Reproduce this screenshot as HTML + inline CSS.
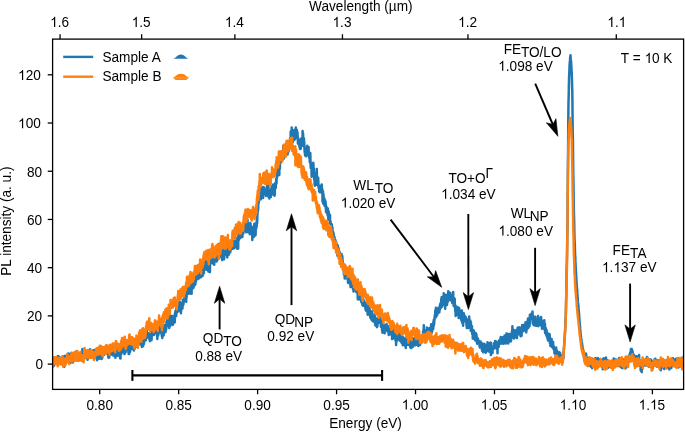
<!DOCTYPE html>
<html><head><meta charset="utf-8"><style>
html,body{margin:0;padding:0;background:#fff;}
svg{display:block;will-change:transform;}
text{font-family:"Liberation Sans",sans-serif;font-size:13.64px;fill:#000;}
</style></head><body>
<svg width="685" height="432" viewBox="0 0 685 432">

<rect width="685" height="432" fill="#fff"/>
<clipPath id="c"><rect x="52.6" y="39.1" width="631.0" height="350.29999999999995"/></clipPath><g clip-path="url(#c)"><polyline points="49.7,361.9 49.8,360.8 49.9,361.7 50.0,364.7 50.1,360.2 50.3,361.0 50.4,362.7 50.5,360.5 50.6,360.8 50.7,361.0 50.9,361.5 51.0,360.6 51.1,363.3 51.2,362.3 51.3,363.1 51.5,361.1 51.6,362.4 51.7,363.1 51.8,364.1 51.9,363.1 52.1,362.5 52.2,362.9 52.3,359.7 52.4,360.1 52.5,367.2 52.7,365.4 52.8,361.9 52.9,362.3 53.0,361.0 53.1,361.1 53.3,357.4 53.4,364.0 53.5,362.7 53.6,358.1 53.7,361.1 53.9,361.2 54.0,363.6 54.1,365.8 54.2,362.2 54.3,362.2 54.5,364.7 54.6,363.5 54.7,362.2 54.8,363.9 54.9,362.3 55.1,361.9 55.2,362.1 55.3,363.2 55.4,361.0 55.5,360.3 55.7,361.2 55.8,363.2 55.9,359.6 56.0,361.6 56.1,358.3 56.3,361.6 56.4,357.1 56.5,358.5 56.6,360.6 56.7,358.6 56.9,357.8 57.0,357.4 57.1,360.0 57.2,360.4 57.3,358.0 57.5,359.5 57.6,358.2 57.7,357.2 57.8,362.0 57.9,358.1 58.1,356.1 58.2,359.0 58.3,359.9 58.4,356.7 58.5,357.7 58.7,356.4 58.8,359.0 58.9,361.4 59.0,358.8 59.1,359.7 59.3,357.5 59.4,359.0 59.5,362.9 59.6,362.4 59.7,358.5 59.9,359.2 60.0,362.1 60.1,361.0 60.2,360.2 60.3,360.2 60.5,359.3 60.6,360.4 60.7,360.9 60.8,360.9 60.9,357.9 61.1,364.2 61.2,359.6 61.3,359.0 61.4,361.8 61.5,358.2 61.7,360.2 61.8,357.2 61.9,359.4 62.0,357.9 62.1,357.0 62.3,358.9 62.4,361.5 62.5,362.9 62.6,356.4 62.7,360.2 62.9,361.5 63.0,359.9 63.1,360.6 63.2,358.7 63.3,360.5 63.5,360.7 63.6,362.5 63.7,360.3 63.8,363.6 63.9,360.3 64.1,358.7 64.2,364.9 64.3,366.7 64.4,360.2 64.5,356.0 64.7,362.9 64.8,363.1 64.9,359.0 65.0,361.6 65.1,360.6 65.3,360.1 65.4,358.1 65.5,359.9 65.6,358.4 65.7,359.2 65.9,360.5 66.0,359.3 66.1,360.5 66.2,358.4 66.3,360.7 66.5,360.5 66.6,355.2 66.7,358.2 66.8,358.0 66.9,356.6 67.1,358.2 67.2,357.5 67.3,355.9 67.4,355.9 67.5,358.6 67.7,354.3 67.8,357.2 67.9,358.2 68.0,358.1 68.1,357.3 68.3,353.5 68.4,359.6 68.5,357.1 68.6,362.1 68.7,358.0 68.9,356.2 69.0,358.6 69.1,359.4 69.2,357.6 69.3,356.6 69.5,356.7 69.6,354.0 69.7,357.7 69.8,359.4 69.9,358.6 70.1,358.6 70.2,358.5 70.3,358.9 70.4,358.7 70.5,362.7 70.7,357.6 70.8,360.6 70.9,361.9 71.0,358.2 71.1,356.7 71.3,358.3 71.4,358.8 71.5,360.8 71.6,352.7 71.7,356.5 71.9,360.4 72.0,359.3 72.1,357.2 72.2,360.4 72.3,356.6 72.5,357.7 72.6,354.2 72.7,354.8 72.8,362.5 72.9,357.0 73.1,360.6 73.2,355.1 73.3,357.2 73.4,356.6 73.5,360.0 73.7,353.9 73.8,353.5 73.9,359.7 74.0,356.6 74.1,358.5 74.3,357.0 74.4,359.3 74.5,352.5 74.6,358.1 74.7,356.4 74.9,354.5 75.0,356.5 75.1,355.4 75.2,355.8 75.3,354.6 75.5,356.5 75.6,354.8 75.7,354.1 75.8,354.1 75.9,353.1 76.1,353.7 76.2,351.4 76.3,353.6 76.4,353.2 76.5,354.4 76.7,354.4 76.8,356.2 76.9,352.9 77.0,356.8 77.1,356.4 77.3,354.5 77.4,354.9 77.5,356.9 77.6,360.6 77.7,355.7 77.9,356.3 78.0,359.9 78.1,355.5 78.2,358.6 78.3,359.5 78.5,357.0 78.6,357.6 78.7,356.8 78.8,360.6 78.9,353.5 79.1,358.4 79.2,360.3 79.3,355.8 79.4,357.7 79.5,356.1 79.7,357.4 79.8,356.6 79.9,355.8 80.0,357.7 80.1,354.5 80.3,356.8 80.4,357.4 80.5,355.3 80.6,354.4 80.7,355.7 80.9,357.0 81.0,353.8 81.1,358.7 81.2,357.2 81.3,354.9 81.5,357.8 81.6,354.8 81.7,355.0 81.8,353.0 81.9,356.8 82.1,356.3 82.2,354.5 82.3,360.5 82.4,349.1 82.5,357.3 82.7,357.5 82.8,354.3 82.9,356.2 83.0,359.9 83.1,354.8 83.3,354.1 83.4,356.7 83.5,356.2 83.6,354.5 83.7,357.3 83.9,354.5 84.0,355.0 84.1,356.9 84.2,358.6 84.3,356.3 84.5,357.8 84.6,354.1 84.7,355.9 84.8,354.6 84.9,355.8 85.1,355.4 85.2,357.3 85.3,353.9 85.4,351.2 85.5,355.2 85.7,355.5 85.8,354.3 85.9,354.8 86.0,355.2 86.1,353.5 86.3,354.6 86.4,351.3 86.5,354.8 86.6,354.6 86.7,353.8 86.9,356.9 87.0,353.7 87.1,358.3 87.2,358.9 87.3,358.0 87.5,357.4 87.6,359.8 87.7,356.6 87.8,359.6 87.9,352.7 88.1,355.3 88.2,355.9 88.3,356.0 88.4,354.5 88.5,353.8 88.7,355.2 88.8,354.7 88.9,353.0 89.0,353.6 89.1,350.5 89.3,350.0 89.4,352.4 89.5,351.4 89.6,355.2 89.7,351.1 89.9,352.5 90.0,351.5 90.1,349.2 90.2,357.3 90.3,352.0 90.5,354.9 90.6,351.5 90.7,355.6 90.8,354.1 90.9,352.9 91.1,352.2 91.2,353.5 91.3,355.4 91.4,355.0 91.5,352.0 91.7,353.8 91.8,357.2 91.9,351.7 92.0,352.5 92.1,351.3 92.3,353.7 92.4,351.1 92.5,354.9 92.6,351.4 92.7,353.6 92.9,351.1 93.0,350.4 93.1,354.1 93.2,352.8 93.3,352.7 93.5,350.5 93.6,351.8 93.7,356.1 93.8,352.9 93.9,352.6 94.1,350.0 94.2,358.2 94.3,356.0 94.4,352.2 94.5,357.9 94.7,357.6 94.8,354.0 94.9,352.9 95.0,356.4 95.1,353.8 95.3,354.6 95.4,351.6 95.5,354.7 95.6,352.6 95.7,356.6 95.9,355.1 96.0,355.1 96.1,352.7 96.2,354.1 96.3,357.2 96.5,354.4 96.6,354.5 96.7,356.6 96.8,357.1 96.9,357.1 97.1,360.2 97.2,356.2 97.3,356.0 97.4,358.2 97.5,354.6 97.7,358.9 97.8,357.0 97.9,356.6 98.0,351.2 98.1,358.5 98.3,353.7 98.4,352.7 98.5,353.6 98.6,351.7 98.7,356.2 98.9,358.8 99.0,352.4 99.1,356.6 99.2,354.9 99.3,357.0 99.5,352.5 99.6,353.2 99.7,356.8 99.8,353.6 99.9,355.5 100.1,356.2 100.2,355.9 100.3,356.6 100.4,355.0 100.5,355.8 100.7,357.4 100.8,354.8 100.9,358.4 101.0,356.8 101.1,356.7 101.3,354.7 101.4,359.0 101.5,354.3 101.6,357.5 101.7,358.0 101.9,358.6 102.0,355.4 102.1,355.9 102.2,357.7 102.3,357.1 102.5,355.4 102.6,355.2 102.7,351.2 102.8,350.5 102.9,351.5 103.1,352.7 103.2,354.5 103.3,353.6 103.4,352.0 103.5,349.5 103.7,352.0 103.8,354.4 103.9,353.5 104.0,354.4 104.1,354.7 104.3,353.2 104.4,352.2 104.5,348.6 104.6,352.2 104.7,349.5 104.9,348.6 105.0,352.2 105.1,349.0 105.2,350.9 105.3,353.3 105.5,351.8 105.6,352.2 105.7,352.5 105.8,352.2 105.9,351.2 106.1,350.2 106.2,352.7 106.3,350.6 106.4,353.6 106.5,349.8 106.7,349.1 106.8,350.3 106.9,350.4 107.0,350.2 107.1,353.3 107.3,352.9 107.4,351.9 107.5,351.3 107.6,353.0 107.7,348.9 107.9,354.8 108.0,352.7 108.1,352.3 108.2,355.4 108.3,356.9 108.5,357.6 108.6,354.7 108.7,352.5 108.8,354.0 108.9,353.9 109.1,354.7 109.2,352.3 109.3,357.6 109.4,352.3 109.5,352.4 109.7,355.1 109.8,347.4 109.9,354.7 110.0,353.8 110.1,353.9 110.3,348.7 110.4,352.7 110.5,349.2 110.6,349.1 110.7,349.7 110.9,352.8 111.0,351.3 111.1,346.5 111.2,352.8 111.3,352.0 111.5,350.8 111.6,349.0 111.7,350.4 111.8,349.6 111.9,353.6 112.1,349.4 112.2,350.3 112.3,355.0 112.4,348.3 112.5,346.6 112.7,353.1 112.8,351.3 112.9,348.4 113.0,354.5 113.1,355.5 113.3,354.1 113.4,352.6 113.5,352.6 113.6,350.2 113.7,350.9 113.9,354.2 114.0,350.5 114.1,347.8 114.2,349.5 114.3,350.2 114.5,352.7 114.6,351.1 114.7,355.8 114.8,352.6 114.9,354.9 115.1,352.7 115.2,354.3 115.3,357.7 115.4,355.0 115.5,352.4 115.7,357.0 115.8,355.3 115.9,355.2 116.0,356.3 116.1,350.6 116.3,349.6 116.4,350.5 116.5,351.6 116.6,352.2 116.7,351.7 116.9,353.8 117.0,350.4 117.1,350.1 117.2,350.4 117.3,353.4 117.5,352.0 117.6,352.4 117.7,348.1 117.8,351.4 117.9,355.7 118.1,350.6 118.2,347.4 118.3,349.9 118.4,349.4 118.5,351.2 118.7,355.6 118.8,355.3 118.9,354.3 119.0,352.0 119.1,351.3 119.3,350.7 119.4,353.1 119.5,350.4 119.6,353.1 119.7,354.1 119.9,350.7 120.0,354.4 120.1,358.1 120.2,354.4 120.3,351.8 120.5,358.5 120.6,352.5 120.7,352.4 120.8,354.7 120.9,354.7 121.1,352.4 121.2,352.4 121.3,348.2 121.4,349.8 121.5,353.7 121.7,351.7 121.8,347.9 121.9,344.9 122.0,347.8 122.1,347.6 122.3,344.0 122.4,347.8 122.5,348.3 122.6,350.7 122.7,348.8 122.9,343.1 123.0,351.1 123.1,348.3 123.2,351.7 123.3,348.7 123.5,347.4 123.6,350.2 123.7,348.5 123.8,348.9 123.9,349.9 124.1,347.6 124.2,350.0 124.3,352.6 124.4,353.7 124.5,354.1 124.7,351.2 124.8,352.7 124.9,345.7 125.0,347.2 125.1,351.0 125.3,350.5 125.4,345.4 125.5,352.4 125.6,348.5 125.7,344.8 125.9,348.2 126.0,346.7 126.1,346.0 126.2,343.5 126.3,344.4 126.5,343.8 126.6,343.4 126.7,344.8 126.8,342.7 126.9,347.0 127.1,348.9 127.2,350.1 127.3,350.1 127.4,348.2 127.5,345.1 127.7,347.3 127.8,349.3 127.9,350.6 128.0,349.6 128.1,349.6 128.3,350.1 128.4,352.2 128.5,350.2 128.6,347.1 128.7,354.1 128.9,350.0 129.0,354.1 129.1,348.9 129.2,350.9 129.3,353.6 129.5,348.6 129.6,344.6 129.7,348.0 129.8,345.3 129.9,347.7 130.1,351.8 130.2,345.6 130.3,347.2 130.4,349.2 130.5,343.9 130.7,344.8 130.8,346.4 130.9,343.3 131.0,347.1 131.1,343.8 131.3,347.3 131.4,344.1 131.5,347.6 131.6,341.7 131.7,344.1 131.9,341.2 132.0,345.8 132.1,344.6 132.2,341.4 132.3,349.0 132.5,345.0 132.6,340.2 132.7,341.3 132.8,340.1 132.9,342.8 133.1,340.8 133.2,343.6 133.3,345.0 133.4,345.7 133.5,343.2 133.7,343.3 133.8,343.7 133.9,350.4 134.0,347.2 134.1,344.2 134.3,342.7 134.4,344.8 134.5,345.6 134.6,348.8 134.7,339.2 134.9,346.1 135.0,339.8 135.1,340.0 135.2,342.8 135.3,344.7 135.5,343.2 135.6,346.2 135.7,343.3 135.8,344.1 135.9,343.2 136.1,342.4 136.2,340.9 136.3,345.7 136.4,342.5 136.5,346.5 136.7,346.5 136.8,345.6 136.9,346.1 137.0,341.3 137.1,341.0 137.3,339.9 137.4,342.4 137.5,341.3 137.6,342.9 137.7,343.9 137.9,340.0 138.0,340.2 138.1,343.1 138.2,339.1 138.3,344.1 138.5,340.5 138.6,341.3 138.7,340.9 138.8,341.9 138.9,337.2 139.1,337.9 139.2,336.4 139.3,338.7 139.4,341.9 139.5,339.9 139.7,341.9 139.8,338.5 139.9,337.1 140.0,339.4 140.1,341.8 140.3,341.6 140.4,340.5 140.5,344.5 140.6,341.0 140.7,341.1 140.9,342.9 141.0,342.8 141.1,341.6 141.2,344.0 141.3,344.2 141.5,340.8 141.6,342.3 141.7,339.1 141.8,345.2 141.9,346.9 142.1,340.6 142.2,340.4 142.3,344.0 142.4,345.3 142.5,341.9 142.7,345.5 142.8,342.2 142.9,346.3 143.0,342.0 143.1,346.3 143.3,342.1 143.4,338.2 143.5,342.2 143.6,339.8 143.7,342.7 143.9,342.9 144.0,343.9 144.1,337.6 144.2,339.6 144.3,335.3 144.5,341.2 144.6,338.6 144.7,337.6 144.8,334.2 144.9,333.0 145.1,338.4 145.2,339.2 145.3,340.2 145.4,332.9 145.5,335.8 145.7,336.7 145.8,334.9 145.9,340.2 146.0,337.9 146.1,331.5 146.3,332.4 146.4,332.7 146.5,335.1 146.6,331.4 146.7,328.7 146.9,335.7 147.0,333.1 147.1,334.5 147.2,333.2 147.3,334.5 147.5,335.3 147.6,337.5 147.7,335.9 147.8,337.5 147.9,336.6 148.1,336.5 148.2,334.7 148.3,337.4 148.4,336.6 148.5,333.2 148.7,336.0 148.8,336.0 148.9,333.4 149.0,334.8 149.1,335.4 149.3,335.4 149.4,339.1 149.5,335.5 149.6,333.9 149.7,335.9 149.9,341.1 150.0,337.1 150.1,339.9 150.2,338.4 150.3,337.6 150.5,340.5 150.6,334.6 150.7,337.6 150.8,335.4 150.9,335.4 151.1,333.5 151.2,333.5 151.3,339.3 151.4,335.5 151.5,340.1 151.7,335.9 151.8,332.8 151.9,332.0 152.0,330.8 152.1,334.4 152.3,332.6 152.4,333.0 152.5,330.3 152.6,329.5 152.7,334.1 152.9,324.7 153.0,333.5 153.1,334.5 153.2,332.3 153.3,331.9 153.5,332.3 153.6,334.9 153.7,329.8 153.8,332.7 153.9,329.0 154.1,329.0 154.2,334.8 154.3,333.9 154.4,333.7 154.5,330.6 154.7,330.9 154.8,330.3 154.9,332.6 155.0,329.6 155.1,327.1 155.3,333.2 155.4,330.4 155.5,329.1 155.6,329.8 155.7,329.9 155.9,325.3 156.0,326.5 156.1,327.7 156.2,331.7 156.3,325.2 156.5,330.0 156.6,332.7 156.7,332.7 156.8,333.6 156.9,328.1 157.1,333.0 157.2,333.7 157.3,339.0 157.4,332.3 157.5,336.4 157.7,336.2 157.8,331.8 157.9,334.7 158.0,330.2 158.1,328.9 158.3,335.1 158.4,330.8 158.5,333.7 158.6,329.9 158.7,327.4 158.9,332.5 159.0,325.1 159.1,330.0 159.2,332.0 159.3,329.5 159.5,327.4 159.6,332.4 159.7,329.1 159.8,332.2 159.9,326.0 160.1,328.4 160.2,329.7 160.3,326.3 160.4,331.8 160.5,329.8 160.7,324.8 160.8,329.7 160.9,326.5 161.0,329.6 161.1,332.0 161.3,331.4 161.4,331.0 161.5,332.6 161.6,334.1 161.7,334.4 161.9,336.5 162.0,333.1 162.1,332.7 162.2,332.0 162.3,338.0 162.5,331.8 162.6,333.5 162.7,336.4 162.8,332.5 162.9,330.3 163.1,330.6 163.2,329.7 163.3,328.8 163.4,328.6 163.5,330.6 163.7,335.2 163.8,331.9 163.9,329.2 164.0,331.0 164.1,328.2 164.3,327.8 164.4,329.4 164.5,325.0 164.6,331.7 164.7,327.2 164.9,330.5 165.0,331.3 165.1,328.2 165.2,331.1 165.3,327.6 165.5,332.3 165.6,329.3 165.7,331.0 165.8,329.0 165.9,328.7 166.1,329.8 166.2,324.8 166.3,328.5 166.4,327.2 166.5,322.2 166.7,321.5 166.8,321.9 166.9,322.4 167.0,317.7 167.1,325.9 167.3,324.8 167.4,325.4 167.5,321.0 167.6,322.4 167.7,320.4 167.9,320.6 168.0,323.3 168.1,324.6 168.2,324.9 168.3,317.2 168.5,320.0 168.6,320.9 168.7,323.1 168.8,322.8 168.9,323.1 169.1,323.0 169.2,327.9 169.3,322.2 169.4,322.8 169.5,320.9 169.7,320.8 169.8,318.9 169.9,320.7 170.0,318.5 170.1,326.3 170.3,322.5 170.4,315.6 170.5,322.5 170.6,320.1 170.7,317.6 170.9,321.4 171.0,317.4 171.1,322.6 171.2,323.8 171.3,322.5 171.5,323.5 171.6,320.0 171.7,321.1 171.8,320.1 171.9,324.0 172.1,315.9 172.2,322.8 172.3,323.1 172.4,322.1 172.5,324.0 172.7,324.9 172.8,323.0 172.9,320.8 173.0,321.1 173.1,320.1 173.3,323.4 173.4,323.5 173.5,316.3 173.6,321.4 173.7,319.2 173.9,318.0 174.0,315.8 174.1,322.0 174.2,319.3 174.3,318.6 174.5,317.7 174.6,322.2 174.7,316.0 174.8,322.3 174.9,314.0 175.1,313.0 175.2,312.5 175.3,316.6 175.4,311.0 175.5,315.1 175.7,315.7 175.8,314.7 175.9,314.0 176.0,311.1 176.1,309.1 176.3,315.9 176.4,311.6 176.5,307.7 176.6,309.0 176.7,307.9 176.9,312.6 177.0,306.3 177.1,312.2 177.2,307.7 177.3,304.7 177.5,303.3 177.6,306.6 177.7,305.7 177.8,309.4 177.9,309.1 178.1,305.0 178.2,307.9 178.3,308.1 178.4,311.2 178.5,307.1 178.7,305.6 178.8,308.8 178.9,307.8 179.0,302.2 179.1,305.4 179.3,306.2 179.4,308.1 179.5,306.8 179.6,306.0 179.7,302.1 179.9,307.4 180.0,301.9 180.1,309.1 180.2,308.2 180.3,305.7 180.5,308.8 180.6,310.7 180.7,309.1 180.8,307.8 180.9,313.2 181.1,309.5 181.2,309.0 181.3,309.5 181.4,306.3 181.5,309.3 181.7,308.5 181.8,307.2 181.9,305.2 182.0,307.4 182.1,302.9 182.3,308.8 182.4,303.1 182.5,308.2 182.6,306.2 182.7,304.5 182.9,299.9 183.0,302.3 183.1,305.0 183.2,300.2 183.3,303.4 183.5,304.3 183.6,300.6 183.7,301.0 183.8,298.4 183.9,301.8 184.1,299.1 184.2,298.2 184.3,298.9 184.4,299.5 184.5,301.1 184.7,296.9 184.8,298.7 184.9,297.7 185.0,299.8 185.1,298.8 185.3,301.4 185.4,298.5 185.5,296.8 185.6,298.4 185.7,296.4 185.9,297.7 186.0,294.8 186.1,298.4 186.2,301.7 186.3,295.8 186.5,296.7 186.6,297.9 186.7,292.9 186.8,293.0 186.9,291.6 187.1,292.8 187.2,290.7 187.3,289.9 187.4,285.4 187.5,291.3 187.7,289.2 187.8,288.0 187.9,293.2 188.0,292.8 188.1,283.0 188.3,293.1 188.4,287.1 188.5,290.7 188.6,290.5 188.7,293.7 188.9,291.0 189.0,286.8 189.1,292.5 189.2,287.5 189.3,288.4 189.5,284.2 189.6,290.7 189.7,286.2 189.8,287.2 189.9,290.1 190.1,293.5 190.2,285.0 190.3,292.2 190.4,289.6 190.5,285.9 190.7,285.1 190.8,290.0 190.9,287.7 191.0,288.2 191.1,284.2 191.3,280.6 191.4,291.7 191.5,284.3 191.6,293.8 191.7,286.1 191.9,288.7 192.0,280.4 192.1,284.9 192.2,287.0 192.3,286.2 192.5,286.2 192.6,284.1 192.7,284.9 192.8,282.6 192.9,280.2 193.1,282.3 193.2,287.2 193.3,288.2 193.4,285.8 193.5,280.9 193.7,284.4 193.8,285.0 193.9,282.7 194.0,286.6 194.1,285.8 194.3,281.4 194.4,283.4 194.5,283.8 194.6,281.8 194.7,284.2 194.9,284.4 195.0,283.7 195.1,280.7 195.2,281.8 195.3,284.6 195.5,281.7 195.6,278.5 195.7,274.5 195.8,281.6 195.9,277.0 196.1,277.8 196.2,274.3 196.3,274.8 196.4,271.8 196.5,274.1 196.7,276.9 196.8,276.9 196.9,274.6 197.0,274.8 197.1,269.7 197.3,271.7 197.4,279.1 197.5,274.8 197.6,278.8 197.7,279.1 197.9,272.1 198.0,271.9 198.1,275.4 198.2,267.7 198.3,274.1 198.5,274.4 198.6,269.4 198.7,270.6 198.8,271.8 198.9,271.9 199.1,271.4 199.2,272.8 199.3,273.2 199.4,278.2 199.5,277.1 199.7,272.3 199.8,276.1 199.9,273.1 200.0,271.5 200.1,276.0 200.3,274.4 200.4,269.8 200.5,273.4 200.6,270.3 200.7,271.0 200.9,272.9 201.0,275.0 201.1,276.6 201.2,277.1 201.3,272.5 201.5,272.3 201.6,273.7 201.7,270.7 201.8,274.4 201.9,269.6 202.1,272.2 202.2,272.3 202.3,272.0 202.4,272.1 202.5,265.0 202.7,275.7 202.8,270.6 202.9,267.4 203.0,268.4 203.1,270.7 203.3,264.7 203.4,271.7 203.5,271.8 203.6,266.3 203.7,271.3 203.9,273.4 204.0,264.3 204.1,264.3 204.2,264.1 204.3,267.1 204.5,265.0 204.6,267.7 204.7,260.2 204.8,262.4 204.9,262.3 205.1,269.3 205.2,261.8 205.3,260.0 205.4,260.8 205.5,262.1 205.7,264.4 205.8,265.6 205.9,263.4 206.0,264.3 206.1,265.1 206.3,266.9 206.4,261.8 206.5,269.7 206.6,266.7 206.7,268.2 206.9,263.8 207.0,262.5 207.1,262.8 207.2,263.8 207.3,269.4 207.5,259.7 207.6,263.7 207.7,265.2 207.8,264.7 207.9,265.6 208.1,263.5 208.2,263.7 208.3,265.5 208.4,271.5 208.5,264.6 208.7,263.3 208.8,263.2 208.9,265.1 209.0,263.5 209.1,262.1 209.3,266.3 209.4,261.2 209.5,270.6 209.6,268.8 209.7,267.9 209.9,272.1 210.0,268.1 210.1,261.8 210.2,261.4 210.3,264.0 210.5,258.9 210.6,262.1 210.7,263.3 210.8,260.4 210.9,260.6 211.1,257.5 211.2,262.9 211.3,255.6 211.4,259.3 211.5,255.6 211.7,262.1 211.8,259.2 211.9,258.2 212.0,256.5 212.1,262.8 212.3,255.6 212.4,259.5 212.5,262.8 212.6,258.6 212.7,262.0 212.9,259.4 213.0,256.3 213.1,260.4 213.2,263.6 213.3,262.9 213.5,259.6 213.6,259.8 213.7,262.1 213.8,261.0 213.9,256.8 214.1,251.7 214.2,264.7 214.3,255.2 214.4,257.4 214.5,254.4 214.7,253.9 214.8,256.0 214.9,258.9 215.0,259.9 215.1,261.3 215.3,252.9 215.4,257.0 215.5,258.0 215.6,257.3 215.7,260.3 215.9,255.8 216.0,253.0 216.1,253.4 216.2,260.7 216.3,252.7 216.5,258.5 216.6,261.6 216.7,259.7 216.8,259.0 216.9,256.4 217.1,259.2 217.2,260.5 217.3,256.9 217.4,250.7 217.5,257.6 217.7,254.1 217.8,254.8 217.9,247.3 218.0,259.3 218.1,250.7 218.3,256.8 218.4,254.7 218.5,253.1 218.6,244.0 218.7,254.7 218.9,257.9 219.0,249.4 219.1,255.6 219.2,254.3 219.3,254.1 219.5,254.2 219.6,255.3 219.7,254.3 219.8,254.1 219.9,252.8 220.1,256.1 220.2,256.6 220.3,257.0 220.4,252.0 220.5,253.2 220.7,251.0 220.8,250.6 220.9,247.1 221.0,251.0 221.1,249.4 221.3,254.8 221.4,254.6 221.5,252.7 221.6,255.5 221.7,250.5 221.9,256.4 222.0,252.9 222.1,260.1 222.2,256.7 222.3,254.8 222.5,254.7 222.6,259.1 222.7,253.9 222.8,251.5 222.9,252.4 223.1,255.9 223.2,255.6 223.3,257.0 223.4,251.8 223.5,249.3 223.7,254.5 223.8,257.5 223.9,251.9 224.0,250.2 224.1,259.3 224.3,251.0 224.4,245.0 224.5,248.2 224.6,248.4 224.7,248.4 224.9,246.1 225.0,251.4 225.1,250.9 225.2,247.4 225.3,250.5 225.5,248.1 225.6,254.4 225.7,247.4 225.8,247.5 225.9,250.1 226.1,250.1 226.2,246.5 226.3,254.3 226.4,254.2 226.5,255.0 226.7,253.5 226.8,255.4 226.9,252.7 227.0,254.8 227.1,257.1 227.3,257.3 227.4,249.6 227.5,252.9 227.6,253.0 227.7,252.0 227.9,251.9 228.0,249.2 228.1,249.4 228.2,252.2 228.3,252.5 228.5,253.0 228.6,253.2 228.7,245.7 228.8,251.9 228.9,254.8 229.1,251.4 229.2,251.1 229.3,248.0 229.4,251.3 229.5,247.3 229.7,247.8 229.8,245.4 229.9,242.9 230.0,241.1 230.1,245.3 230.3,252.3 230.4,250.2 230.5,248.4 230.6,243.4 230.7,247.2 230.9,245.7 231.0,249.4 231.1,247.1 231.2,246.6 231.3,249.7 231.5,246.1 231.6,245.0 231.7,248.2 231.8,244.6 231.9,242.6 232.1,246.6 232.2,246.5 232.3,247.0 232.4,247.5 232.5,245.0 232.7,246.2 232.8,245.7 232.9,246.8 233.0,248.8 233.1,247.1 233.3,243.8 233.4,248.2 233.5,247.0 233.6,241.0 233.7,242.8 233.9,248.1 234.0,244.7 234.1,248.3 234.2,242.0 234.3,248.0 234.5,245.8 234.6,241.9 234.7,247.6 234.8,241.2 234.9,246.7 235.1,243.3 235.2,244.4 235.3,243.5 235.4,242.5 235.5,242.8 235.7,245.2 235.8,239.7 235.9,239.9 236.0,238.3 236.1,238.0 236.3,245.7 236.4,238.6 236.5,238.9 236.6,244.4 236.7,240.5 236.9,239.8 237.0,245.9 237.1,248.7 237.2,246.2 237.3,237.5 237.5,244.7 237.6,248.5 237.7,245.4 237.8,246.9 237.9,244.5 238.1,242.2 238.2,248.6 238.3,239.4 238.4,235.4 238.5,239.0 238.7,238.7 238.8,233.8 238.9,240.0 239.0,239.6 239.1,239.8 239.3,236.3 239.4,234.9 239.5,236.3 239.6,234.6 239.7,233.9 239.9,234.8 240.0,238.3 240.1,236.6 240.2,232.0 240.3,238.1 240.5,235.5 240.6,235.5 240.7,234.5 240.8,236.7 240.9,237.1 241.1,225.7 241.2,230.0 241.3,234.3 241.4,232.2 241.5,229.8 241.7,232.5 241.8,229.5 241.9,232.8 242.0,231.8 242.1,230.8 242.3,231.5 242.4,236.9 242.5,229.5 242.6,228.4 242.7,227.4 242.9,231.2 243.0,227.0 243.1,227.1 243.2,232.5 243.3,233.6 243.5,225.9 243.6,230.0 243.7,224.5 243.8,221.3 243.9,229.2 244.1,229.6 244.2,227.7 244.3,225.8 244.4,230.9 244.5,224.0 244.7,224.5 244.8,225.3 244.9,228.5 245.0,224.2 245.1,224.3 245.3,230.1 245.4,220.8 245.5,227.8 245.6,226.0 245.7,228.7 245.9,226.3 246.0,224.2 246.1,229.8 246.2,232.2 246.3,228.7 246.5,231.1 246.6,229.4 246.7,227.5 246.8,227.2 246.9,223.2 247.1,229.7 247.2,225.8 247.3,228.2 247.4,222.9 247.5,219.6 247.7,226.1 247.8,222.3 247.9,228.7 248.0,231.9 248.1,231.2 248.3,232.3 248.4,230.7 248.5,229.0 248.6,225.3 248.7,226.9 248.9,227.9 249.0,230.6 249.1,231.7 249.2,229.7 249.3,229.4 249.5,228.9 249.6,228.4 249.7,229.5 249.8,234.3 249.9,231.7 250.1,230.5 250.2,223.1 250.3,228.9 250.4,225.7 250.5,223.5 250.7,226.9 250.8,229.3 250.9,229.4 251.0,232.0 251.1,228.8 251.3,227.1 251.4,229.3 251.5,229.3 251.6,230.0 251.7,226.7 251.9,234.5 252.0,232.5 252.1,231.0 252.2,229.5 252.3,239.9 252.5,234.4 252.6,233.4 252.7,235.5 252.8,230.0 252.9,231.6 253.1,233.1 253.2,236.4 253.3,235.3 253.4,234.2 253.5,230.0 253.7,234.6 253.8,236.9 253.9,235.1 254.0,232.6 254.1,226.1 254.3,223.7 254.4,232.0 254.5,227.9 254.6,226.5 254.7,226.8 254.9,230.7 255.0,234.1 255.1,231.7 255.2,235.6 255.3,229.5 255.5,227.8 255.6,235.1 255.7,229.5 255.8,228.0 255.9,224.7 256.1,223.8 256.2,224.8 256.3,228.4 256.4,226.9 256.5,222.0 256.7,226.4 256.8,223.8 256.9,217.9 257.0,220.6 257.1,223.4 257.3,218.6 257.4,214.2 257.5,214.8 257.6,209.2 257.7,207.1 257.9,211.2 258.0,209.5 258.1,207.2 258.2,209.2 258.3,203.3 258.5,203.6 258.6,199.5 258.7,202.4 258.8,202.2 258.9,193.3 259.1,200.6 259.2,199.1 259.3,199.1 259.4,197.5 259.5,199.0 259.7,196.3 259.8,198.1 259.9,197.1 260.0,194.6 260.1,193.4 260.3,193.9 260.4,197.3 260.5,193.7 260.6,195.0 260.7,194.7 260.9,199.2 261.0,191.9 261.1,194.1 261.2,188.3 261.3,191.3 261.5,196.4 261.6,197.1 261.7,189.6 261.8,195.7 261.9,191.3 262.1,194.6 262.2,187.8 262.3,194.2 262.4,190.4 262.5,191.3 262.7,196.9 262.8,196.6 262.9,191.2 263.0,195.6 263.1,197.9 263.3,191.4 263.4,186.9 263.5,194.1 263.6,189.3 263.7,193.4 263.9,188.4 264.0,192.7 264.1,187.6 264.2,189.6 264.3,191.4 264.5,190.0 264.6,192.1 264.7,193.8 264.8,193.7 264.9,190.8 265.1,194.0 265.2,189.9 265.3,190.1 265.4,190.7 265.5,194.0 265.7,192.8 265.8,193.4 265.9,189.6 266.0,196.1 266.1,194.7 266.3,194.0 266.4,193.4 266.5,194.8 266.6,193.9 266.7,188.6 266.9,193.0 267.0,188.0 267.1,184.4 267.2,186.5 267.3,195.6 267.5,187.9 267.6,188.9 267.7,188.8 267.8,195.5 267.9,188.7 268.1,194.5 268.2,187.7 268.3,188.7 268.4,184.6 268.5,193.6 268.7,197.2 268.8,189.8 268.9,190.6 269.0,194.7 269.1,189.8 269.3,192.2 269.4,198.5 269.5,196.0 269.6,196.6 269.7,195.7 269.9,194.8 270.0,197.3 270.1,195.4 270.2,192.6 270.3,194.0 270.5,193.9 270.6,193.3 270.7,192.1 270.8,197.0 270.9,190.4 271.1,193.6 271.2,190.1 271.3,194.8 271.4,187.7 271.5,189.9 271.7,194.8 271.8,190.3 271.9,193.4 272.0,186.0 272.1,190.0 272.3,193.9 272.4,190.9 272.5,191.6 272.6,187.9 272.7,190.2 272.9,189.6 273.0,194.3 273.1,188.5 273.2,184.5 273.3,188.8 273.5,190.8 273.6,190.3 273.7,193.7 273.8,190.5 273.9,194.5 274.1,191.2 274.2,192.6 274.3,194.0 274.4,189.7 274.5,195.8 274.7,191.2 274.8,194.7 274.9,184.9 275.0,184.0 275.1,186.8 275.3,183.0 275.4,186.2 275.5,185.6 275.6,187.6 275.7,188.1 275.9,184.1 276.0,185.0 276.1,183.6 276.2,178.8 276.3,180.2 276.5,183.3 276.6,178.1 276.7,178.7 276.8,176.4 276.9,178.0 277.1,170.5 277.2,167.8 277.3,176.6 277.4,171.0 277.5,170.9 277.7,175.8 277.8,172.1 277.9,168.0 278.0,169.5 278.1,166.9 278.3,175.0 278.4,173.3 278.5,169.7 278.6,169.0 278.7,169.5 278.9,170.2 279.0,169.6 279.1,169.6 279.2,165.7 279.3,174.9 279.5,161.0 279.6,166.9 279.7,169.1 279.8,162.5 279.9,167.9 280.1,161.8 280.2,163.6 280.3,159.9 280.4,158.6 280.5,156.3 280.7,161.1 280.8,159.8 280.9,158.2 281.0,161.9 281.1,155.2 281.3,156.1 281.4,160.3 281.5,152.2 281.6,151.5 281.7,159.7 281.9,153.9 282.0,151.8 282.1,153.0 282.2,158.6 282.3,159.9 282.5,155.9 282.6,157.0 282.7,155.4 282.8,155.6 282.9,153.6 283.1,156.9 283.2,155.6 283.3,146.0 283.4,155.7 283.5,153.1 283.7,154.6 283.8,154.9 283.9,158.5 284.0,154.0 284.1,155.7 284.3,152.9 284.4,148.8 284.5,154.2 284.6,152.0 284.7,157.0 284.9,153.0 285.0,148.1 285.1,152.6 285.2,153.9 285.3,150.9 285.5,151.7 285.6,151.6 285.7,151.6 285.8,144.0 285.9,152.5 286.1,150.8 286.2,151.0 286.3,145.2 286.4,149.9 286.5,145.0 286.7,148.7 286.8,149.6 286.9,154.4 287.0,146.4 287.1,148.8 287.3,149.4 287.4,151.1 287.5,152.0 287.6,154.5 287.7,147.3 287.9,149.2 288.0,150.8 288.1,151.4 288.2,148.8 288.3,149.2 288.5,143.6 288.6,146.0 288.7,150.1 288.8,151.4 288.9,148.3 289.1,150.0 289.2,146.4 289.3,144.8 289.4,143.4 289.5,143.4 289.7,144.6 289.8,141.3 289.9,145.1 290.0,141.6 290.1,137.9 290.3,138.7 290.4,142.8 290.5,141.8 290.6,142.6 290.7,131.5 290.9,141.7 291.0,137.1 291.1,130.9 291.2,133.3 291.3,132.6 291.5,138.3 291.6,134.5 291.7,127.4 291.8,137.2 291.9,135.9 292.1,138.3 292.2,137.5 292.3,136.5 292.4,133.4 292.5,140.7 292.7,142.4 292.8,137.7 292.9,137.0 293.0,132.9 293.1,134.6 293.3,138.4 293.4,134.1 293.5,131.9 293.6,134.0 293.7,135.6 293.9,132.2 294.0,135.3 294.1,140.0 294.2,130.0 294.3,138.4 294.5,135.5 294.6,135.6 294.7,135.7 294.8,135.6 294.9,139.2 295.1,133.0 295.2,134.4 295.3,134.2 295.4,130.7 295.5,130.4 295.7,129.4 295.8,127.6 295.9,131.8 296.0,137.9 296.1,132.2 296.3,132.7 296.4,132.5 296.5,134.5 296.6,135.4 296.7,130.2 296.9,129.8 297.0,136.6 297.1,131.6 297.2,134.2 297.3,135.4 297.5,132.5 297.6,135.5 297.7,137.7 297.8,136.5 297.9,143.6 298.1,139.9 298.2,140.1 298.3,143.8 298.4,139.5 298.5,139.8 298.7,143.1 298.8,142.3 298.9,140.2 299.0,139.5 299.1,145.6 299.3,142.7 299.4,140.9 299.5,144.7 299.6,147.4 299.7,147.8 299.9,146.6 300.0,149.0 300.1,139.6 300.2,147.6 300.3,144.5 300.5,144.9 300.6,143.2 300.7,146.1 300.8,148.7 300.9,139.1 301.1,144.1 301.2,143.1 301.3,142.4 301.4,138.6 301.5,139.7 301.7,137.9 301.8,138.5 301.9,140.1 302.0,139.4 302.1,142.1 302.3,145.5 302.4,140.0 302.5,142.4 302.6,131.0 302.7,134.3 302.9,135.7 303.0,141.4 303.1,133.6 303.2,145.9 303.3,144.9 303.5,144.2 303.6,145.4 303.7,142.6 303.8,143.0 303.9,138.2 304.1,141.7 304.2,141.6 304.3,144.7 304.4,147.0 304.5,149.4 304.7,152.6 304.8,151.3 304.9,150.4 305.0,147.4 305.1,155.6 305.3,155.1 305.4,150.6 305.5,154.8 305.6,150.8 305.7,153.3 305.9,154.5 306.0,156.3 306.1,152.4 306.2,154.2 306.3,153.6 306.5,153.3 306.6,150.4 306.7,150.1 306.8,155.4 306.9,150.2 307.1,148.1 307.2,145.8 307.3,146.5 307.4,148.3 307.5,152.6 307.7,151.6 307.8,146.7 307.9,152.1 308.0,147.2 308.1,147.0 308.3,154.8 308.4,150.8 308.5,153.1 308.6,147.0 308.7,151.1 308.9,155.7 309.0,153.2 309.1,157.5 309.2,155.3 309.3,154.4 309.5,154.8 309.6,154.6 309.7,158.7 309.8,162.1 309.9,158.2 310.1,160.6 310.2,160.8 310.3,153.1 310.4,157.1 310.5,162.3 310.7,167.3 310.8,168.1 310.9,164.2 311.0,163.3 311.1,168.6 311.3,168.3 311.4,168.9 311.5,167.2 311.6,176.8 311.7,171.0 311.9,170.3 312.0,168.6 312.1,170.0 312.2,174.1 312.3,171.8 312.5,174.0 312.6,168.1 312.7,167.5 312.8,166.0 312.9,170.3 313.1,170.7 313.2,162.8 313.3,167.3 313.4,163.2 313.5,168.0 313.7,174.6 313.8,168.7 313.9,168.3 314.0,174.3 314.1,179.6 314.3,172.5 314.4,175.6 314.5,174.9 314.6,184.5 314.7,175.4 314.9,185.7 315.0,180.4 315.1,175.6 315.2,184.2 315.3,184.6 315.5,180.5 315.6,174.3 315.7,174.4 315.8,181.0 315.9,175.9 316.1,176.9 316.2,177.6 316.3,177.0 316.4,180.0 316.5,175.1 316.7,174.2 316.8,169.1 316.9,174.5 317.0,184.7 317.1,181.1 317.3,176.7 317.4,177.9 317.5,184.1 317.6,179.4 317.7,180.5 317.9,180.2 318.0,181.0 318.1,178.6 318.2,177.7 318.3,180.8 318.5,187.1 318.6,187.3 318.7,187.6 318.8,186.7 318.9,188.6 319.1,189.2 319.2,191.5 319.3,186.4 319.4,187.1 319.5,187.0 319.7,190.1 319.8,188.4 319.9,192.3 320.0,192.3 320.1,190.5 320.3,186.7 320.4,188.5 320.5,191.1 320.6,187.0 320.7,185.7 320.9,186.4 321.0,188.8 321.1,186.8 321.2,188.6 321.3,188.8 321.5,188.7 321.6,186.9 321.7,184.4 321.8,185.9 321.9,189.3 322.1,192.9 322.2,193.1 322.3,193.3 322.4,189.5 322.5,201.4 322.7,192.8 322.8,199.9 322.9,194.6 323.0,191.4 323.1,198.8 323.3,203.7 323.4,194.1 323.5,194.5 323.6,198.5 323.7,197.2 323.9,204.1 324.0,198.9 324.1,197.9 324.2,201.4 324.3,202.7 324.5,199.9 324.6,200.4 324.7,206.0 324.8,199.8 324.9,201.8 325.1,203.6 325.2,200.4 325.3,201.8 325.4,202.5 325.5,206.5 325.7,202.8 325.8,208.8 325.9,206.3 326.0,211.4 326.1,211.9 326.3,206.2 326.4,208.3 326.5,208.5 326.6,207.6 326.7,208.9 326.9,213.1 327.0,210.8 327.1,211.7 327.2,213.5 327.3,212.7 327.5,213.9 327.6,215.1 327.7,214.7 327.8,213.5 327.9,208.6 328.1,217.3 328.2,213.8 328.3,219.8 328.4,211.1 328.5,216.8 328.7,215.4 328.8,212.1 328.9,213.0 329.0,220.1 329.1,214.3 329.3,216.7 329.4,214.5 329.5,216.1 329.6,214.9 329.7,216.6 329.9,218.4 330.0,215.1 330.1,223.5 330.2,220.9 330.3,223.0 330.5,221.3 330.6,222.7 330.7,222.5 330.8,224.1 330.9,224.8 331.1,228.9 331.2,225.1 331.3,224.9 331.4,228.4 331.5,229.4 331.7,230.2 331.8,224.3 331.9,229.2 332.0,229.3 332.1,231.7 332.3,232.7 332.4,234.1 332.5,227.6 332.6,237.1 332.7,231.7 332.9,233.0 333.0,234.1 333.1,238.3 333.2,238.0 333.3,232.3 333.5,237.6 333.6,233.9 333.7,235.1 333.8,236.0 333.9,236.1 334.1,242.3 334.2,241.0 334.3,238.4 334.4,244.6 334.5,237.0 334.7,243.9 334.8,243.0 334.9,246.1 335.0,242.5 335.1,245.7 335.3,244.3 335.4,246.8 335.5,240.3 335.6,248.1 335.7,242.3 335.9,243.1 336.0,242.8 336.1,247.3 336.2,242.1 336.3,242.8 336.5,245.6 336.6,245.7 336.7,247.5 336.8,245.6 336.9,250.0 337.1,246.4 337.2,246.9 337.3,252.1 337.4,255.6 337.5,248.8 337.7,249.1 337.8,245.5 337.9,248.9 338.0,250.8 338.1,253.5 338.3,250.3 338.4,251.9 338.5,253.7 338.6,251.2 338.7,248.3 338.9,251.3 339.0,254.8 339.1,251.4 339.2,255.7 339.3,257.6 339.5,252.4 339.6,255.9 339.7,252.0 339.8,254.9 339.9,258.5 340.1,256.3 340.2,253.9 340.3,258.4 340.4,261.1 340.5,260.3 340.7,261.0 340.8,262.1 340.9,262.5 341.0,257.8 341.1,255.9 341.3,259.8 341.4,256.6 341.5,256.2 341.6,254.0 341.7,259.2 341.9,259.7 342.0,257.8 342.1,258.8 342.2,258.5 342.3,256.0 342.5,261.0 342.6,259.6 342.7,263.2 342.8,261.5 342.9,263.5 343.1,264.4 343.2,263.8 343.3,265.4 343.4,264.2 343.5,264.0 343.7,271.2 343.8,265.3 343.9,274.6 344.0,268.4 344.1,267.5 344.3,271.4 344.4,270.4 344.5,271.9 344.6,267.5 344.7,278.6 344.9,272.8 345.0,275.6 345.1,270.2 345.2,267.4 345.3,268.0 345.5,269.6 345.6,270.9 345.7,273.8 345.8,268.6 345.9,270.3 346.1,274.3 346.2,275.5 346.3,273.8 346.4,269.3 346.5,269.0 346.7,268.2 346.8,274.9 346.9,274.2 347.0,270.0 347.1,273.7 347.3,272.8 347.4,279.0 347.5,277.2 347.6,276.9 347.7,278.4 347.9,279.1 348.0,282.7 348.1,274.4 348.2,278.6 348.3,283.0 348.5,276.4 348.6,279.0 348.7,277.3 348.8,279.6 348.9,281.1 349.1,280.9 349.2,278.0 349.3,276.9 349.4,277.7 349.5,277.4 349.7,276.1 349.8,278.8 349.9,277.2 350.0,277.3 350.1,279.9 350.3,281.3 350.4,282.9 350.5,285.5 350.6,287.1 350.7,280.2 350.9,284.3 351.0,286.3 351.1,281.1 351.2,283.0 351.3,285.5 351.5,283.0 351.6,286.0 351.7,284.4 351.8,280.3 351.9,282.0 352.1,285.3 352.2,282.6 352.3,281.3 352.4,284.8 352.5,285.8 352.7,280.1 352.8,286.0 352.9,288.9 353.0,285.3 353.1,279.9 353.3,284.3 353.4,283.4 353.5,291.5 353.6,287.2 353.7,282.5 353.9,286.6 354.0,282.1 354.1,284.2 354.2,284.4 354.3,281.1 354.5,286.9 354.6,286.9 354.7,285.5 354.8,285.4 354.9,290.6 355.1,283.2 355.2,286.1 355.3,287.4 355.4,285.7 355.5,288.7 355.7,284.9 355.8,288.1 355.9,286.7 356.0,291.2 356.1,289.9 356.3,288.6 356.4,292.3 356.5,292.0 356.6,290.8 356.7,288.2 356.9,289.5 357.0,289.5 357.1,291.4 357.2,290.2 357.3,288.8 357.5,292.6 357.6,292.2 357.7,292.2 357.8,299.2 357.9,294.6 358.1,293.6 358.2,293.1 358.3,296.1 358.4,293.1 358.5,297.4 358.7,296.3 358.8,291.7 358.9,299.5 359.0,296.3 359.1,296.5 359.3,296.3 359.4,297.4 359.5,294.3 359.6,298.7 359.7,299.2 359.9,294.6 360.0,298.8 360.1,294.7 360.2,295.6 360.3,297.5 360.5,296.7 360.6,296.2 360.7,295.0 360.8,297.9 360.9,297.1 361.1,300.5 361.2,297.8 361.3,302.2 361.4,297.7 361.5,298.9 361.7,292.6 361.8,294.8 361.9,298.6 362.0,295.9 362.1,297.7 362.3,301.4 362.4,304.9 362.5,296.2 362.6,298.3 362.7,304.5 362.9,298.3 363.0,298.0 363.1,302.4 363.2,299.1 363.3,305.9 363.5,302.5 363.6,302.2 363.7,300.7 363.8,302.1 363.9,302.9 364.1,302.4 364.2,305.8 364.3,300.8 364.4,305.6 364.5,303.1 364.7,305.3 364.8,306.2 364.9,304.4 365.0,305.0 365.1,303.0 365.3,304.0 365.4,308.4 365.5,306.0 365.6,307.3 365.7,309.6 365.9,310.4 366.0,307.0 366.1,308.8 366.2,310.7 366.3,307.3 366.5,306.4 366.6,306.7 366.7,310.0 366.8,308.8 366.9,304.3 367.1,310.1 367.2,309.5 367.3,303.4 367.4,308.7 367.5,311.0 367.7,314.8 367.8,309.2 367.9,313.3 368.0,309.8 368.1,311.8 368.3,313.6 368.4,305.3 368.5,309.6 368.6,307.2 368.7,307.8 368.9,311.6 369.0,309.9 369.1,311.4 369.2,308.5 369.3,310.2 369.5,312.6 369.6,308.1 369.7,311.3 369.8,311.8 369.9,315.2 370.1,312.6 370.2,317.4 370.3,312.8 370.4,316.4 370.5,313.8 370.7,315.0 370.8,313.8 370.9,313.5 371.0,314.7 371.1,314.8 371.3,318.5 371.4,319.7 371.5,312.1 371.6,314.1 371.7,319.3 371.9,311.3 372.0,317.9 372.1,315.2 372.2,315.6 372.3,316.7 372.5,315.8 372.6,321.0 372.7,318.2 372.8,319.1 372.9,318.7 373.1,319.8 373.2,320.9 373.3,321.2 373.4,317.3 373.5,321.4 373.7,318.2 373.8,318.0 373.9,318.9 374.0,317.5 374.1,317.1 374.3,319.8 374.4,317.8 374.5,314.3 374.6,321.9 374.7,320.5 374.9,322.2 375.0,316.1 375.1,324.8 375.2,321.9 375.3,320.0 375.5,324.6 375.6,323.0 375.7,324.4 375.8,325.8 375.9,322.5 376.1,320.9 376.2,322.9 376.3,321.4 376.4,320.0 376.5,318.8 376.7,324.8 376.8,320.5 376.9,323.8 377.0,327.1 377.1,324.7 377.3,321.4 377.4,322.3 377.5,325.7 377.6,319.0 377.7,321.7 377.9,322.4 378.0,323.1 378.1,320.3 378.2,321.8 378.3,317.7 378.5,319.2 378.6,318.1 378.7,320.1 378.8,322.7 378.9,317.7 379.1,321.3 379.2,319.2 379.3,319.0 379.4,320.9 379.5,317.1 379.7,322.7 379.8,316.0 379.9,321.2 380.0,317.8 380.1,317.4 380.3,322.9 380.4,322.9 380.5,319.3 380.6,321.5 380.7,322.0 380.9,326.8 381.0,326.6 381.1,321.6 381.2,319.7 381.3,324.9 381.5,325.6 381.6,323.4 381.7,323.2 381.8,323.4 381.9,326.4 382.1,330.6 382.2,323.2 382.3,328.4 382.4,324.7 382.5,332.8 382.7,327.5 382.8,329.7 382.9,331.0 383.0,326.1 383.1,325.1 383.3,329.3 383.4,326.2 383.5,330.0 383.6,328.8 383.7,327.8 383.9,328.0 384.0,325.7 384.1,330.0 384.2,325.0 384.3,325.1 384.5,328.0 384.6,330.3 384.7,333.2 384.8,327.9 384.9,329.5 385.1,327.6 385.2,330.4 385.3,327.9 385.4,328.0 385.5,327.8 385.7,327.1 385.8,327.0 385.9,325.3 386.0,329.3 386.1,325.7 386.3,327.0 386.4,328.3 386.5,329.7 386.6,324.0 386.7,326.9 386.9,328.8 387.0,327.5 387.1,327.8 387.2,329.1 387.3,331.1 387.5,327.6 387.6,328.4 387.7,328.8 387.8,326.0 387.9,331.5 388.1,330.9 388.2,328.5 388.3,327.2 388.4,328.0 388.5,328.0 388.7,334.9 388.8,328.9 388.9,329.3 389.0,328.8 389.1,332.0 389.3,329.3 389.4,328.2 389.5,326.9 389.6,330.1 389.7,333.8 389.9,330.7 390.0,329.4 390.1,329.8 390.2,326.8 390.3,331.7 390.5,333.7 390.6,333.0 390.7,330.2 390.8,333.7 390.9,334.4 391.1,334.1 391.2,329.6 391.3,332.0 391.4,333.6 391.5,331.1 391.7,331.8 391.8,335.8 391.9,332.0 392.0,333.6 392.1,339.1 392.3,337.3 392.4,334.1 392.5,333.7 392.6,335.4 392.7,336.9 392.9,333.9 393.0,338.4 393.1,332.7 393.2,334.0 393.3,333.4 393.5,334.6 393.6,331.0 393.7,338.0 393.8,334.5 393.9,331.2 394.1,334.2 394.2,329.5 394.3,332.2 394.4,335.3 394.5,331.6 394.7,335.0 394.8,334.1 394.9,337.5 395.0,338.2 395.1,335.8 395.3,337.7 395.4,340.0 395.5,340.5 395.6,337.2 395.7,334.7 395.9,340.5 396.0,337.0 396.1,345.0 396.2,341.5 396.3,336.8 396.5,334.7 396.6,338.1 396.7,337.0 396.8,337.6 396.9,335.8 397.1,340.4 397.2,336.4 397.3,338.7 397.4,338.3 397.5,337.4 397.7,337.7 397.8,339.0 397.9,337.8 398.0,339.4 398.1,334.1 398.3,335.9 398.4,338.5 398.5,334.0 398.6,334.7 398.7,336.4 398.9,338.6 399.0,336.8 399.1,336.1 399.2,334.3 399.3,337.9 399.5,338.9 399.6,332.8 399.7,335.1 399.8,337.8 399.9,340.8 400.1,337.8 400.2,336.6 400.3,337.5 400.4,337.3 400.5,339.1 400.7,336.5 400.8,340.3 400.9,339.9 401.0,340.0 401.1,340.2 401.3,334.4 401.4,342.5 401.5,338.3 401.6,341.1 401.7,341.9 401.9,339.1 402.0,343.1 402.1,340.1 402.2,335.1 402.3,340.9 402.5,340.0 402.6,343.2 402.7,340.5 402.8,345.2 402.9,341.6 403.1,342.3 403.2,337.2 403.3,342.2 403.4,342.7 403.5,343.0 403.7,344.3 403.8,339.8 403.9,338.2 404.0,342.2 404.1,339.8 404.3,342.2 404.4,340.5 404.5,340.4 404.6,344.7 404.7,343.2 404.9,339.4 405.0,345.8 405.1,341.5 405.2,342.4 405.3,343.7 405.5,341.6 405.6,341.2 405.7,340.8 405.8,348.0 405.9,338.5 406.1,343.5 406.2,340.2 406.3,342.8 406.4,343.9 406.5,342.8 406.7,335.7 406.8,339.3 406.9,343.6 407.0,342.3 407.1,340.3 407.3,341.4 407.4,342.5 407.5,342.9 407.6,344.7 407.7,340.4 407.9,339.4 408.0,336.7 408.1,342.6 408.2,339.7 408.3,341.0 408.5,338.0 408.6,341.0 408.7,342.3 408.8,344.7 408.9,339.5 409.1,341.1 409.2,339.3 409.3,343.4 409.4,336.9 409.5,344.7 409.7,342.4 409.8,343.0 409.9,341.8 410.0,345.0 410.1,346.9 410.3,347.2 410.4,343.3 410.5,345.0 410.6,344.4 410.7,347.0 410.9,344.8 411.0,344.6 411.1,343.6 411.2,348.1 411.3,346.4 411.5,340.7 411.6,345.2 411.7,344.2 411.8,344.6 411.9,346.8 412.1,345.5 412.2,342.1 412.3,344.2 412.4,338.0 412.5,345.9 412.7,346.9 412.8,343.5 412.9,345.4 413.0,339.7 413.1,343.8 413.3,341.7 413.4,345.9 413.5,341.1 413.6,340.8 413.7,339.1 413.9,341.0 414.0,339.9 414.1,340.2 414.2,338.2 414.3,340.9 414.5,338.6 414.6,341.1 414.7,338.3 414.8,340.8 414.9,341.9 415.1,342.3 415.2,337.9 415.3,345.0 415.4,345.2 415.5,340.6 415.7,344.4 415.8,343.2 415.9,343.2 416.0,336.9 416.1,343.3 416.3,343.3 416.4,342.3 416.5,340.7 416.6,339.8 416.7,344.1 416.9,339.6 417.0,336.0 417.1,344.3 417.2,338.8 417.3,338.3 417.5,339.6 417.6,340.4 417.7,345.3 417.8,337.3 417.9,340.9 418.1,340.8 418.2,337.7 418.3,346.0 418.4,341.0 418.5,339.7 418.7,339.6 418.8,340.0 418.9,336.9 419.0,340.9 419.1,339.3 419.3,340.0 419.4,345.2 419.5,343.6 419.6,337.3 419.7,342.6 419.9,342.1 420.0,344.9 420.1,342.5 420.2,344.4 420.3,342.4 420.5,339.3 420.6,341.9 420.7,340.9 420.8,336.0 420.9,337.5 421.1,337.0 421.2,335.7 421.3,339.1 421.4,338.7 421.5,342.5 421.7,336.2 421.8,338.4 421.9,338.0 422.0,340.4 422.1,336.4 422.3,336.1 422.4,336.7 422.5,340.3 422.6,338.1 422.7,335.7 422.9,337.0 423.0,333.6 423.1,331.6 423.2,335.0 423.3,333.2 423.5,333.9 423.6,329.5 423.7,329.5 423.8,325.2 423.9,331.3 424.1,333.6 424.2,330.8 424.3,332.7 424.4,332.2 424.5,330.4 424.7,334.5 424.8,332.7 424.9,339.7 425.0,332.8 425.1,335.3 425.3,336.4 425.4,337.2 425.5,332.8 425.6,337.3 425.7,333.1 425.9,337.1 426.0,335.6 426.1,334.5 426.2,330.2 426.3,333.8 426.5,333.3 426.6,333.4 426.7,333.4 426.8,333.5 426.9,327.4 427.1,327.7 427.2,332.4 427.3,330.1 427.4,333.1 427.5,328.1 427.7,328.8 427.8,330.2 427.9,332.6 428.0,329.3 428.1,330.0 428.3,332.2 428.4,330.5 428.5,335.7 428.6,334.3 428.7,335.4 428.9,333.1 429.0,329.6 429.1,333.4 429.2,330.7 429.3,333.2 429.5,333.8 429.6,330.1 429.7,330.7 429.8,328.1 429.9,328.6 430.1,332.2 430.2,335.7 430.3,329.0 430.4,331.7 430.5,332.0 430.7,332.1 430.8,330.1 430.9,329.2 431.0,328.9 431.1,324.3 431.3,332.2 431.4,329.6 431.5,332.6 431.6,332.1 431.7,329.5 431.9,328.6 432.0,332.4 432.1,326.4 432.2,330.9 432.3,326.1 432.5,328.0 432.6,325.3 432.7,325.7 432.8,327.4 432.9,325.2 433.1,329.2 433.2,328.8 433.3,326.2 433.4,321.7 433.5,326.4 433.7,325.6 433.8,319.7 433.9,323.1 434.0,322.6 434.1,324.5 434.3,321.2 434.4,319.2 434.5,319.9 434.6,317.2 434.7,317.4 434.9,314.9 435.0,314.7 435.1,316.3 435.2,313.3 435.3,310.6 435.5,313.9 435.6,317.4 435.7,313.8 435.8,314.7 435.9,307.8 436.1,312.2 436.2,316.6 436.3,314.2 436.4,310.0 436.5,316.1 436.7,314.2 436.8,312.6 436.9,312.7 437.0,313.4 437.1,311.4 437.3,314.9 437.4,312.7 437.5,312.6 437.6,311.8 437.7,311.8 437.9,311.0 438.0,311.7 438.1,311.8 438.2,309.7 438.3,308.1 438.5,307.7 438.6,312.6 438.7,308.8 438.8,307.4 438.9,309.6 439.1,307.7 439.2,309.3 439.3,307.7 439.4,312.3 439.5,307.3 439.7,309.4 439.8,309.8 439.9,308.4 440.0,304.8 440.1,304.4 440.3,305.5 440.4,303.4 440.5,305.9 440.6,307.3 440.7,308.3 440.9,303.2 441.0,303.0 441.1,302.2 441.2,301.9 441.3,298.8 441.5,304.1 441.6,303.6 441.7,296.9 441.8,299.7 441.9,302.3 442.1,306.6 442.2,303.5 442.3,302.2 442.4,301.5 442.5,300.7 442.7,301.8 442.8,298.3 442.9,304.3 443.0,302.1 443.1,303.3 443.3,299.9 443.4,301.6 443.5,300.3 443.6,302.3 443.7,293.3 443.9,301.0 444.0,304.8 444.1,302.9 444.2,303.8 444.3,300.7 444.5,300.0 444.6,301.2 444.7,302.4 444.8,303.5 444.9,297.6 445.1,298.6 445.2,308.7 445.3,301.1 445.4,303.3 445.5,302.1 445.7,296.8 445.8,303.9 445.9,303.6 446.0,294.7 446.1,302.1 446.3,301.5 446.4,298.0 446.5,302.2 446.6,300.8 446.7,300.3 446.9,297.4 447.0,305.0 447.1,303.1 447.2,301.3 447.3,298.6 447.5,302.5 447.6,299.5 447.7,301.8 447.8,301.2 447.9,296.6 448.1,299.9 448.2,291.3 448.3,297.2 448.4,294.7 448.5,295.0 448.7,300.3 448.8,299.8 448.9,294.3 449.0,298.1 449.1,296.5 449.3,296.0 449.4,297.6 449.5,292.5 449.6,293.7 449.7,295.5 449.9,294.8 450.0,298.8 450.1,294.4 450.2,298.9 450.3,292.9 450.5,298.7 450.6,298.6 450.7,294.5 450.8,296.1 450.9,300.5 451.1,297.0 451.2,299.1 451.3,299.5 451.4,298.5 451.5,298.9 451.7,298.3 451.8,299.9 451.9,300.4 452.0,301.5 452.1,297.4 452.3,303.1 452.4,296.2 452.5,295.4 452.6,295.3 452.7,301.0 452.9,295.2 453.0,297.5 453.1,297.7 453.2,292.1 453.3,299.8 453.5,298.9 453.6,303.5 453.7,306.0 453.8,299.7 453.9,299.4 454.1,298.8 454.2,300.0 454.3,306.0 454.4,300.4 454.5,299.1 454.7,298.6 454.8,305.7 454.9,306.4 455.0,306.9 455.1,307.8 455.3,311.4 455.4,310.1 455.5,305.5 455.6,313.1 455.7,315.9 455.9,312.6 456.0,313.6 456.1,310.9 456.2,314.6 456.3,313.1 456.5,314.5 456.6,314.5 456.7,310.8 456.8,311.0 456.9,311.1 457.1,309.3 457.2,312.4 457.3,310.1 457.4,309.5 457.5,307.1 457.7,314.7 457.8,311.0 457.9,309.2 458.0,311.8 458.1,310.3 458.3,309.0 458.4,309.6 458.5,315.1 458.6,314.0 458.7,318.0 458.9,309.5 459.0,310.8 459.1,308.1 459.2,311.5 459.3,314.6 459.5,309.4 459.6,315.5 459.7,312.5 459.8,313.4 459.9,311.3 460.1,311.4 460.2,315.2 460.3,316.5 460.4,315.5 460.5,317.4 460.7,314.2 460.8,316.0 460.9,313.9 461.0,311.1 461.1,319.7 461.3,319.0 461.4,316.2 461.5,316.2 461.6,317.8 461.7,320.9 461.9,310.4 462.0,316.4 462.1,319.6 462.2,322.8 462.3,313.9 462.5,316.9 462.6,318.1 462.7,321.1 462.8,319.2 462.9,320.3 463.1,325.8 463.2,313.5 463.3,319.0 463.4,320.9 463.5,322.3 463.7,321.1 463.8,313.3 463.9,317.8 464.0,321.4 464.1,315.5 464.3,315.9 464.4,315.5 464.5,316.7 464.6,316.6 464.7,315.7 464.9,316.8 465.0,319.9 465.1,319.1 465.2,317.0 465.3,321.3 465.5,318.2 465.6,319.1 465.7,317.0 465.8,318.8 465.9,320.4 466.1,320.8 466.2,319.5 466.3,318.7 466.4,324.0 466.5,325.5 466.7,323.9 466.8,328.0 466.9,324.6 467.0,320.8 467.1,320.6 467.3,319.4 467.4,323.1 467.5,322.9 467.6,324.7 467.7,324.5 467.9,322.5 468.0,320.9 468.1,322.0 468.2,327.9 468.3,321.8 468.5,323.1 468.6,324.7 468.7,323.1 468.8,321.5 468.9,323.6 469.1,326.0 469.2,316.4 469.3,326.2 469.4,323.7 469.5,321.8 469.7,326.9 469.8,323.4 469.9,326.8 470.0,325.3 470.1,326.5 470.3,320.6 470.4,328.3 470.5,324.1 470.6,325.5 470.7,330.7 470.9,322.2 471.0,328.1 471.1,327.7 471.2,326.9 471.3,329.8 471.5,329.7 471.6,328.2 471.7,330.4 471.8,328.5 471.9,326.1 472.1,332.0 472.2,334.0 472.3,331.2 472.4,330.6 472.5,330.5 472.7,335.2 472.8,338.6 472.9,331.3 473.0,331.9 473.1,330.1 473.3,335.9 473.4,332.3 473.5,331.3 473.6,337.9 473.7,331.3 473.9,330.6 474.0,332.9 474.1,333.3 474.2,333.2 474.3,336.0 474.5,339.1 474.6,338.2 474.7,336.8 474.8,338.5 474.9,334.2 475.1,337.5 475.2,336.7 475.3,340.4 475.4,335.4 475.5,337.9 475.7,332.9 475.8,340.5 475.9,336.1 476.0,338.1 476.1,338.4 476.3,334.1 476.4,336.2 476.5,340.6 476.6,335.8 476.7,340.6 476.9,337.5 477.0,343.4 477.1,340.2 477.2,340.2 477.3,340.3 477.5,343.1 477.6,343.8 477.7,339.6 477.8,338.2 477.9,339.5 478.1,340.4 478.2,343.1 478.3,340.5 478.4,341.4 478.5,342.1 478.7,340.4 478.8,340.7 478.9,340.5 479.0,342.2 479.1,343.7 479.3,342.5 479.4,342.9 479.5,346.1 479.6,343.3 479.7,346.5 479.9,347.4 480.0,345.1 480.1,345.0 480.2,342.4 480.3,344.9 480.5,343.3 480.6,341.6 480.7,344.7 480.8,344.2 480.9,346.6 481.1,343.4 481.2,345.1 481.3,345.2 481.4,348.0 481.5,347.9 481.7,347.6 481.8,346.3 481.9,344.6 482.0,350.7 482.1,348.6 482.3,348.9 482.4,343.5 482.5,349.2 482.6,350.1 482.7,347.3 482.9,351.3 483.0,347.5 483.1,352.2 483.2,343.8 483.3,348.0 483.5,348.5 483.6,350.2 483.7,347.4 483.8,346.7 483.9,348.3 484.1,344.0 484.2,347.4 484.3,346.5 484.4,346.2 484.5,344.0 484.7,348.0 484.8,347.2 484.9,347.0 485.0,346.5 485.1,352.1 485.3,345.8 485.4,348.7 485.5,350.1 485.6,348.7 485.7,352.8 485.9,350.3 486.0,348.1 486.1,345.4 486.2,348.5 486.3,347.4 486.5,348.8 486.6,346.3 486.7,349.1 486.8,347.3 486.9,349.2 487.1,350.7 487.2,350.9 487.3,350.3 487.4,346.5 487.5,342.2 487.7,349.7 487.8,351.0 487.9,348.3 488.0,348.4 488.1,350.6 488.3,345.2 488.4,347.4 488.5,347.2 488.6,349.0 488.7,348.7 488.9,346.7 489.0,351.6 489.1,350.0 489.2,347.7 489.3,350.8 489.5,343.6 489.6,348.2 489.7,347.4 489.8,345.6 489.9,342.9 490.1,346.3 490.2,348.1 490.3,348.7 490.4,346.5 490.5,348.5 490.7,342.4 490.8,345.1 490.9,355.0 491.0,350.2 491.1,347.6 491.3,343.4 491.4,353.0 491.5,349.7 491.6,346.3 491.7,350.7 491.9,349.3 492.0,350.8 492.1,348.4 492.2,352.3 492.3,349.9 492.5,353.0 492.6,347.4 492.7,347.9 492.8,349.0 492.9,348.4 493.1,348.1 493.2,348.6 493.3,347.2 493.4,346.6 493.5,347.5 493.7,348.7 493.8,348.3 493.9,348.4 494.0,346.4 494.1,346.9 494.3,342.8 494.4,347.3 494.5,346.4 494.6,347.6 494.7,345.6 494.9,346.4 495.0,347.0 495.1,344.4 495.2,340.9 495.3,346.1 495.5,345.5 495.6,344.1 495.7,343.5 495.8,341.3 495.9,345.8 496.1,345.0 496.2,346.8 496.3,347.3 496.4,346.8 496.5,348.6 496.7,345.4 496.8,344.3 496.9,348.0 497.0,348.6 497.1,344.2 497.3,347.6 497.4,343.7 497.5,353.2 497.6,346.9 497.7,348.4 497.9,346.9 498.0,343.5 498.1,342.4 498.2,344.8 498.3,341.9 498.5,346.1 498.6,342.7 498.7,343.4 498.8,346.7 498.9,340.6 499.1,344.0 499.2,341.3 499.3,343.8 499.4,341.4 499.5,340.2 499.7,341.4 499.8,342.3 499.9,339.7 500.0,340.4 500.1,341.8 500.3,340.7 500.4,341.0 500.5,341.6 500.6,338.9 500.7,337.0 500.9,342.1 501.0,341.2 501.1,343.0 501.2,343.8 501.3,338.1 501.5,342.1 501.6,339.7 501.7,343.5 501.8,341.9 501.9,339.4 502.1,339.6 502.2,340.2 502.3,340.0 502.4,340.6 502.5,338.9 502.7,337.3 502.8,339.8 502.9,341.2 503.0,343.2 503.1,341.8 503.3,341.3 503.4,337.1 503.5,343.7 503.6,341.8 503.7,342.1 503.9,337.5 504.0,340.7 504.1,342.9 504.2,343.1 504.3,337.5 504.5,341.7 504.6,335.4 504.7,335.5 504.8,340.5 504.9,338.9 505.1,338.3 505.2,342.0 505.3,341.7 505.4,340.6 505.5,339.4 505.7,338.7 505.8,343.5 505.9,338.5 506.0,339.0 506.1,339.0 506.3,339.0 506.4,335.2 506.5,333.6 506.6,337.8 506.7,336.8 506.9,339.7 507.0,336.7 507.1,334.1 507.2,335.7 507.3,334.6 507.5,335.6 507.6,335.2 507.7,334.1 507.8,334.1 507.9,340.5 508.1,337.0 508.2,343.5 508.3,337.3 508.4,339.0 508.5,339.5 508.7,334.9 508.8,337.9 508.9,336.4 509.0,337.7 509.1,335.4 509.3,339.9 509.4,340.0 509.5,339.8 509.6,334.1 509.7,340.9 509.9,340.0 510.0,337.1 510.1,338.2 510.2,341.6 510.3,336.5 510.5,339.4 510.6,337.1 510.7,338.9 510.8,338.2 510.9,341.2 511.1,335.7 511.2,339.9 511.3,337.4 511.4,334.2 511.5,336.5 511.7,334.5 511.8,333.9 511.9,332.7 512.0,330.9 512.1,335.1 512.3,332.4 512.4,326.2 512.5,335.4 512.6,332.4 512.7,329.3 512.9,335.8 513.0,334.0 513.1,334.4 513.2,329.5 513.3,335.7 513.5,332.7 513.6,336.1 513.7,334.9 513.8,337.8 513.9,338.6 514.1,336.2 514.2,338.1 514.3,335.0 514.4,334.1 514.5,333.1 514.7,330.4 514.8,330.5 514.9,336.3 515.0,335.6 515.1,330.2 515.3,334.4 515.4,335.4 515.5,332.3 515.6,336.5 515.7,333.0 515.9,336.0 516.0,332.4 516.1,335.7 516.2,333.4 516.3,332.7 516.5,331.3 516.6,336.7 516.7,335.5 516.8,337.7 516.9,338.1 517.1,334.9 517.2,333.1 517.3,330.2 517.4,333.8 517.5,328.1 517.7,331.8 517.8,329.9 517.9,332.3 518.0,334.3 518.1,327.4 518.3,331.4 518.4,327.8 518.5,330.8 518.6,328.2 518.7,329.7 518.9,329.9 519.0,329.3 519.1,327.4 519.2,332.0 519.3,331.7 519.5,327.5 519.6,332.0 519.7,330.3 519.8,334.4 519.9,332.1 520.1,329.4 520.2,332.0 520.3,331.8 520.4,333.2 520.5,332.0 520.7,336.3 520.8,335.7 520.9,330.7 521.0,335.5 521.1,328.1 521.3,328.9 521.4,333.4 521.5,335.5 521.6,335.7 521.7,329.1 521.9,329.7 522.0,326.1 522.1,327.9 522.2,325.1 522.3,326.6 522.5,330.8 522.6,328.9 522.7,330.5 522.8,329.2 522.9,329.7 523.1,329.1 523.2,325.3 523.3,329.8 523.4,331.2 523.5,329.9 523.7,329.4 523.8,329.6 523.9,328.5 524.0,329.1 524.1,325.4 524.3,325.8 524.4,329.7 524.5,325.6 524.6,324.6 524.7,327.9 524.9,329.8 525.0,326.8 525.1,327.9 525.2,326.8 525.3,329.9 525.5,322.3 525.6,327.5 525.7,325.6 525.8,328.1 525.9,326.2 526.1,332.0 526.2,329.6 526.3,332.4 526.4,324.1 526.5,329.8 526.7,330.1 526.8,323.5 526.9,327.1 527.0,325.9 527.1,322.5 527.3,323.5 527.4,323.4 527.5,322.2 527.6,328.1 527.7,320.1 527.9,319.9 528.0,318.6 528.1,328.1 528.2,325.2 528.3,324.6 528.5,319.2 528.6,321.9 528.7,319.0 528.8,322.2 528.9,324.7 529.1,326.2 529.2,324.4 529.3,319.4 529.4,324.6 529.5,326.5 529.7,321.1 529.8,318.0 529.9,314.8 530.0,317.0 530.1,317.1 530.3,323.1 530.4,319.2 530.5,318.8 530.6,317.3 530.7,319.7 530.9,315.5 531.0,314.4 531.1,317.2 531.2,318.2 531.3,317.0 531.5,316.4 531.6,315.3 531.7,319.1 531.8,313.2 531.9,316.4 532.1,316.7 532.2,314.5 532.3,317.9 532.4,314.2 532.5,311.5 532.7,316.1 532.8,317.3 532.9,319.7 533.0,315.7 533.1,317.3 533.3,324.5 533.4,319.0 533.5,323.5 533.6,325.0 533.7,322.5 533.9,324.0 534.0,319.5 534.1,325.3 534.2,325.2 534.3,324.1 534.5,322.0 534.6,320.0 534.7,324.0 534.8,323.0 534.9,325.1 535.1,321.9 535.2,324.1 535.3,316.7 535.4,317.6 535.5,325.0 535.7,323.0 535.8,322.9 535.9,325.7 536.0,325.7 536.1,323.5 536.3,325.8 536.4,325.8 536.5,324.8 536.6,321.3 536.7,324.4 536.9,322.2 537.0,322.0 537.1,320.4 537.2,322.2 537.3,322.7 537.5,323.0 537.6,320.8 537.7,321.0 537.8,322.1 537.9,321.0 538.1,315.9 538.2,319.8 538.3,326.2 538.4,318.6 538.5,321.4 538.7,324.1 538.8,318.3 538.9,321.7 539.0,318.9 539.1,322.7 539.3,318.5 539.4,321.5 539.5,318.4 539.6,318.6 539.7,323.2 539.9,319.4 540.0,319.2 540.1,320.5 540.2,324.8 540.3,320.1 540.5,321.9 540.6,318.6 540.7,324.4 540.8,319.9 540.9,322.3 541.1,317.0 541.2,325.8 541.3,321.4 541.4,325.3 541.5,326.5 541.7,321.9 541.8,323.2 541.9,322.3 542.0,328.8 542.1,327.9 542.3,323.7 542.4,327.1 542.5,321.9 542.6,320.9 542.7,325.1 542.9,324.5 543.0,324.3 543.1,324.8 543.2,324.0 543.3,324.3 543.5,322.7 543.6,324.4 543.7,324.9 543.8,324.5 543.9,325.5 544.1,324.5 544.2,323.5 544.3,320.3 544.4,329.5 544.5,329.4 544.7,326.9 544.8,327.1 544.9,327.9 545.0,323.9 545.1,333.0 545.3,329.5 545.4,332.6 545.5,330.6 545.6,329.0 545.7,333.8 545.9,328.3 546.0,332.8 546.1,333.4 546.2,335.0 546.3,333.1 546.5,333.5 546.6,330.2 546.7,336.3 546.8,332.7 546.9,332.0 547.1,335.2 547.2,333.7 547.3,337.8 547.4,336.0 547.5,338.5 547.7,333.3 547.8,339.4 547.9,339.7 548.0,338.3 548.1,340.4 548.3,339.6 548.4,338.1 548.5,336.6 548.6,339.7 548.7,337.9 548.9,338.2 549.0,336.1 549.1,335.8 549.2,336.8 549.3,337.2 549.5,334.0 549.6,340.4 549.7,335.1 549.8,338.0 549.9,343.2 550.1,339.8 550.2,343.8 550.3,341.2 550.4,345.9 550.5,340.0 550.7,343.7 550.8,338.5 550.9,344.1 551.0,342.6 551.1,346.1 551.3,343.6 551.4,343.6 551.5,342.9 551.6,338.9 551.7,341.1 551.9,343.3 552.0,346.0 552.1,346.1 552.2,346.2 552.3,347.5 552.5,344.1 552.6,345.7 552.7,344.4 552.8,346.2 552.9,345.0 553.1,342.1 553.2,345.5 553.3,344.5 553.4,348.7 553.5,347.4 553.7,348.3 553.8,346.6 553.9,347.4 554.0,349.9 554.1,348.1 554.3,349.0 554.4,353.1 554.5,350.3 554.6,348.2 554.7,353.1 554.9,349.3 555.0,350.5 555.1,351.8 555.2,351.3 555.3,354.0 555.5,350.7 555.6,355.1 555.7,354.2 555.8,350.6 555.9,354.0 556.1,347.4 556.2,351.0 556.3,350.0 556.4,350.2 556.5,353.4 556.7,352.9 556.8,352.3 556.9,353.6 557.0,350.6 557.1,351.9 557.3,353.8 557.4,351.6 557.5,354.1 557.6,352.5 557.7,353.8 557.9,354.6 558.0,355.9 558.1,355.4 558.2,353.8 558.3,353.1 558.5,358.6 558.6,355.2 558.7,353.3 558.8,355.1 558.9,357.4 559.1,357.5 559.2,352.2 559.3,359.3 559.4,357.1 559.5,355.0 559.7,361.2 559.8,356.0 559.9,360.9 560.0,355.9 560.1,352.8 560.3,361.0 560.4,358.7 560.5,357.9 560.6,359.8 560.7,357.4 560.9,359.9 561.0,359.4 561.1,359.7 561.2,357.9 561.3,356.6 561.5,355.4 561.6,357.6 561.7,359.6 561.8,358.6 561.9,358.9 562.1,359.0 562.2,357.4 562.3,359.2 562.4,359.0 562.5,359.2 562.7,359.4 562.8,359.9 562.9,357.0 563.0,358.1 563.1,357.3 563.3,358.6 563.4,356.7 563.5,355.4 563.6,351.7 563.7,351.2 563.9,348.5 564.0,347.4 564.1,346.4 564.2,344.8 564.3,342.2 564.5,340.5 564.6,339.7 564.7,337.0 564.8,335.1 564.9,332.5 565.1,330.7 565.2,327.9 565.3,326.3 565.4,323.7 565.5,320.3 565.7,318.3 565.8,315.3 565.9,311.4 566.0,307.9 566.1,303.0 566.3,295.2 566.4,287.0 566.5,280.2 566.6,272.5 566.7,266.6 566.9,261.0 567.0,255.6 567.1,249.2 567.2,242.5 567.3,233.6 567.5,224.9 567.6,211.8 567.7,198.0 567.8,183.3 567.9,165.8 568.1,149.8 568.2,132.8 568.3,119.7 568.4,110.3 568.5,102.2 568.7,95.4 568.8,89.7 568.9,84.1 569.0,81.0 569.1,76.0 569.3,73.0 569.4,70.5 569.5,67.4 569.6,64.3 569.7,63.6 569.9,60.9 570.0,60.4 570.1,59.1 570.2,56.9 570.3,57.6 570.5,55.3 570.6,56.8 570.7,58.2 570.8,59.1 570.9,60.5 571.1,61.4 571.2,63.4 571.3,65.5 571.4,67.7 571.5,70.3 571.7,72.0 571.8,76.3 571.9,77.4 572.0,81.4 572.1,86.8 572.3,91.1 572.4,99.4 572.5,109.1 572.6,119.9 572.7,129.2 572.9,138.5 573.0,148.2 573.1,157.4 573.2,167.0 573.3,174.9 573.5,184.4 573.6,191.7 573.7,200.3 573.8,205.9 573.9,212.6 574.1,218.4 574.2,223.5 574.3,228.2 574.4,234.2 574.5,237.9 574.7,242.8 574.8,244.3 574.9,248.0 575.0,251.7 575.1,254.3 575.3,257.4 575.4,260.9 575.5,262.7 575.6,264.8 575.7,267.4 575.9,270.1 576.0,272.5 576.1,273.0 576.2,276.3 576.3,278.1 576.5,281.2 576.6,282.0 576.7,284.1 576.8,286.6 576.9,287.2 577.1,289.7 577.2,291.1 577.3,292.9 577.4,295.2 577.5,296.2 577.7,297.1 577.8,300.0 577.9,301.3 578.0,302.7 578.1,303.1 578.3,305.2 578.4,306.1 578.5,307.0 578.6,309.7 578.7,309.6 578.9,311.8 579.0,313.4 579.1,313.9 579.2,316.0 579.3,318.6 579.5,319.4 579.6,321.4 579.7,322.4 579.8,324.4 579.9,325.8 580.1,326.6 580.2,329.6 580.3,329.9 580.4,331.5 580.5,332.5 580.7,335.3 580.8,335.6 580.9,336.4 581.0,336.2 581.1,338.8 581.3,339.7 581.4,340.0 581.5,340.6 581.6,341.9 581.7,342.4 581.9,344.2 582.0,343.0 582.1,345.0 582.2,345.6 582.3,344.9 582.5,347.6 582.6,348.7 582.7,349.4 582.8,348.6 582.9,350.4 583.1,351.4 583.2,351.6 583.3,352.1 583.4,352.0 583.5,352.6 583.7,353.3 583.8,353.6 583.9,356.7 584.0,357.8 584.1,354.4 584.3,354.2 584.4,355.0 584.5,354.8 584.6,354.2 584.7,357.9 584.9,356.3 585.0,357.4 585.1,359.5 585.2,354.7 585.3,356.4 585.5,355.2 585.6,354.9 585.7,358.3 585.8,353.6 585.9,356.4 586.1,355.3 586.2,354.4 586.3,359.2 586.4,360.0 586.5,358.9 586.7,357.5 586.8,358.0 586.9,364.6 587.0,358.2 587.1,362.3 587.3,360.7 587.4,364.5 587.5,363.8 587.6,361.5 587.7,365.9 587.9,360.8 588.0,363.5 588.1,361.9 588.2,362.2 588.3,363.6 588.5,359.9 588.6,357.9 588.7,361.2 588.8,365.7 588.9,362.0 589.1,362.5 589.2,360.2 589.3,361.8 589.4,357.7 589.5,360.5 589.7,360.8 589.8,362.9 589.9,364.2 590.0,363.0 590.1,362.9 590.3,362.7 590.4,363.6 590.5,364.9 590.6,364.5 590.7,365.6 590.9,366.7 591.0,366.5 591.1,363.8 591.2,363.2 591.3,365.0 591.5,364.7 591.6,363.4 591.7,364.7 591.8,358.4 591.9,364.3 592.1,365.5 592.2,368.1 592.3,364.2 592.4,362.5 592.5,364.5 592.7,361.8 592.8,365.1 592.9,363.9 593.0,363.8 593.1,364.5 593.3,365.6 593.4,364.3 593.5,365.9 593.6,360.6 593.7,362.3 593.9,362.2 594.0,363.1 594.1,360.3 594.2,363.8 594.3,359.0 594.5,360.2 594.6,363.6 594.7,362.7 594.8,361.1 594.9,360.0 595.1,363.9 595.2,363.5 595.3,357.9 595.4,361.1 595.5,361.4 595.7,359.6 595.8,362.6 595.9,364.5 596.0,367.0 596.1,362.0 596.3,365.8 596.4,362.2 596.5,367.1 596.6,364.0 596.7,362.8 596.9,364.9 597.0,363.2 597.1,363.5 597.2,361.4 597.3,363.9 597.5,361.9 597.6,358.8 597.7,358.8 597.8,358.1 597.9,361.1 598.1,362.9 598.2,361.8 598.3,361.3 598.4,362.3 598.5,360.2 598.7,364.3 598.8,363.5 598.9,366.1 599.0,363.9 599.1,360.7 599.3,362.8 599.4,361.4 599.5,361.8 599.6,360.5 599.7,363.8 599.9,361.0 600.0,360.6 600.1,359.6 600.2,359.1 600.3,362.8 600.5,364.8 600.6,363.5 600.7,360.0 600.8,364.7 600.9,365.7 601.1,365.8 601.2,366.0 601.3,362.4 601.4,365.4 601.5,365.2 601.7,361.9 601.8,362.3 601.9,362.3 602.0,365.3 602.1,366.9 602.3,362.8 602.4,360.0 602.5,363.9 602.6,363.6 602.7,369.2 602.9,359.6 603.0,363.3 603.1,366.2 603.2,362.9 603.3,363.8 603.5,361.3 603.6,358.3 603.7,363.8 603.8,361.8 603.9,362.8 604.1,363.3 604.2,361.3 604.3,359.4 604.4,361.8 604.5,363.8 604.7,362.3 604.8,363.2 604.9,362.4 605.0,365.3 605.1,364.1 605.3,361.3 605.4,364.3 605.5,362.4 605.6,364.0 605.7,363.6 605.9,364.8 606.0,357.6 606.1,360.4 606.2,360.1 606.3,359.9 606.5,363.8 606.6,363.1 606.7,361.9 606.8,364.7 606.9,363.2 607.1,359.9 607.2,365.6 607.3,363.4 607.4,362.0 607.5,362.2 607.7,362.4 607.8,364.1 607.9,361.2 608.0,367.8 608.1,362.7 608.3,366.6 608.4,365.3 608.5,364.1 608.6,360.9 608.7,365.6 608.9,366.5 609.0,361.7 609.1,363.5 609.2,363.2 609.3,361.9 609.5,360.9 609.6,362.4 609.7,366.7 609.8,363.0 609.9,362.5 610.1,364.7 610.2,364.4 610.3,361.3 610.4,362.1 610.5,364.3 610.7,361.6 610.8,362.5 610.9,365.4 611.0,363.6 611.1,365.7 611.3,364.9 611.4,362.8 611.5,365.8 611.6,365.8 611.7,362.7 611.9,365.4 612.0,364.0 612.1,364.0 612.2,363.8 612.3,362.9 612.5,364.5 612.6,365.3 612.7,364.8 612.8,361.9 612.9,362.4 613.1,364.5 613.2,362.1 613.3,363.1 613.4,366.4 613.5,361.2 613.7,358.5 613.8,362.8 613.9,366.3 614.0,359.9 614.1,361.2 614.3,362.2 614.4,365.7 614.5,361.7 614.6,361.9 614.7,361.8 614.9,362.0 615.0,359.3 615.1,361.9 615.2,360.3 615.3,364.9 615.5,363.3 615.6,361.5 615.7,363.4 615.8,361.8 615.9,362.1 616.1,361.8 616.2,363.0 616.3,361.2 616.4,365.1 616.5,363.4 616.7,359.8 616.8,363.6 616.9,360.0 617.0,362.4 617.1,363.7 617.3,363.2 617.4,360.4 617.5,364.2 617.6,365.8 617.7,362.6 617.9,362.1 618.0,361.7 618.1,366.0 618.2,362.1 618.3,362.5 618.5,362.9 618.6,363.1 618.7,361.1 618.8,362.0 618.9,361.9 619.1,358.0 619.2,361.7 619.3,364.1 619.4,363.7 619.5,363.5 619.7,365.2 619.8,360.2 619.9,358.8 620.0,363.7 620.1,360.9 620.3,364.3 620.4,364.4 620.5,366.7 620.6,363.8 620.7,361.6 620.9,361.8 621.0,363.6 621.1,365.4 621.2,362.9 621.3,362.1 621.5,367.1 621.6,365.3 621.7,366.0 621.8,367.2 621.9,368.1 622.1,367.3 622.2,365.3 622.3,364.7 622.4,364.6 622.5,362.0 622.7,365.4 622.8,366.1 622.9,365.5 623.0,362.1 623.1,363.7 623.3,365.6 623.4,360.5 623.5,359.6 623.6,361.9 623.7,361.1 623.9,365.1 624.0,365.3 624.1,362.3 624.2,362.3 624.3,363.2 624.5,363.4 624.6,364.0 624.7,360.1 624.8,364.5 624.9,363.1 625.1,360.8 625.2,364.9 625.3,362.7 625.4,363.4 625.5,362.2 625.7,368.3 625.8,364.5 625.9,365.8 626.0,362.4 626.1,364.9 626.3,366.1 626.4,363.4 626.5,363.9 626.6,363.1 626.7,362.8 626.9,363.1 627.0,365.3 627.1,363.1 627.2,362.5 627.3,361.8 627.5,361.2 627.6,361.0 627.7,361.4 627.8,360.2 627.9,361.6 628.1,361.0 628.2,357.5 628.3,359.4 628.4,358.5 628.5,359.8 628.7,362.0 628.8,359.5 628.9,355.3 629.0,358.8 629.1,359.8 629.3,356.7 629.4,358.8 629.5,358.6 629.6,360.0 629.7,359.8 629.9,354.7 630.0,354.7 630.1,354.3 630.2,352.4 630.3,354.3 630.5,352.8 630.6,354.2 630.7,353.7 630.8,353.0 630.9,348.9 631.1,349.1 631.2,352.5 631.3,350.8 631.4,349.8 631.5,351.9 631.7,348.9 631.8,352.3 631.9,351.8 632.0,352.2 632.1,355.9 632.3,356.1 632.4,354.6 632.5,350.7 632.6,352.3 632.7,352.8 632.9,355.3 633.0,355.3 633.1,354.5 633.2,354.5 633.3,358.7 633.5,357.5 633.6,358.2 633.7,354.5 633.8,358.8 633.9,359.9 634.1,357.0 634.2,359.9 634.3,357.4 634.4,361.4 634.5,355.8 634.7,359.9 634.8,359.5 634.9,360.3 635.0,360.0 635.1,359.9 635.3,360.7 635.4,357.7 635.5,364.7 635.6,362.7 635.7,361.2 635.9,360.8 636.0,357.9 636.1,359.8 636.2,361.0 636.3,362.7 636.5,357.4 636.6,359.5 636.7,356.2 636.8,363.9 636.9,357.6 637.1,360.9 637.2,362.3 637.3,360.3 637.4,360.3 637.5,361.2 637.7,363.5 637.8,361.6 637.9,363.6 638.0,361.3 638.1,364.4 638.3,361.6 638.4,363.1 638.5,360.6 638.6,364.1 638.7,365.3 638.9,365.4 639.0,362.2 639.1,355.1 639.2,365.3 639.3,363.8 639.5,359.7 639.6,361.5 639.7,360.5 639.8,362.5 639.9,362.4 640.1,363.4 640.2,365.9 640.3,363.7 640.4,366.3 640.5,363.6 640.7,370.4 640.8,369.5 640.9,366.2 641.0,366.1 641.1,363.1 641.3,368.5 641.4,365.9 641.5,370.7 641.6,362.6 641.7,372.1 641.9,364.0 642.0,367.3 642.1,369.7 642.2,367.0 642.3,363.8 642.5,365.3 642.6,366.2 642.7,363.9 642.8,363.9 642.9,361.8 643.1,361.9 643.2,363.9 643.3,364.3 643.4,362.7 643.5,363.0 643.7,362.1 643.8,364.6 643.9,362.4 644.0,364.2 644.1,361.6 644.3,362.1 644.4,363.1 644.5,365.6 644.6,360.3 644.7,364.1 644.9,363.3 645.0,362.4 645.1,361.4 645.2,363.2 645.3,363.1 645.5,364.7 645.6,359.9 645.7,362.7 645.8,362.5 645.9,365.4 646.1,362.3 646.2,359.2 646.3,358.4 646.4,362.1 646.5,359.6 646.7,358.1 646.8,361.8 646.9,359.7 647.0,357.6 647.1,357.0 647.3,362.2 647.4,362.0 647.5,358.2 647.6,361.8 647.7,361.0 647.9,364.5 648.0,360.6 648.1,362.6 648.2,361.0 648.3,365.8 648.5,365.3 648.6,366.7 648.7,366.7 648.8,366.8 648.9,363.6 649.1,365.4 649.2,363.3 649.3,364.1 649.4,361.6 649.5,360.3 649.7,359.9 649.8,359.5 649.9,361.3 650.0,359.6 650.1,361.5 650.3,362.8 650.4,363.9 650.5,362.0 650.6,361.8 650.7,359.6 650.9,364.1 651.0,360.8 651.1,367.1 651.2,364.6 651.3,360.3 651.5,365.7 651.6,367.0 651.7,367.4 651.8,361.2 651.9,363.1 652.1,366.5 652.2,366.2 652.3,369.9 652.4,365.3 652.5,361.8 652.7,368.3 652.8,362.4 652.9,363.2 653.0,361.2 653.1,365.1 653.3,363.5 653.4,361.2 653.5,362.8 653.6,362.2 653.7,363.9 653.9,363.4 654.0,363.9 654.1,362.3 654.2,362.2 654.3,362.5 654.5,365.8 654.6,364.2 654.7,361.5 654.8,359.1 654.9,363.0 655.1,362.4 655.2,361.6 655.3,359.8 655.4,358.7 655.5,361.6 655.7,362.3 655.8,364.1 655.9,362.0 656.0,363.5 656.1,362.8 656.3,364.9 656.4,361.2 656.5,364.2 656.6,366.5 656.7,363.7 656.9,365.8 657.0,362.7 657.1,361.2 657.2,362.8 657.3,364.2 657.5,365.6 657.6,365.1 657.7,360.2 657.8,362.3 657.9,366.5 658.1,366.4 658.2,363.9 658.3,364.4 658.4,364.2 658.5,363.1 658.7,366.1 658.8,365.2 658.9,361.5 659.0,362.5 659.1,363.4 659.3,362.9 659.4,361.5 659.5,362.2 659.6,364.2 659.7,365.3 659.9,361.8 660.0,365.9 660.1,360.0 660.2,366.4 660.3,365.7 660.5,362.7 660.6,362.2 660.7,365.0 660.8,370.3 660.9,365.5 661.1,369.3 661.2,366.2 661.3,363.6 661.4,363.6 661.5,364.7 661.7,364.3 661.8,363.4 661.9,365.1 662.0,364.8 662.1,361.4 662.3,362.5 662.4,360.8 662.5,362.1 662.6,362.0 662.7,361.1 662.9,361.4 663.0,359.7 663.1,362.2 663.2,364.6 663.3,364.9 663.5,366.4 663.6,364.6 663.7,366.8 663.8,368.2 663.9,364.7 664.1,363.2 664.2,369.1 664.3,364.2 664.4,365.6 664.5,367.8 664.7,367.0 664.8,365.9 664.9,361.0 665.0,364.7 665.1,361.9 665.3,365.9 665.4,362.4 665.5,362.7 665.6,365.2 665.7,364.8 665.9,362.5 666.0,366.3 666.1,363.1 666.2,365.4 666.3,362.7 666.5,361.7 666.6,361.1 666.7,361.6 666.8,362.7 666.9,363.5 667.1,364.2 667.2,364.0 667.3,363.9 667.4,364.4 667.5,363.3 667.7,365.3 667.8,367.3 667.9,363.2 668.0,366.1 668.1,367.9 668.3,366.5 668.4,365.4 668.5,365.1 668.6,364.2 668.7,360.9 668.9,367.1 669.0,361.6 669.1,364.4 669.2,365.5 669.3,369.4 669.5,365.9 669.6,364.3 669.7,367.8 669.8,368.8 669.9,368.5 670.1,365.7 670.2,365.9 670.3,362.9 670.4,366.8 670.5,364.3 670.7,368.2 670.8,366.2 670.9,363.6 671.0,366.3 671.1,364.6 671.3,368.0 671.4,367.1 671.5,366.1 671.6,366.9 671.7,365.3 671.9,361.2 672.0,364.0 672.1,362.7 672.2,359.8 672.3,362.4 672.5,362.5 672.6,363.0 672.7,359.9 672.8,360.3 672.9,358.2 673.1,358.4 673.2,365.4 673.3,361.3 673.4,359.0 673.5,362.7 673.7,363.2 673.8,365.8 673.9,361.5 674.0,365.7 674.1,363.4 674.3,364.4 674.4,362.8 674.5,364.4 674.6,364.3 674.7,361.4 674.9,363.4 675.0,361.4 675.1,364.3 675.2,359.9 675.3,361.5 675.5,359.8 675.6,360.3 675.7,364.4 675.8,366.0 675.9,358.7 676.1,361.3 676.2,361.0 676.3,361.7 676.4,361.1 676.5,359.5 676.7,358.4 676.8,360.8 676.9,364.7 677.0,359.5 677.1,360.4 677.3,362.5 677.4,364.2 677.5,364.6 677.6,360.1 677.7,364.0 677.9,360.9 678.0,364.0 678.1,362.1 678.2,365.7 678.3,366.5 678.5,364.5 678.6,367.4 678.7,366.5 678.8,362.9 678.9,360.7 679.1,363.3 679.2,366.7 679.3,365.4 679.4,363.0 679.5,363.6 679.7,358.6 679.8,359.6 679.9,363.8 680.0,359.2 680.1,365.0 680.3,365.0 680.4,360.3 680.5,364.9 680.6,363.8 680.7,359.4 680.9,363.0 681.0,359.4 681.1,360.4 681.2,362.4 681.3,360.2 681.5,359.3 681.6,359.9 681.7,363.2 681.8,359.9 681.9,366.4 682.1,362.7 682.2,362.1 682.3,360.5 682.4,359.8 682.5,365.1 682.7,363.7 682.8,362.9 682.9,363.7 683.0,362.1 683.1,361.6 683.3,361.6 683.4,363.6 683.5,356.7 683.6,365.0 683.7,363.0 683.9,359.4 684.0,360.6 684.1,360.4 684.2,359.3 684.3,362.1 684.5,361.5 684.6,359.6 684.7,358.8 684.8,364.7 684.9,363.6 685.1,362.9 685.2,361.5 685.3,365.9 685.4,361.9 685.5,365.1 685.7,362.3 685.8,363.1 685.9,360.4 686.0,364.9 686.1,361.4 686.3,362.7 686.4,363.3 686.5,359.9" fill="none" stroke="#1f77b4" stroke-width="2.5" stroke-linejoin="round" stroke-linecap="butt"/><polyline points="49.7,366.1 49.8,367.4 49.9,367.2 50.0,370.9 50.1,363.1 50.3,364.3 50.4,367.0 50.5,365.0 50.6,365.9 50.7,367.4 50.9,364.4 51.0,366.8 51.1,366.7 51.2,367.4 51.3,364.8 51.5,365.6 51.6,364.1 51.7,365.8 51.8,364.0 51.9,365.5 52.1,361.8 52.2,362.7 52.3,362.1 52.4,361.8 52.5,364.4 52.7,360.9 52.8,358.5 52.9,365.6 53.0,365.9 53.1,365.6 53.3,361.2 53.4,362.6 53.5,360.7 53.6,361.3 53.7,362.1 53.9,361.8 54.0,362.4 54.1,360.1 54.2,363.7 54.3,362.1 54.5,360.6 54.6,357.4 54.7,362.1 54.8,362.5 54.9,361.3 55.1,358.3 55.2,360.5 55.3,357.4 55.4,363.5 55.5,357.8 55.7,358.1 55.8,363.0 55.9,360.2 56.0,358.4 56.1,361.0 56.3,359.6 56.4,357.3 56.5,361.7 56.6,363.1 56.7,364.2 56.9,361.6 57.0,363.2 57.1,363.0 57.2,362.7 57.3,361.1 57.5,364.2 57.6,364.8 57.7,366.3 57.8,359.1 57.9,361.1 58.1,358.1 58.2,361.0 58.3,362.4 58.4,360.0 58.5,361.3 58.7,363.7 58.8,363.3 58.9,358.4 59.0,361.4 59.1,361.6 59.3,363.2 59.4,364.1 59.5,361.1 59.6,363.0 59.7,364.2 59.9,362.8 60.0,364.0 60.1,361.5 60.2,359.3 60.3,362.7 60.5,357.9 60.6,361.7 60.7,359.8 60.8,361.6 60.9,360.3 61.1,359.8 61.2,360.8 61.3,361.5 61.4,361.6 61.5,362.0 61.7,363.6 61.8,361.2 61.9,360.0 62.0,359.1 62.1,359.8 62.3,356.4 62.4,360.8 62.5,362.6 62.6,358.3 62.7,364.3 62.9,360.6 63.0,364.5 63.1,362.0 63.2,366.6 63.3,360.9 63.5,362.8 63.6,364.2 63.7,358.8 63.8,360.5 63.9,361.8 64.1,363.3 64.2,361.9 64.3,362.1 64.4,360.4 64.5,360.4 64.7,363.5 64.8,363.4 64.9,363.6 65.0,365.4 65.1,364.0 65.3,363.2 65.4,361.7 65.5,360.5 65.6,364.6 65.7,361.8 65.9,363.5 66.0,358.1 66.1,361.9 66.2,360.3 66.3,362.6 66.5,361.8 66.6,359.3 66.7,359.9 66.8,358.0 66.9,361.4 67.1,356.6 67.2,359.4 67.3,353.9 67.4,357.9 67.5,355.1 67.7,360.2 67.8,356.7 67.9,359.6 68.0,359.1 68.1,358.4 68.3,359.5 68.4,358.6 68.5,357.9 68.6,358.3 68.7,359.9 68.9,362.6 69.0,361.4 69.1,360.1 69.2,363.9 69.3,358.0 69.5,359.8 69.6,359.7 69.7,357.1 69.8,357.5 69.9,358.2 70.1,360.5 70.2,357.6 70.3,357.3 70.4,359.6 70.5,355.5 70.7,356.4 70.8,361.3 70.9,356.8 71.0,359.5 71.1,354.4 71.3,354.9 71.4,358.6 71.5,358.1 71.6,356.0 71.7,356.7 71.9,353.2 72.0,355.0 72.1,357.3 72.2,355.8 72.3,361.4 72.5,356.8 72.6,355.9 72.7,358.1 72.8,359.1 72.9,356.4 73.1,353.3 73.2,356.6 73.3,358.9 73.4,353.3 73.5,359.7 73.7,354.6 73.8,356.6 73.9,353.5 74.0,357.2 74.1,353.0 74.3,355.4 74.4,359.9 74.5,360.9 74.6,357.9 74.7,355.0 74.9,357.8 75.0,358.1 75.1,358.9 75.2,356.9 75.3,357.5 75.5,357.5 75.6,359.8 75.7,355.1 75.8,354.4 75.9,359.6 76.1,351.9 76.2,355.1 76.3,357.5 76.4,360.5 76.5,355.3 76.7,355.6 76.8,358.2 76.9,360.8 77.0,354.8 77.1,358.4 77.3,358.1 77.4,351.1 77.5,352.4 77.6,354.6 77.7,357.3 77.9,354.8 78.0,360.7 78.1,355.7 78.2,357.5 78.3,358.6 78.5,359.3 78.6,355.1 78.7,356.1 78.8,356.0 78.9,354.5 79.1,357.9 79.2,358.5 79.3,359.4 79.4,356.2 79.5,353.6 79.7,355.3 79.8,353.6 79.9,357.3 80.0,355.9 80.1,356.8 80.3,358.1 80.4,352.0 80.5,354.5 80.6,358.2 80.7,358.5 80.9,357.4 81.0,360.4 81.1,356.7 81.2,360.4 81.3,358.5 81.5,359.8 81.6,358.7 81.7,360.4 81.8,361.0 81.9,359.8 82.1,359.3 82.2,358.7 82.3,358.1 82.4,355.3 82.5,356.9 82.7,359.2 82.8,357.2 82.9,360.1 83.0,355.5 83.1,357.1 83.3,360.8 83.4,356.0 83.5,355.4 83.6,362.2 83.7,357.7 83.9,356.6 84.0,359.2 84.1,357.0 84.2,356.4 84.3,353.0 84.5,353.2 84.6,348.1 84.7,354.3 84.8,351.0 84.9,353.2 85.1,352.9 85.2,356.0 85.3,357.6 85.4,355.4 85.5,352.3 85.7,350.7 85.8,352.9 85.9,353.1 86.0,355.9 86.1,350.9 86.3,351.2 86.4,355.1 86.5,353.9 86.6,355.8 86.7,350.6 86.9,352.8 87.0,353.9 87.1,352.9 87.2,352.9 87.3,354.8 87.5,356.7 87.6,356.9 87.7,358.0 87.8,353.5 87.9,349.9 88.1,358.2 88.2,354.4 88.3,353.9 88.4,356.8 88.5,354.3 88.7,357.0 88.8,352.1 88.9,355.8 89.0,354.2 89.1,352.8 89.3,355.0 89.4,357.7 89.5,354.9 89.6,352.1 89.7,353.9 89.9,353.2 90.0,356.0 90.1,353.6 90.2,352.5 90.3,354.1 90.5,350.2 90.6,354.8 90.7,356.6 90.8,357.8 90.9,351.9 91.1,354.4 91.2,352.1 91.3,353.1 91.4,350.6 91.5,351.3 91.7,354.7 91.8,353.4 91.9,351.8 92.0,356.8 92.1,351.3 92.3,352.0 92.4,352.6 92.5,355.2 92.6,354.2 92.7,357.2 92.9,354.7 93.0,356.0 93.1,354.6 93.2,355.8 93.3,354.2 93.5,352.3 93.6,357.7 93.7,353.1 93.8,359.4 93.9,359.9 94.1,355.7 94.2,355.6 94.3,354.8 94.4,359.2 94.5,355.9 94.7,355.5 94.8,352.9 94.9,355.6 95.0,354.0 95.1,356.8 95.3,354.8 95.4,355.0 95.5,352.2 95.6,355.4 95.7,354.8 95.9,351.6 96.0,348.9 96.1,351.7 96.2,351.7 96.3,353.0 96.5,349.8 96.6,350.9 96.7,348.3 96.8,351.2 96.9,353.8 97.1,353.0 97.2,354.0 97.3,354.6 97.4,349.3 97.5,350.4 97.7,354.7 97.8,348.3 97.9,351.4 98.0,353.7 98.1,350.5 98.3,351.1 98.4,352.2 98.5,354.2 98.6,349.5 98.7,348.5 98.9,354.3 99.0,347.3 99.1,347.0 99.2,349.2 99.3,347.9 99.5,348.8 99.6,350.1 99.7,349.2 99.8,345.8 99.9,352.1 100.1,348.8 100.2,349.3 100.3,351.6 100.4,351.4 100.5,353.9 100.7,353.1 100.8,351.6 100.9,351.2 101.0,354.1 101.1,345.9 101.3,353.8 101.4,352.5 101.5,353.4 101.6,353.9 101.7,350.4 101.9,354.3 102.0,350.5 102.1,351.0 102.2,355.7 102.3,351.2 102.5,354.7 102.6,347.3 102.7,353.7 102.8,354.6 102.9,356.4 103.1,354.7 103.2,352.9 103.3,353.4 103.4,353.6 103.5,352.1 103.7,350.8 103.8,346.9 103.9,353.4 104.0,350.6 104.1,351.1 104.3,352.0 104.4,351.3 104.5,350.3 104.6,346.7 104.7,348.7 104.9,349.5 105.0,347.3 105.1,348.2 105.2,349.7 105.3,348.7 105.5,351.7 105.6,348.9 105.7,349.6 105.8,351.8 105.9,353.8 106.1,348.0 106.2,351.2 106.3,344.9 106.4,353.0 106.5,349.7 106.7,352.4 106.8,350.7 106.9,349.3 107.0,352.5 107.1,350.5 107.3,349.5 107.4,349.1 107.5,347.4 107.6,346.0 107.7,345.9 107.9,346.7 108.0,347.8 108.1,349.4 108.2,348.6 108.3,348.4 108.5,346.1 108.6,348.7 108.7,351.0 108.8,347.3 108.9,350.7 109.1,350.9 109.2,349.8 109.3,348.3 109.4,354.4 109.5,351.4 109.7,348.4 109.8,349.2 109.9,350.0 110.0,349.1 110.1,344.7 110.3,348.7 110.4,346.1 110.5,346.0 110.6,348.9 110.7,347.2 110.9,349.4 111.0,350.0 111.1,351.3 111.2,347.1 111.3,349.9 111.5,350.2 111.6,351.3 111.7,344.7 111.8,346.7 111.9,348.2 112.1,349.0 112.2,350.4 112.3,346.0 112.4,345.8 112.5,349.3 112.7,343.6 112.8,344.4 112.9,348.3 113.0,347.5 113.1,347.3 113.3,346.2 113.4,346.9 113.5,350.2 113.6,343.5 113.7,346.0 113.9,343.9 114.0,343.9 114.1,347.2 114.2,346.1 114.3,345.4 114.5,345.5 114.6,347.7 114.7,348.9 114.8,347.6 114.9,349.6 115.1,349.0 115.2,352.1 115.3,347.3 115.4,349.4 115.5,347.9 115.7,346.3 115.8,344.9 115.9,340.9 116.0,344.1 116.1,347.2 116.3,343.4 116.4,344.7 116.5,342.4 116.6,344.8 116.7,345.0 116.9,344.8 117.0,345.4 117.1,348.5 117.2,346.5 117.3,345.5 117.5,343.4 117.6,347.2 117.7,347.8 117.8,346.0 117.9,346.4 118.1,344.3 118.2,346.6 118.3,347.9 118.4,344.8 118.5,344.3 118.7,348.5 118.8,346.9 118.9,350.7 119.0,347.6 119.1,348.7 119.3,347.1 119.4,347.7 119.5,347.1 119.6,347.2 119.7,346.0 119.9,346.7 120.0,348.6 120.1,350.2 120.2,344.5 120.3,344.0 120.5,347.8 120.6,345.2 120.7,349.3 120.8,348.9 120.9,345.6 121.1,341.4 121.2,346.6 121.3,345.9 121.4,340.4 121.5,348.1 121.7,342.5 121.8,342.9 121.9,344.5 122.0,343.6 122.1,338.1 122.3,346.2 122.4,344.1 122.5,343.6 122.6,344.1 122.7,345.2 122.9,338.3 123.0,341.0 123.1,345.2 123.2,342.7 123.3,340.2 123.5,340.2 123.6,344.4 123.7,341.5 123.8,340.9 123.9,340.7 124.1,340.9 124.2,346.0 124.3,338.1 124.4,342.0 124.5,338.7 124.7,336.7 124.8,343.8 124.9,346.5 125.0,342.3 125.1,345.0 125.3,346.0 125.4,347.6 125.5,341.8 125.6,346.7 125.7,348.9 125.9,346.7 126.0,348.1 126.1,344.9 126.2,345.7 126.3,346.7 126.5,342.5 126.6,344.9 126.7,341.4 126.8,339.9 126.9,343.3 127.1,343.9 127.2,342.0 127.3,340.5 127.4,342.6 127.5,342.4 127.7,342.9 127.8,342.2 127.9,341.4 128.0,344.3 128.1,343.7 128.3,342.2 128.4,343.5 128.5,341.3 128.6,340.0 128.7,340.8 128.9,341.6 129.0,341.5 129.1,335.5 129.2,337.1 129.3,341.3 129.5,340.6 129.6,334.5 129.7,335.4 129.8,338.6 129.9,336.5 130.1,342.7 130.2,339.6 130.3,338.1 130.4,344.1 130.5,341.9 130.7,338.5 130.8,337.9 130.9,341.9 131.0,340.1 131.1,337.4 131.3,342.1 131.4,344.5 131.5,341.9 131.6,342.9 131.7,339.3 131.9,342.1 132.0,344.4 132.1,337.2 132.2,343.6 132.3,341.3 132.5,340.5 132.6,340.0 132.7,341.0 132.8,339.7 132.9,341.0 133.1,343.9 133.2,341.1 133.3,341.1 133.4,341.3 133.5,340.8 133.7,342.9 133.8,338.8 133.9,338.6 134.0,347.3 134.1,342.5 134.3,344.2 134.4,348.5 134.5,341.7 134.6,343.9 134.7,343.2 134.9,343.6 135.0,339.5 135.1,339.1 135.2,341.2 135.3,340.2 135.5,342.1 135.6,341.6 135.7,343.7 135.8,342.1 135.9,343.8 136.1,341.3 136.2,340.2 136.3,341.2 136.4,339.1 136.5,335.4 136.7,346.1 136.8,341.2 136.9,342.4 137.0,342.2 137.1,344.3 137.3,341.3 137.4,342.2 137.5,343.3 137.6,342.7 137.7,343.7 137.9,347.8 138.0,340.0 138.1,343.0 138.2,344.1 138.3,340.8 138.5,342.4 138.6,345.0 138.7,337.2 138.8,342.2 138.9,337.9 139.1,336.3 139.2,332.8 139.3,332.5 139.4,334.4 139.5,336.2 139.7,335.3 139.8,331.9 139.9,330.5 140.0,333.6 140.1,336.6 140.3,333.1 140.4,336.7 140.5,337.1 140.6,337.1 140.7,335.4 140.9,336.3 141.0,334.7 141.1,333.9 141.2,335.6 141.3,341.8 141.5,340.0 141.6,335.3 141.7,335.2 141.8,329.5 141.9,334.0 142.1,333.6 142.2,330.6 142.3,329.8 142.4,332.3 142.5,330.3 142.7,333.8 142.8,333.3 142.9,328.3 143.0,334.5 143.1,329.4 143.3,330.4 143.4,330.6 143.5,330.7 143.6,331.9 143.7,338.5 143.9,336.1 144.0,335.2 144.1,331.6 144.2,336.2 144.3,335.0 144.5,334.0 144.6,329.8 144.7,336.1 144.8,335.8 144.9,331.1 145.1,337.5 145.2,331.7 145.3,333.5 145.4,336.1 145.5,333.1 145.7,334.1 145.8,330.9 145.9,329.8 146.0,326.4 146.1,329.0 146.3,327.8 146.4,328.5 146.5,326.3 146.6,323.0 146.7,329.3 146.9,322.7 147.0,325.1 147.1,323.4 147.2,322.7 147.3,321.4 147.5,323.0 147.6,324.6 147.7,323.2 147.8,324.2 147.9,325.0 148.1,324.3 148.2,323.0 148.3,324.8 148.4,324.9 148.5,328.3 148.7,325.5 148.8,329.5 148.9,323.4 149.0,327.3 149.1,322.1 149.3,318.2 149.4,326.5 149.5,322.7 149.6,325.3 149.7,328.0 149.9,329.1 150.0,326.1 150.1,324.4 150.2,327.0 150.3,331.4 150.5,330.1 150.6,327.9 150.7,323.7 150.8,325.9 150.9,325.4 151.1,322.9 151.2,326.0 151.3,325.6 151.4,325.8 151.5,329.6 151.7,324.5 151.8,324.8 151.9,323.7 152.0,329.1 152.1,328.5 152.3,324.6 152.4,326.2 152.5,323.9 152.6,329.4 152.7,327.0 152.9,329.2 153.0,326.9 153.1,328.9 153.2,326.6 153.3,325.3 153.5,326.2 153.6,332.1 153.7,325.5 153.8,326.5 153.9,329.9 154.1,329.3 154.2,327.0 154.3,325.4 154.4,327.7 154.5,330.4 154.7,325.8 154.8,326.0 154.9,320.6 155.0,329.5 155.1,320.4 155.3,322.2 155.4,325.6 155.5,322.4 155.6,326.0 155.7,323.8 155.9,327.7 156.0,325.6 156.1,328.0 156.2,329.1 156.3,325.8 156.5,326.5 156.6,323.4 156.7,321.7 156.8,325.1 156.9,324.6 157.1,324.5 157.2,329.2 157.3,324.9 157.4,325.8 157.5,326.2 157.7,328.9 157.8,331.0 157.9,326.8 158.0,325.2 158.1,322.4 158.3,322.4 158.4,321.1 158.5,323.1 158.6,320.7 158.7,323.4 158.9,321.0 159.0,320.0 159.1,315.6 159.2,321.2 159.3,324.8 159.5,318.4 159.6,323.6 159.7,322.0 159.8,322.6 159.9,324.3 160.1,319.1 160.2,321.0 160.3,324.2 160.4,322.8 160.5,324.2 160.7,322.0 160.8,324.6 160.9,325.8 161.0,325.8 161.1,325.5 161.3,323.9 161.4,326.8 161.5,324.8 161.6,323.3 161.7,318.4 161.9,321.5 162.0,330.2 162.1,323.5 162.2,322.5 162.3,320.0 162.5,316.3 162.6,317.6 162.7,324.4 162.8,317.7 162.9,317.9 163.1,317.0 163.2,314.6 163.3,320.5 163.4,315.3 163.5,322.0 163.7,317.8 163.8,317.0 163.9,312.3 164.0,319.4 164.1,321.6 164.3,315.5 164.4,318.5 164.5,312.7 164.6,317.8 164.7,317.8 164.9,312.1 165.0,314.5 165.1,311.9 165.2,317.5 165.3,309.7 165.5,315.0 165.6,311.4 165.7,315.9 165.8,317.3 165.9,314.4 166.1,313.6 166.2,310.4 166.3,313.8 166.4,313.3 166.5,313.8 166.7,308.2 166.8,318.2 166.9,313.3 167.0,316.9 167.1,315.9 167.3,317.7 167.4,313.1 167.5,318.6 167.6,318.1 167.7,314.6 167.9,316.2 168.0,310.8 168.1,309.6 168.2,313.1 168.3,308.7 168.5,311.9 168.6,310.0 168.7,309.6 168.8,304.8 168.9,309.3 169.1,311.4 169.2,311.3 169.3,305.9 169.4,312.8 169.5,309.6 169.7,309.1 169.8,314.0 169.9,308.7 170.0,304.7 170.1,306.2 170.3,308.5 170.4,304.1 170.5,304.1 170.6,299.9 170.7,306.5 170.9,305.3 171.0,304.0 171.1,304.3 171.2,303.6 171.3,304.1 171.5,305.5 171.6,307.7 171.7,305.0 171.8,306.9 171.9,305.9 172.1,304.5 172.2,301.6 172.3,300.5 172.4,305.1 172.5,301.6 172.7,300.2 172.8,302.3 172.9,306.3 173.0,307.6 173.1,300.2 173.3,299.9 173.4,301.4 173.5,304.7 173.6,298.2 173.7,298.6 173.9,301.5 174.0,301.7 174.1,305.8 174.2,298.8 174.3,304.7 174.5,299.0 174.6,299.0 174.7,300.8 174.8,297.5 174.9,302.7 175.1,300.9 175.2,300.9 175.3,302.9 175.4,305.1 175.5,301.5 175.7,304.0 175.8,306.0 175.9,306.3 176.0,305.8 176.1,300.5 176.3,305.9 176.4,306.6 176.5,308.4 176.6,308.3 176.7,309.4 176.9,303.3 177.0,303.0 177.1,304.7 177.2,304.8 177.3,300.9 177.5,300.4 177.6,301.4 177.7,296.4 177.8,296.0 177.9,295.8 178.1,293.1 178.2,296.4 178.3,291.0 178.4,296.9 178.5,293.1 178.7,292.9 178.8,295.4 178.9,294.2 179.0,298.8 179.1,299.7 179.3,296.8 179.4,298.5 179.5,295.3 179.6,296.8 179.7,295.3 179.9,295.9 180.0,295.9 180.1,295.8 180.2,296.6 180.3,296.4 180.5,289.5 180.6,298.9 180.7,294.5 180.8,291.1 180.9,292.3 181.1,289.6 181.2,291.6 181.3,296.0 181.4,293.5 181.5,296.1 181.7,289.9 181.8,288.6 181.9,293.4 182.0,290.8 182.1,293.2 182.3,295.7 182.4,292.9 182.5,295.6 182.6,292.7 182.7,290.4 182.9,288.8 183.0,287.1 183.1,291.1 183.2,289.4 183.3,288.8 183.5,288.4 183.6,297.0 183.7,291.6 183.8,287.4 183.9,292.2 184.1,288.6 184.2,287.0 184.3,294.0 184.4,289.6 184.5,288.5 184.7,289.0 184.8,293.0 184.9,288.0 185.0,290.2 185.1,286.4 185.3,287.1 185.4,289.3 185.5,286.9 185.6,288.8 185.7,288.3 185.9,290.1 186.0,286.2 186.1,283.0 186.2,284.4 186.3,284.3 186.5,285.5 186.6,284.9 186.7,281.2 186.8,286.8 186.9,277.3 187.1,282.7 187.2,276.7 187.3,279.3 187.4,283.5 187.5,280.5 187.7,281.9 187.8,281.4 187.9,280.6 188.0,284.2 188.1,284.3 188.3,283.8 188.4,286.1 188.5,283.0 188.6,281.4 188.7,281.0 188.9,280.7 189.0,281.7 189.1,278.1 189.2,285.0 189.3,280.1 189.5,279.4 189.6,275.6 189.7,275.8 189.8,275.0 189.9,276.7 190.1,274.0 190.2,279.0 190.3,276.1 190.4,282.0 190.5,272.0 190.7,272.5 190.8,278.5 190.9,279.5 191.0,283.0 191.1,281.7 191.3,277.5 191.4,278.2 191.5,281.7 191.6,279.0 191.7,279.3 191.9,276.0 192.0,275.1 192.1,277.3 192.2,276.2 192.3,276.3 192.5,281.7 192.6,275.6 192.7,276.3 192.8,274.2 192.9,281.1 193.1,274.2 193.2,277.9 193.3,275.5 193.4,272.8 193.5,279.7 193.7,278.9 193.8,272.4 193.9,277.7 194.0,276.9 194.1,272.3 194.3,274.1 194.4,271.1 194.5,272.1 194.6,272.6 194.7,269.5 194.9,266.0 195.0,271.8 195.1,267.3 195.2,268.0 195.3,270.6 195.5,269.7 195.6,273.4 195.7,272.7 195.8,270.4 195.9,271.3 196.1,267.6 196.2,274.4 196.3,271.5 196.4,272.1 196.5,270.3 196.7,266.3 196.8,272.3 196.9,266.4 197.0,270.0 197.1,269.1 197.3,265.4 197.4,268.9 197.5,266.4 197.6,268.0 197.7,268.8 197.9,269.3 198.0,272.9 198.1,270.2 198.2,267.6 198.3,267.3 198.5,271.6 198.6,264.7 198.7,265.6 198.8,270.5 198.9,269.5 199.1,265.2 199.2,271.1 199.3,268.1 199.4,266.1 199.5,266.1 199.7,265.7 199.8,264.4 199.9,267.5 200.0,266.5 200.1,259.6 200.3,269.0 200.4,266.5 200.5,265.2 200.6,267.4 200.7,262.6 200.9,265.9 201.0,264.3 201.1,273.6 201.2,263.4 201.3,263.5 201.5,268.5 201.6,262.8 201.7,265.3 201.8,263.2 201.9,260.5 202.1,264.8 202.2,267.4 202.3,264.4 202.4,267.4 202.5,265.7 202.7,265.2 202.8,264.6 202.9,259.1 203.0,259.4 203.1,263.6 203.3,257.4 203.4,264.4 203.5,261.1 203.6,259.1 203.7,254.9 203.9,255.6 204.0,255.9 204.1,253.2 204.2,254.4 204.3,252.3 204.5,257.9 204.6,260.0 204.7,256.3 204.8,252.6 204.9,254.0 205.1,252.1 205.2,252.5 205.3,253.0 205.4,252.2 205.5,256.4 205.7,251.6 205.8,257.3 205.9,255.0 206.0,258.5 206.1,253.2 206.3,258.8 206.4,250.7 206.5,258.2 206.6,253.8 206.7,254.9 206.9,257.0 207.0,251.2 207.1,255.8 207.2,250.7 207.3,257.5 207.5,256.9 207.6,260.2 207.7,253.4 207.8,252.6 207.9,254.7 208.1,256.1 208.2,258.5 208.3,249.9 208.4,254.7 208.5,262.0 208.7,258.0 208.8,264.3 208.9,252.7 209.0,251.3 209.1,252.4 209.3,256.2 209.4,257.2 209.5,259.0 209.6,253.4 209.7,256.6 209.9,255.4 210.0,256.0 210.1,255.0 210.2,251.7 210.3,249.6 210.5,253.9 210.6,254.3 210.7,257.5 210.8,257.9 210.9,257.5 211.1,252.1 211.2,253.8 211.3,251.7 211.4,252.9 211.5,254.9 211.7,256.8 211.8,253.8 211.9,256.2 212.0,246.0 212.1,250.1 212.3,251.2 212.4,244.1 212.5,250.2 212.6,247.3 212.7,249.1 212.9,247.8 213.0,250.0 213.1,248.0 213.2,245.9 213.3,253.9 213.5,257.1 213.6,247.6 213.7,251.3 213.8,249.7 213.9,253.1 214.1,248.2 214.2,247.6 214.3,256.0 214.4,250.9 214.5,254.6 214.7,257.5 214.8,254.0 214.9,251.7 215.0,257.3 215.1,257.1 215.3,250.2 215.4,253.5 215.5,252.3 215.6,256.3 215.7,254.5 215.9,251.9 216.0,251.1 216.1,250.7 216.2,246.1 216.3,249.5 216.5,253.8 216.6,251.6 216.7,249.1 216.8,245.1 216.9,250.5 217.1,249.6 217.2,248.6 217.3,250.6 217.4,251.0 217.5,249.6 217.7,246.4 217.8,248.1 217.9,250.6 218.0,249.0 218.1,254.0 218.3,247.9 218.4,248.8 218.5,250.1 218.6,255.5 218.7,245.1 218.9,258.8 219.0,253.1 219.1,252.6 219.2,247.7 219.3,253.6 219.5,248.5 219.6,249.4 219.7,249.6 219.8,246.2 219.9,244.5 220.1,247.1 220.2,248.7 220.3,253.9 220.4,242.9 220.5,247.2 220.7,250.9 220.8,244.5 220.9,240.2 221.0,244.0 221.1,246.3 221.3,236.3 221.4,240.6 221.5,241.2 221.6,239.3 221.7,248.3 221.9,242.5 222.0,242.9 222.1,236.2 222.2,244.2 222.3,244.2 222.5,246.5 222.6,244.9 222.7,243.0 222.8,241.6 222.9,242.8 223.1,236.6 223.2,240.8 223.3,240.3 223.4,238.3 223.5,240.4 223.7,243.7 223.8,246.6 223.9,241.3 224.0,244.7 224.1,238.7 224.3,244.5 224.4,248.6 224.5,242.1 224.6,239.1 224.7,242.7 224.9,241.7 225.0,241.8 225.1,237.6 225.2,242.0 225.3,243.3 225.5,245.4 225.6,248.8 225.7,240.6 225.8,241.6 225.9,247.8 226.1,243.4 226.2,244.1 226.3,245.7 226.4,245.0 226.5,241.3 226.7,246.1 226.8,243.3 226.9,241.3 227.0,240.3 227.1,240.3 227.3,238.6 227.4,237.4 227.5,241.3 227.6,238.6 227.7,240.5 227.9,235.1 228.0,243.9 228.1,241.2 228.2,239.2 228.3,242.6 228.5,243.5 228.6,244.7 228.7,242.9 228.8,247.6 228.9,244.9 229.1,245.2 229.2,249.2 229.3,244.3 229.4,246.4 229.5,244.1 229.7,242.5 229.8,243.9 229.9,248.3 230.0,244.1 230.1,249.6 230.3,247.3 230.4,240.5 230.5,245.2 230.6,240.7 230.7,245.5 230.9,244.6 231.0,247.4 231.1,241.1 231.2,243.8 231.3,240.9 231.5,241.0 231.6,240.2 231.7,240.5 231.8,241.1 231.9,240.7 232.1,242.3 232.2,245.9 232.3,238.0 232.4,232.8 232.5,235.0 232.7,230.7 232.8,235.2 232.9,238.6 233.0,238.0 233.1,232.5 233.3,233.2 233.4,234.3 233.5,231.5 233.6,236.0 233.7,232.0 233.9,234.4 234.0,233.4 234.1,230.7 234.2,234.7 234.3,230.6 234.5,230.9 234.6,236.9 234.7,228.0 234.8,237.9 234.9,234.2 235.1,231.2 235.2,239.1 235.3,228.9 235.4,227.7 235.5,230.5 235.7,228.6 235.8,228.1 235.9,228.8 236.0,224.8 236.1,228.7 236.3,227.6 236.4,226.4 236.5,225.1 236.6,224.5 236.7,232.0 236.9,233.7 237.0,228.4 237.1,228.3 237.2,231.4 237.3,227.5 237.5,226.7 237.6,227.6 237.7,224.1 237.8,231.9 237.9,229.0 238.1,223.5 238.2,227.0 238.3,232.1 238.4,228.1 238.5,225.0 238.7,222.1 238.8,226.0 238.9,224.4 239.0,230.8 239.1,228.3 239.3,224.2 239.4,230.5 239.5,228.1 239.6,233.5 239.7,224.0 239.9,228.7 240.0,226.8 240.1,232.7 240.2,232.1 240.3,223.0 240.5,229.2 240.6,229.6 240.7,226.5 240.8,226.2 240.9,233.4 241.1,230.4 241.2,227.4 241.3,227.4 241.4,226.3 241.5,228.5 241.7,228.0 241.8,226.5 241.9,229.1 242.0,229.6 242.1,228.9 242.3,227.5 242.4,228.2 242.5,229.4 242.6,228.9 242.7,228.3 242.9,227.0 243.0,226.5 243.1,230.7 243.2,223.3 243.3,229.8 243.5,222.3 243.6,224.6 243.7,219.4 243.8,216.6 243.9,224.0 244.1,215.6 244.2,215.8 244.3,217.5 244.4,214.8 244.5,217.3 244.7,215.4 244.8,218.8 244.9,213.4 245.0,213.9 245.1,213.4 245.3,217.4 245.4,210.0 245.5,209.6 245.6,215.6 245.7,216.6 245.9,216.7 246.0,213.6 246.1,212.8 246.2,218.2 246.3,222.1 246.5,215.0 246.6,216.5 246.7,215.8 246.8,214.7 246.9,219.3 247.1,215.5 247.2,216.2 247.3,213.7 247.4,210.7 247.5,213.7 247.7,215.7 247.8,209.0 247.9,210.1 248.0,212.5 248.1,216.9 248.3,214.1 248.4,211.2 248.5,210.2 248.6,213.6 248.7,211.1 248.9,214.6 249.0,214.3 249.1,211.7 249.2,214.2 249.3,213.1 249.5,210.9 249.6,210.1 249.7,214.9 249.8,213.7 249.9,216.6 250.1,216.3 250.2,211.3 250.3,213.5 250.4,217.3 250.5,210.3 250.7,214.4 250.8,213.1 250.9,211.3 251.0,211.7 251.1,213.5 251.3,219.5 251.4,212.3 251.5,215.9 251.6,218.4 251.7,220.6 251.9,210.2 252.0,213.3 252.1,213.1 252.2,211.3 252.3,213.0 252.5,216.9 252.6,210.5 252.7,209.5 252.8,210.9 252.9,208.0 253.1,207.0 253.2,214.9 253.3,213.9 253.4,210.1 253.5,212.2 253.7,212.1 253.8,210.0 253.9,210.6 254.0,214.1 254.1,212.6 254.3,215.1 254.4,213.7 254.5,216.4 254.6,218.9 254.7,214.7 254.9,214.9 255.0,210.6 255.1,208.5 255.2,212.9 255.3,211.5 255.5,214.5 255.6,215.2 255.7,213.0 255.8,212.7 255.9,210.6 256.1,210.6 256.2,205.3 256.3,209.7 256.4,212.7 256.5,206.1 256.7,206.9 256.8,202.8 256.9,198.6 257.0,202.3 257.1,199.2 257.3,196.1 257.4,199.3 257.5,194.9 257.6,193.2 257.7,191.7 257.9,190.4 258.0,191.7 258.1,191.9 258.2,196.8 258.3,200.1 258.5,194.4 258.6,186.6 258.7,189.6 258.8,195.8 258.9,189.3 259.1,186.0 259.2,191.7 259.3,183.6 259.4,188.0 259.5,180.9 259.7,183.4 259.8,173.9 259.9,187.0 260.0,182.1 260.1,187.3 260.3,179.4 260.4,182.4 260.5,180.0 260.6,182.3 260.7,185.9 260.9,184.1 261.0,185.6 261.1,184.8 261.2,180.9 261.3,177.9 261.5,178.4 261.6,179.3 261.7,182.5 261.8,179.2 261.9,183.2 262.1,179.9 262.2,177.9 262.3,180.8 262.4,181.4 262.5,181.0 262.7,177.5 262.8,179.9 262.9,183.0 263.0,179.7 263.1,181.4 263.3,173.5 263.4,177.9 263.5,182.4 263.6,177.2 263.7,176.0 263.9,177.2 264.0,179.6 264.1,178.3 264.2,178.1 264.3,176.1 264.5,178.2 264.6,172.5 264.7,179.9 264.8,174.6 264.9,179.0 265.1,183.9 265.2,182.0 265.3,183.7 265.4,183.1 265.5,174.1 265.7,179.5 265.8,175.5 265.9,179.9 266.0,177.1 266.1,180.1 266.3,174.3 266.4,177.6 266.5,178.2 266.6,177.3 266.7,170.4 266.9,175.7 267.0,174.8 267.1,181.3 267.2,179.8 267.3,177.3 267.5,184.1 267.6,174.8 267.7,178.3 267.8,179.3 267.9,179.9 268.1,179.9 268.2,180.6 268.3,174.7 268.4,176.6 268.5,174.7 268.7,179.1 268.8,180.8 268.9,174.0 269.0,181.9 269.1,180.2 269.3,176.6 269.4,175.8 269.5,183.4 269.6,180.6 269.7,179.9 269.9,180.5 270.0,182.6 270.1,177.8 270.2,181.1 270.3,179.8 270.5,185.3 270.6,178.4 270.7,183.4 270.8,175.0 270.9,175.2 271.1,177.8 271.2,175.3 271.3,175.1 271.4,175.3 271.5,173.3 271.7,174.2 271.8,174.7 271.9,175.1 272.0,167.2 272.1,171.2 272.3,171.6 272.4,169.3 272.5,172.6 272.6,172.8 272.7,169.8 272.9,169.0 273.0,170.4 273.1,177.1 273.2,172.7 273.3,173.2 273.5,171.8 273.6,175.9 273.7,176.4 273.8,173.6 273.9,176.0 274.1,176.5 274.2,173.5 274.3,170.4 274.4,172.7 274.5,169.6 274.7,175.8 274.8,170.3 274.9,172.1 275.0,174.2 275.1,172.2 275.3,172.9 275.4,170.3 275.5,171.1 275.6,164.3 275.7,168.4 275.9,170.8 276.0,166.3 276.1,163.8 276.2,165.2 276.3,161.0 276.5,165.7 276.6,165.1 276.7,157.3 276.8,162.0 276.9,160.4 277.1,160.7 277.2,160.7 277.3,162.6 277.4,163.7 277.5,160.1 277.7,165.1 277.8,163.3 277.9,161.5 278.0,164.5 278.1,167.5 278.3,160.9 278.4,158.2 278.5,159.8 278.6,164.6 278.7,156.6 278.9,151.6 279.0,161.3 279.1,164.0 279.2,155.8 279.3,154.3 279.5,151.9 279.6,151.6 279.7,153.7 279.8,152.4 279.9,153.2 280.1,154.1 280.2,154.8 280.3,155.3 280.4,152.9 280.5,153.9 280.7,156.4 280.8,151.6 280.9,157.0 281.0,155.3 281.1,154.0 281.3,160.1 281.4,155.5 281.5,151.9 281.6,152.3 281.7,158.7 281.9,158.0 282.0,159.2 282.1,157.0 282.2,156.6 282.3,161.3 282.5,155.3 282.6,155.6 282.7,155.5 282.8,156.5 282.9,154.2 283.1,158.1 283.2,151.0 283.3,150.2 283.4,150.3 283.5,152.8 283.7,144.8 283.8,144.8 283.9,153.6 284.0,146.6 284.1,147.5 284.3,156.0 284.4,147.1 284.5,147.2 284.6,147.6 284.7,149.8 284.9,152.8 285.0,152.7 285.1,149.8 285.2,147.9 285.3,152.8 285.5,151.9 285.6,148.6 285.7,156.7 285.8,148.2 285.9,149.6 286.1,154.8 286.2,145.0 286.3,149.4 286.4,143.5 286.5,141.0 286.7,148.4 286.8,147.7 286.9,143.8 287.0,148.8 287.1,141.2 287.3,142.9 287.4,140.7 287.5,149.6 287.6,143.9 287.7,143.7 287.9,151.1 288.0,143.5 288.1,150.8 288.2,146.4 288.3,151.1 288.5,144.7 288.6,141.8 288.7,146.5 288.8,146.3 288.9,142.2 289.1,147.3 289.2,145.6 289.3,143.2 289.4,144.4 289.5,141.0 289.7,142.2 289.8,140.1 289.9,146.0 290.0,142.6 290.1,148.3 290.3,142.9 290.4,140.1 290.5,137.9 290.6,148.5 290.7,144.9 290.9,142.0 291.0,146.6 291.1,142.2 291.2,142.3 291.3,145.5 291.5,146.0 291.6,147.5 291.7,144.1 291.8,141.6 291.9,145.0 292.1,137.8 292.2,151.1 292.3,148.7 292.4,145.1 292.5,150.9 292.7,146.7 292.8,145.6 292.9,147.8 293.0,149.4 293.1,146.3 293.3,148.3 293.4,147.8 293.5,148.8 293.6,152.9 293.7,154.5 293.9,152.7 294.0,151.3 294.1,152.6 294.2,149.4 294.3,151.7 294.5,149.8 294.6,152.6 294.7,155.4 294.8,150.9 294.9,152.2 295.1,156.5 295.2,155.5 295.3,146.2 295.4,165.3 295.5,151.9 295.7,155.6 295.8,156.3 295.9,157.3 296.0,158.3 296.1,149.7 296.3,158.4 296.4,158.1 296.5,154.7 296.6,156.1 296.7,157.8 296.9,158.3 297.0,161.6 297.1,154.5 297.2,161.3 297.3,165.8 297.5,155.6 297.6,156.9 297.7,158.5 297.8,161.4 297.9,156.4 298.1,163.5 298.2,167.0 298.3,159.9 298.4,158.0 298.5,158.6 298.7,154.2 298.8,158.1 298.9,161.4 299.0,161.5 299.1,158.4 299.3,161.4 299.4,161.8 299.5,166.8 299.6,162.5 299.7,165.5 299.9,160.7 300.0,161.0 300.1,159.1 300.2,155.8 300.3,161.8 300.5,156.9 300.6,165.0 300.7,161.5 300.8,159.6 300.9,157.2 301.1,167.3 301.2,165.6 301.3,165.3 301.4,167.0 301.5,170.6 301.7,173.6 301.8,173.2 301.9,170.5 302.0,175.0 302.1,166.0 302.3,167.9 302.4,177.5 302.5,173.1 302.6,167.4 302.7,166.8 302.9,167.5 303.0,174.9 303.1,171.5 303.2,166.4 303.3,169.9 303.5,171.8 303.6,169.2 303.7,168.1 303.8,171.2 303.9,171.5 304.1,169.6 304.2,175.2 304.3,176.9 304.4,172.4 304.5,178.9 304.7,174.1 304.8,178.2 304.9,173.7 305.0,180.0 305.1,173.0 305.3,175.6 305.4,177.3 305.5,178.8 305.6,176.5 305.7,178.7 305.9,179.4 306.0,172.6 306.1,174.1 306.2,172.4 306.3,180.6 306.5,182.8 306.6,182.3 306.7,176.2 306.8,176.4 306.9,185.1 307.1,177.1 307.2,182.1 307.3,184.9 307.4,181.9 307.5,180.3 307.7,182.9 307.8,182.9 307.9,185.1 308.0,187.0 308.1,184.0 308.3,188.0 308.4,181.6 308.5,186.3 308.6,180.1 308.7,189.2 308.9,180.6 309.0,187.7 309.1,188.0 309.2,184.6 309.3,182.8 309.5,185.6 309.6,186.5 309.7,179.3 309.8,183.6 309.9,188.6 310.1,185.8 310.2,180.0 310.3,184.1 310.4,182.8 310.5,179.4 310.7,187.5 310.8,184.8 310.9,188.2 311.0,186.4 311.1,185.0 311.3,190.8 311.4,186.6 311.5,186.9 311.6,184.5 311.7,189.8 311.9,192.2 312.0,187.7 312.1,192.7 312.2,189.3 312.3,188.6 312.5,193.3 312.6,191.5 312.7,194.7 312.8,200.5 312.9,196.9 313.1,199.3 313.2,193.5 313.3,197.2 313.4,194.9 313.5,194.9 313.7,191.9 313.8,196.1 313.9,196.3 314.0,193.5 314.1,190.1 314.3,195.0 314.4,193.7 314.5,195.3 314.6,196.9 314.7,199.7 314.9,195.9 315.0,197.1 315.1,197.8 315.2,192.0 315.3,199.8 315.5,198.7 315.6,201.5 315.7,197.7 315.8,202.7 315.9,196.9 316.1,203.6 316.2,201.0 316.3,200.6 316.4,204.7 316.5,202.0 316.7,204.8 316.8,207.8 316.9,208.2 317.0,205.9 317.1,202.2 317.3,209.5 317.4,207.0 317.5,211.4 317.6,208.5 317.7,213.2 317.9,211.7 318.0,209.3 318.1,211.3 318.2,209.7 318.3,205.7 318.5,208.9 318.6,210.5 318.7,212.0 318.8,210.0 318.9,205.3 319.1,209.1 319.2,209.6 319.3,207.5 319.4,207.6 319.5,207.6 319.7,212.1 319.8,214.2 319.9,216.9 320.0,214.6 320.1,214.2 320.3,211.5 320.4,213.2 320.5,216.3 320.6,212.7 320.7,219.5 320.9,219.6 321.0,220.6 321.1,220.9 321.2,219.0 321.3,221.1 321.5,221.1 321.6,215.1 321.7,223.1 321.8,221.7 321.9,219.3 322.1,217.1 322.2,216.9 322.3,219.1 322.4,219.6 322.5,219.6 322.7,217.1 322.8,222.5 322.9,227.2 323.0,220.6 323.1,225.2 323.3,222.7 323.4,219.1 323.5,223.4 323.6,218.8 323.7,229.0 323.9,224.0 324.0,223.7 324.1,222.4 324.2,226.8 324.3,224.0 324.5,223.8 324.6,223.6 324.7,227.5 324.8,228.3 324.9,221.7 325.1,222.2 325.2,223.3 325.3,221.8 325.4,220.9 325.5,227.7 325.7,222.6 325.8,221.0 325.9,222.7 326.0,224.2 326.1,224.0 326.3,230.2 326.4,227.4 326.5,223.0 326.6,221.6 326.7,224.4 326.9,227.1 327.0,226.3 327.1,223.7 327.2,220.8 327.3,224.8 327.5,229.2 327.6,226.6 327.7,227.8 327.8,222.9 327.9,228.7 328.1,230.9 328.2,231.6 328.3,235.2 328.4,234.8 328.5,233.2 328.7,234.0 328.8,231.1 328.9,231.2 329.0,228.7 329.1,227.0 329.3,230.9 329.4,232.0 329.5,237.0 329.6,231.0 329.7,230.6 329.9,235.0 330.0,234.3 330.1,235.5 330.2,230.8 330.3,232.1 330.5,230.5 330.6,237.3 330.7,226.3 330.8,236.1 330.9,236.5 331.1,233.1 331.2,235.3 331.3,228.9 331.4,235.6 331.5,236.9 331.7,232.9 331.8,232.9 331.9,239.5 332.0,239.3 332.1,239.8 332.3,239.9 332.4,235.3 332.5,237.1 332.6,238.1 332.7,237.9 332.9,241.8 333.0,239.7 333.1,242.6 333.2,244.6 333.3,238.0 333.5,247.7 333.6,242.8 333.7,244.5 333.8,247.5 333.9,243.9 334.1,242.7 334.2,241.6 334.3,245.2 334.4,240.9 334.5,242.2 334.7,240.9 334.8,248.6 334.9,244.6 335.0,245.1 335.1,241.8 335.3,245.5 335.4,245.0 335.5,247.0 335.6,247.3 335.7,246.9 335.9,242.1 336.0,248.2 336.1,252.5 336.2,245.7 336.3,248.4 336.5,246.4 336.6,247.1 336.7,250.2 336.8,251.2 336.9,252.2 337.1,251.2 337.2,253.8 337.3,251.4 337.4,248.4 337.5,254.2 337.7,254.2 337.8,254.3 337.9,251.0 338.0,251.0 338.1,249.1 338.3,251.3 338.4,253.3 338.5,252.9 338.6,258.2 338.7,253.6 338.9,255.3 339.0,250.6 339.1,253.1 339.2,259.5 339.3,259.2 339.5,255.5 339.6,263.7 339.7,260.6 339.8,257.0 339.9,256.0 340.1,257.0 340.2,254.1 340.3,257.9 340.4,256.8 340.5,257.7 340.7,260.4 340.8,257.7 340.9,259.8 341.0,258.7 341.1,266.7 341.3,260.0 341.4,262.5 341.5,263.3 341.6,262.1 341.7,264.0 341.9,260.7 342.0,260.3 342.1,261.7 342.2,261.9 342.3,263.9 342.5,265.2 342.6,269.2 342.7,267.2 342.8,263.4 342.9,265.0 343.1,268.8 343.2,267.5 343.3,265.2 343.4,268.7 343.5,264.0 343.7,270.4 343.8,266.2 343.9,266.4 344.0,267.7 344.1,267.3 344.3,266.6 344.4,274.0 344.5,266.6 344.6,264.8 344.7,266.8 344.9,264.8 345.0,271.1 345.1,268.2 345.2,267.3 345.3,269.2 345.5,265.6 345.6,267.9 345.7,270.9 345.8,267.6 345.9,267.9 346.1,271.4 346.2,268.6 346.3,269.4 346.4,269.5 346.5,273.8 346.7,267.2 346.8,269.0 346.9,271.0 347.0,270.3 347.1,270.7 347.3,272.8 347.4,273.9 347.5,272.5 347.6,274.7 347.7,274.7 347.9,276.7 348.0,274.5 348.1,271.2 348.2,273.2 348.3,273.5 348.5,274.2 348.6,274.1 348.7,276.5 348.8,267.6 348.9,273.4 349.1,274.9 349.2,269.4 349.3,269.5 349.4,271.3 349.5,273.8 349.7,273.7 349.8,266.1 349.9,270.9 350.0,272.8 350.1,266.6 350.3,273.4 350.4,274.9 350.5,271.5 350.6,272.4 350.7,269.6 350.9,278.3 351.0,273.7 351.1,279.2 351.2,273.7 351.3,276.9 351.5,276.6 351.6,277.5 351.7,273.6 351.8,271.8 351.9,276.6 352.1,277.4 352.2,278.4 352.3,276.0 352.4,280.4 352.5,268.7 352.7,278.9 352.8,274.0 352.9,278.4 353.0,282.7 353.1,283.5 353.3,280.8 353.4,282.0 353.5,281.1 353.6,284.0 353.7,275.3 353.9,276.3 354.0,287.1 354.1,281.4 354.2,279.8 354.3,284.0 354.5,283.7 354.6,280.2 354.7,281.5 354.8,285.9 354.9,279.4 355.1,283.7 355.2,277.4 355.3,284.8 355.4,288.4 355.5,282.3 355.7,279.7 355.8,281.9 355.9,283.3 356.0,286.5 356.1,282.1 356.3,289.7 356.4,283.0 356.5,288.4 356.6,286.9 356.7,288.7 356.9,287.6 357.0,281.2 357.1,288.1 357.2,284.5 357.3,287.0 357.5,282.2 357.6,288.5 357.7,285.1 357.8,282.9 357.9,279.6 358.1,288.9 358.2,288.4 358.3,286.6 358.4,283.0 358.5,289.9 358.7,285.4 358.8,289.5 358.9,290.9 359.0,292.6 359.1,288.3 359.3,286.3 359.4,289.3 359.5,294.8 359.6,290.9 359.7,287.0 359.9,287.2 360.0,288.7 360.1,285.4 360.2,292.4 360.3,292.0 360.5,282.2 360.6,286.4 360.7,288.5 360.8,289.1 360.9,294.6 361.1,285.9 361.2,293.8 361.3,294.0 361.4,289.6 361.5,286.2 361.7,291.9 361.8,290.7 361.9,293.6 362.0,292.3 362.1,298.4 362.3,289.1 362.4,297.7 362.5,294.1 362.6,301.1 362.7,291.2 362.9,294.7 363.0,290.5 363.1,297.3 363.2,292.6 363.3,295.5 363.5,294.9 363.6,291.2 363.7,296.7 363.8,292.2 363.9,288.9 364.1,289.2 364.2,290.8 364.3,292.5 364.4,295.7 364.5,289.2 364.7,294.5 364.8,289.4 364.9,293.2 365.0,292.3 365.1,292.5 365.3,291.2 365.4,294.3 365.5,293.1 365.6,295.5 365.7,293.3 365.9,294.5 366.0,294.6 366.1,298.2 366.2,295.4 366.3,296.3 366.5,295.0 366.6,296.4 366.7,299.1 366.8,294.7 366.9,298.4 367.1,296.1 367.2,302.4 367.3,296.0 367.4,295.8 367.5,300.2 367.7,296.6 367.8,299.3 367.9,295.1 368.0,297.1 368.1,302.3 368.3,299.8 368.4,304.1 368.5,300.6 368.6,298.7 368.7,298.2 368.9,300.9 369.0,301.6 369.1,300.8 369.2,303.0 369.3,300.9 369.5,299.1 369.6,301.6 369.7,300.0 369.8,304.4 369.9,303.7 370.1,301.6 370.2,297.3 370.3,299.9 370.4,298.0 370.5,302.2 370.7,299.1 370.8,306.5 370.9,300.8 371.0,307.4 371.1,298.8 371.3,300.7 371.4,298.9 371.5,300.7 371.6,302.9 371.7,303.4 371.9,300.9 372.0,297.5 372.1,299.8 372.2,302.9 372.3,303.2 372.5,303.9 372.6,303.1 372.7,303.3 372.8,304.9 372.9,304.3 373.1,309.0 373.2,301.7 373.3,305.6 373.4,302.9 373.5,306.5 373.7,308.3 373.8,308.0 373.9,308.1 374.0,310.7 374.1,310.2 374.3,304.7 374.4,307.4 374.5,311.2 374.6,308.7 374.7,312.2 374.9,306.6 375.0,312.8 375.1,308.2 375.2,310.5 375.3,310.8 375.5,313.1 375.6,312.0 375.7,313.6 375.8,314.0 375.9,310.9 376.1,305.9 376.2,313.0 376.3,309.6 376.4,311.9 376.5,313.4 376.7,307.9 376.8,309.3 376.9,307.7 377.0,309.8 377.1,309.4 377.3,311.6 377.4,310.1 377.5,305.2 377.6,315.0 377.7,308.5 377.9,306.0 378.0,307.9 378.1,307.9 378.2,311.0 378.3,307.8 378.5,308.0 378.6,311.1 378.7,307.1 378.8,312.6 378.9,317.7 379.1,311.8 379.2,312.1 379.3,314.0 379.4,313.1 379.5,313.3 379.7,316.4 379.8,308.7 379.9,311.6 380.0,304.9 380.1,311.5 380.3,310.5 380.4,315.3 380.5,309.3 380.6,314.7 380.7,310.9 380.9,310.3 381.0,311.0 381.1,315.2 381.2,315.4 381.3,311.7 381.5,310.8 381.6,310.3 381.7,314.0 381.8,314.3 381.9,309.8 382.1,315.9 382.2,312.8 382.3,315.8 382.4,318.9 382.5,318.7 382.7,315.4 382.8,316.6 382.9,316.5 383.0,319.1 383.1,320.0 383.3,318.5 383.4,319.8 383.5,323.3 383.6,320.3 383.7,314.8 383.9,320.5 384.0,316.8 384.1,317.8 384.2,315.4 384.3,318.9 384.5,319.6 384.6,315.1 384.7,317.8 384.8,316.1 384.9,316.8 385.1,313.6 385.2,315.3 385.3,315.5 385.4,318.2 385.5,319.7 385.7,317.9 385.8,314.0 385.9,314.5 386.0,315.0 386.1,317.7 386.3,319.5 386.4,314.6 386.5,317.2 386.6,316.5 386.7,320.3 386.9,319.8 387.0,316.6 387.1,316.5 387.2,320.8 387.3,317.7 387.5,321.3 387.6,315.5 387.7,316.9 387.8,312.9 387.9,314.6 388.1,319.7 388.2,317.4 388.3,318.9 388.4,317.3 388.5,315.8 388.7,317.8 388.8,318.0 388.9,321.8 389.0,317.7 389.1,319.7 389.3,318.8 389.4,318.4 389.5,321.4 389.6,320.3 389.7,323.8 389.9,320.4 390.0,323.0 390.1,324.6 390.2,323.9 390.3,326.9 390.5,325.2 390.6,324.9 390.7,323.9 390.8,324.4 390.9,325.8 391.1,324.9 391.2,329.7 391.3,324.6 391.4,323.5 391.5,323.1 391.7,322.4 391.8,325.5 391.9,325.1 392.0,325.9 392.1,325.8 392.3,324.2 392.4,321.1 392.5,328.1 392.6,325.1 392.7,323.1 392.9,325.9 393.0,322.5 393.1,326.7 393.2,324.3 393.3,327.5 393.5,323.2 393.6,325.9 393.7,322.9 393.8,325.5 393.9,327.5 394.1,326.7 394.2,325.8 394.3,326.5 394.4,327.5 394.5,328.0 394.7,327.4 394.8,325.6 394.9,329.1 395.0,326.8 395.1,331.1 395.3,325.8 395.4,327.2 395.5,329.0 395.6,329.0 395.7,332.3 395.9,328.2 396.0,329.1 396.1,331.9 396.2,329.7 396.3,327.3 396.5,328.2 396.6,327.9 396.7,329.8 396.8,326.5 396.9,328.7 397.1,326.8 397.2,323.8 397.3,334.0 397.4,330.8 397.5,329.9 397.7,331.9 397.8,327.9 397.9,331.3 398.0,326.6 398.1,328.7 398.3,329.4 398.4,330.3 398.5,328.1 398.6,328.7 398.7,326.2 398.9,328.4 399.0,326.8 399.1,328.0 399.2,327.9 399.3,332.1 399.5,328.2 399.6,327.2 399.7,330.6 399.8,331.0 399.9,328.4 400.1,327.0 400.2,331.7 400.3,327.1 400.4,325.7 400.5,328.7 400.7,327.8 400.8,327.6 400.9,330.6 401.0,328.0 401.1,328.9 401.3,333.2 401.4,329.6 401.5,329.2 401.6,334.1 401.7,329.8 401.9,332.5 402.0,335.0 402.1,334.1 402.2,333.4 402.3,329.7 402.5,331.6 402.6,330.9 402.7,332.5 402.8,329.2 402.9,331.9 403.1,330.4 403.2,327.4 403.3,327.4 403.4,330.3 403.5,329.5 403.7,328.4 403.8,329.9 403.9,327.3 404.0,327.1 404.1,330.5 404.3,333.2 404.4,330.7 404.5,327.2 404.6,327.7 404.7,327.6 404.9,327.8 405.0,331.6 405.1,329.9 405.2,328.1 405.3,330.1 405.5,328.8 405.6,333.3 405.7,333.9 405.8,326.5 405.9,329.4 406.1,329.8 406.2,327.9 406.3,326.2 406.4,324.9 406.5,337.3 406.7,331.1 406.8,329.8 406.9,336.9 407.0,336.8 407.1,333.3 407.3,328.7 407.4,331.0 407.5,328.3 407.6,332.7 407.7,330.9 407.9,330.0 408.0,332.5 408.1,333.8 408.2,333.6 408.3,342.6 408.5,333.6 408.6,338.8 408.7,336.6 408.8,333.2 408.9,334.0 409.1,339.6 409.2,333.7 409.3,333.2 409.4,334.4 409.5,333.2 409.7,333.4 409.8,338.7 409.9,335.3 410.0,335.7 410.1,338.0 410.3,335.5 410.4,337.6 410.5,336.1 410.6,338.1 410.7,333.8 410.9,331.1 411.0,337.5 411.1,335.9 411.2,335.6 411.3,334.4 411.5,335.6 411.6,340.1 411.7,333.8 411.8,334.7 411.9,336.7 412.1,334.5 412.2,334.9 412.3,333.0 412.4,334.0 412.5,333.6 412.7,332.4 412.8,331.9 412.9,332.2 413.0,329.4 413.1,331.4 413.3,333.7 413.4,327.9 413.5,331.6 413.6,328.3 413.7,334.5 413.9,330.7 414.0,328.1 414.1,329.2 414.2,331.9 414.3,333.5 414.5,333.6 414.6,332.6 414.7,334.5 414.8,334.1 414.9,334.8 415.1,335.0 415.2,332.4 415.3,337.3 415.4,333.1 415.5,332.2 415.7,336.3 415.8,336.4 415.9,334.4 416.0,334.7 416.1,332.4 416.3,339.1 416.4,334.5 416.5,330.9 416.6,333.7 416.7,329.6 416.9,328.5 417.0,334.6 417.1,329.7 417.2,331.8 417.3,333.0 417.5,333.6 417.6,333.4 417.7,335.0 417.8,333.3 417.9,330.8 418.1,330.1 418.2,333.9 418.3,331.8 418.4,332.0 418.5,338.6 418.7,331.6 418.8,336.3 418.9,336.4 419.0,332.2 419.1,330.7 419.3,337.7 419.4,337.8 419.5,338.6 419.6,338.3 419.7,338.7 419.9,340.4 420.0,342.8 420.1,335.5 420.2,341.2 420.3,342.1 420.5,338.5 420.6,341.5 420.7,338.1 420.8,338.6 420.9,337.9 421.1,340.8 421.2,338.2 421.3,343.0 421.4,342.3 421.5,338.9 421.7,339.6 421.8,335.6 421.9,339.1 422.0,342.3 422.1,337.8 422.3,338.3 422.4,336.9 422.5,339.6 422.6,338.4 422.7,336.2 422.9,334.5 423.0,335.2 423.1,334.4 423.2,339.5 423.3,336.7 423.5,335.9 423.6,334.3 423.7,336.1 423.8,337.4 423.9,337.3 424.1,337.4 424.2,340.6 424.3,337.5 424.4,335.9 424.5,336.3 424.7,342.4 424.8,338.3 424.9,341.8 425.0,336.0 425.1,337.3 425.3,336.9 425.4,340.0 425.5,342.8 425.6,340.6 425.7,338.9 425.9,341.4 426.0,340.1 426.1,333.7 426.2,340.6 426.3,336.3 426.5,341.7 426.6,336.8 426.7,335.3 426.8,336.1 426.9,334.2 427.1,332.8 427.2,339.8 427.3,335.9 427.4,335.1 427.5,335.1 427.7,332.3 427.8,335.0 427.9,332.7 428.0,332.7 428.1,334.9 428.3,334.0 428.4,337.1 428.5,334.8 428.6,335.3 428.7,336.3 428.9,337.3 429.0,334.3 429.1,337.0 429.2,331.9 429.3,334.3 429.5,335.7 429.6,338.9 429.7,335.6 429.8,337.5 429.9,337.8 430.1,340.7 430.2,337.0 430.3,338.0 430.4,339.8 430.5,340.5 430.7,339.7 430.8,342.1 430.9,340.3 431.0,335.9 431.1,340.3 431.3,333.5 431.4,341.7 431.5,336.2 431.6,336.2 431.7,336.2 431.9,337.8 432.0,343.1 432.1,337.2 432.2,337.7 432.3,340.3 432.5,346.0 432.6,338.4 432.7,343.0 432.8,341.6 432.9,338.1 433.1,337.8 433.2,339.8 433.3,341.8 433.4,336.7 433.5,337.9 433.7,341.0 433.8,342.9 433.9,340.1 434.0,343.9 434.1,336.8 434.3,339.5 434.4,341.2 434.5,339.1 434.6,343.3 434.7,339.1 434.9,339.7 435.0,341.2 435.1,338.4 435.2,335.6 435.3,339.2 435.5,336.1 435.6,338.9 435.7,335.1 435.8,339.7 435.9,334.4 436.1,334.9 436.2,334.9 436.3,333.2 436.4,337.5 436.5,338.1 436.7,337.5 436.8,340.5 436.9,344.1 437.0,343.0 437.1,343.3 437.3,340.4 437.4,342.5 437.5,342.1 437.6,340.1 437.7,341.0 437.9,337.0 438.0,341.7 438.1,343.8 438.2,338.8 438.3,342.8 438.5,342.1 438.6,339.8 438.7,341.8 438.8,340.7 438.9,343.8 439.1,343.2 439.2,341.0 439.3,343.6 439.4,343.1 439.5,342.0 439.7,337.9 439.8,337.8 439.9,340.1 440.0,339.9 440.1,341.1 440.3,336.1 440.4,337.7 440.5,336.2 440.6,341.4 440.7,336.3 440.9,337.7 441.0,336.4 441.1,335.9 441.2,338.4 441.3,339.4 441.5,337.2 441.6,341.6 441.7,335.7 441.8,338.2 441.9,341.5 442.1,336.0 442.2,336.7 442.3,335.2 442.4,336.3 442.5,337.3 442.7,338.4 442.8,340.6 442.9,336.4 443.0,336.7 443.1,339.0 443.3,336.7 443.4,340.2 443.5,335.9 443.6,338.0 443.7,338.0 443.9,340.3 444.0,336.6 444.1,338.5 444.2,340.2 444.3,338.1 444.5,339.6 444.6,336.8 444.7,342.8 444.8,342.1 444.9,335.2 445.1,341.2 445.2,339.3 445.3,341.7 445.4,340.7 445.5,335.7 445.7,346.4 445.8,341.0 445.9,342.3 446.0,342.4 446.1,344.3 446.3,344.7 446.4,339.4 446.5,341.3 446.6,345.1 446.7,342.4 446.9,345.4 447.0,336.1 447.1,341.8 447.2,346.9 447.3,341.0 447.5,341.9 447.6,342.8 447.7,343.2 447.8,344.8 447.9,343.9 448.1,347.8 448.2,340.0 448.3,338.1 448.4,341.1 448.5,340.5 448.7,344.5 448.8,342.1 448.9,344.1 449.0,343.6 449.1,339.3 449.3,337.3 449.4,340.6 449.5,334.9 449.6,338.6 449.7,345.7 449.9,341.7 450.0,338.1 450.1,341.0 450.2,339.4 450.3,345.9 450.5,339.7 450.6,345.6 450.7,342.7 450.8,339.1 450.9,344.1 451.1,345.1 451.2,343.0 451.3,346.7 451.4,347.1 451.5,342.8 451.7,348.3 451.8,347.7 451.9,341.0 452.0,347.6 452.1,343.8 452.3,342.3 452.4,344.8 452.5,347.1 452.6,342.8 452.7,346.7 452.9,339.9 453.0,339.7 453.1,346.9 453.2,343.2 453.3,346.0 453.5,343.5 453.6,344.8 453.7,346.3 453.8,342.9 453.9,347.6 454.1,343.2 454.2,344.3 454.3,345.7 454.4,342.1 454.5,344.2 454.7,345.4 454.8,345.3 454.9,345.7 455.0,343.5 455.1,346.6 455.3,352.7 455.4,353.4 455.5,349.1 455.6,349.7 455.7,347.6 455.9,350.0 456.0,348.7 456.1,343.8 456.2,349.4 456.3,344.4 456.5,346.3 456.6,342.9 456.7,343.7 456.8,345.4 456.9,343.1 457.1,345.1 457.2,348.1 457.3,344.7 457.4,344.8 457.5,346.4 457.7,345.8 457.8,347.5 457.9,346.1 458.0,347.6 458.1,350.6 458.3,347.9 458.4,344.0 458.5,345.8 458.6,344.4 458.7,347.8 458.9,348.7 459.0,350.2 459.1,347.5 459.2,345.5 459.3,345.8 459.5,345.7 459.6,348.3 459.7,346.6 459.8,348.3 459.9,344.5 460.1,344.7 460.2,347.2 460.3,345.4 460.4,350.7 460.5,344.4 460.7,348.1 460.8,347.5 460.9,345.9 461.0,346.4 461.1,349.8 461.3,345.3 461.4,344.7 461.5,346.1 461.6,346.4 461.7,349.0 461.9,345.9 462.0,350.5 462.1,350.6 462.2,347.5 462.3,346.9 462.5,349.0 462.6,343.0 462.7,349.8 462.8,351.0 462.9,347.4 463.1,343.0 463.2,345.0 463.3,346.0 463.4,346.7 463.5,346.0 463.7,346.9 463.8,347.7 463.9,348.5 464.0,352.1 464.1,346.9 464.3,350.2 464.4,348.7 464.5,348.6 464.6,347.4 464.7,351.4 464.9,347.8 465.0,347.6 465.1,349.5 465.2,349.2 465.3,348.7 465.5,351.1 465.6,349.7 465.7,351.2 465.8,346.1 465.9,350.4 466.1,351.1 466.2,348.6 466.3,348.0 466.4,350.2 466.5,351.7 466.7,349.1 466.8,348.6 466.9,354.4 467.0,349.4 467.1,355.7 467.3,351.1 467.4,354.0 467.5,354.2 467.6,352.6 467.7,351.5 467.9,350.5 468.0,352.2 468.1,353.7 468.2,358.0 468.3,355.8 468.5,354.4 468.6,355.6 468.7,352.6 468.8,354.0 468.9,349.3 469.1,353.1 469.2,355.1 469.3,353.3 469.4,353.6 469.5,350.4 469.7,348.8 469.8,349.4 469.9,349.2 470.0,352.6 470.1,353.3 470.3,352.5 470.4,350.7 470.5,351.5 470.6,350.2 470.7,348.7 470.9,350.9 471.0,347.7 471.1,353.1 471.2,350.4 471.3,352.0 471.5,350.0 471.6,352.3 471.7,353.5 471.8,352.9 471.9,354.6 472.1,355.3 472.2,351.6 472.3,354.8 472.4,351.4 472.5,349.1 472.7,355.6 472.8,353.5 472.9,356.0 473.0,360.3 473.1,357.2 473.3,354.4 473.4,360.4 473.5,358.7 473.6,359.0 473.7,361.8 473.9,358.4 474.0,359.4 474.1,358.0 474.2,359.0 474.3,362.0 474.5,358.8 474.6,357.8 474.7,359.6 474.8,357.9 474.9,358.0 475.1,363.6 475.2,358.0 475.3,363.5 475.4,362.0 475.5,359.7 475.7,361.4 475.8,361.0 475.9,357.0 476.0,361.3 476.1,356.6 476.3,355.1 476.4,355.8 476.5,360.7 476.6,361.4 476.7,358.1 476.9,353.8 477.0,358.4 477.1,359.0 477.2,358.1 477.3,356.4 477.5,355.7 477.6,358.3 477.7,358.8 477.8,357.8 477.9,359.1 478.1,360.3 478.2,363.3 478.3,359.9 478.4,361.6 478.5,361.1 478.7,361.5 478.8,362.9 478.9,360.3 479.0,359.6 479.1,360.9 479.3,363.5 479.4,362.1 479.5,361.2 479.6,363.0 479.7,361.5 479.9,365.7 480.0,363.3 480.1,360.0 480.2,360.8 480.3,362.9 480.5,362.4 480.6,358.4 480.7,360.5 480.8,364.1 480.9,362.2 481.1,363.8 481.2,364.1 481.3,365.4 481.4,361.7 481.5,358.8 481.7,361.4 481.8,365.6 481.9,362.0 482.0,365.9 482.1,362.7 482.3,361.3 482.4,360.6 482.5,363.4 482.6,363.3 482.7,364.1 482.9,364.7 483.0,361.6 483.1,366.6 483.2,367.9 483.3,361.6 483.5,360.6 483.6,368.0 483.7,363.1 483.8,363.3 483.9,365.5 484.1,366.4 484.2,364.2 484.3,365.0 484.4,362.6 484.5,365.2 484.7,361.6 484.8,364.8 484.9,360.3 485.0,361.5 485.1,360.8 485.3,363.5 485.4,363.1 485.5,362.8 485.6,360.3 485.7,363.9 485.9,364.2 486.0,363.2 486.1,362.2 486.2,363.2 486.3,363.3 486.5,365.8 486.6,364.6 486.7,365.6 486.8,361.8 486.9,364.0 487.1,362.8 487.2,366.7 487.3,364.4 487.4,363.8 487.5,366.6 487.7,365.9 487.8,365.7 487.9,364.5 488.0,364.2 488.1,367.4 488.3,364.0 488.4,364.2 488.5,364.0 488.6,366.2 488.7,364.7 488.9,362.2 489.0,362.5 489.1,366.0 489.2,362.0 489.3,365.9 489.5,367.0 489.6,363.3 489.7,364.9 489.8,361.2 489.9,365.9 490.1,365.2 490.2,364.0 490.3,364.7 490.4,365.8 490.5,364.9 490.7,364.7 490.8,364.4 490.9,364.2 491.0,366.7 491.1,361.8 491.3,364.3 491.4,363.3 491.5,364.0 491.6,362.7 491.7,360.2 491.9,359.5 492.0,361.3 492.1,361.6 492.2,363.0 492.3,362.7 492.5,361.9 492.6,362.9 492.7,364.6 492.8,362.8 492.9,365.0 493.1,359.1 493.2,362.4 493.3,363.9 493.4,361.7 493.5,363.9 493.7,362.7 493.8,359.1 493.9,359.5 494.0,364.2 494.1,364.1 494.3,363.0 494.4,357.9 494.5,362.3 494.6,362.2 494.7,364.0 494.9,360.9 495.0,362.0 495.1,367.5 495.2,366.2 495.3,368.3 495.5,367.2 495.6,366.6 495.7,367.6 495.8,366.0 495.9,363.1 496.1,361.9 496.2,363.3 496.3,361.6 496.4,365.1 496.5,359.2 496.7,357.2 496.8,361.5 496.9,359.8 497.0,360.0 497.1,364.7 497.3,358.5 497.4,359.5 497.5,363.6 497.6,361.4 497.7,358.5 497.9,359.7 498.0,363.6 498.1,362.2 498.2,362.5 498.3,361.0 498.5,362.7 498.6,361.3 498.7,361.8 498.8,364.4 498.9,360.9 499.1,361.3 499.2,363.3 499.3,360.8 499.4,358.1 499.5,365.9 499.7,362.8 499.8,362.0 499.9,363.8 500.0,365.2 500.1,359.9 500.3,365.0 500.4,364.1 500.5,364.8 500.6,360.7 500.7,366.7 500.9,363.8 501.0,362.5 501.1,360.6 501.2,360.2 501.3,358.8 501.5,360.8 501.6,362.0 501.7,360.8 501.8,362.5 501.9,362.0 502.1,362.1 502.2,360.8 502.3,359.9 502.4,363.7 502.5,362.9 502.7,361.9 502.8,361.9 502.9,362.5 503.0,361.0 503.1,362.7 503.3,365.9 503.4,360.2 503.5,365.3 503.6,360.0 503.7,362.9 503.9,363.0 504.0,366.7 504.1,363.5 504.2,364.6 504.3,365.9 504.5,363.3 504.6,362.9 504.7,362.0 504.8,366.5 504.9,365.5 505.1,361.2 505.2,362.7 505.3,362.1 505.4,364.6 505.5,362.8 505.7,362.0 505.8,366.0 505.9,365.0 506.0,363.3 506.1,361.3 506.3,364.8 506.4,362.8 506.5,365.7 506.6,366.3 506.7,362.7 506.9,365.6 507.0,363.4 507.1,364.3 507.2,362.0 507.3,365.1 507.5,365.2 507.6,365.1 507.7,362.8 507.8,359.9 507.9,360.8 508.1,362.1 508.2,362.8 508.3,360.3 508.4,362.9 508.5,360.7 508.7,360.2 508.8,361.5 508.9,362.0 509.0,362.0 509.1,362.9 509.3,362.1 509.4,364.4 509.5,364.3 509.6,359.8 509.7,363.1 509.9,366.3 510.0,360.8 510.1,361.0 510.2,363.1 510.3,366.6 510.5,360.9 510.6,362.8 510.7,362.8 510.8,365.8 510.9,364.7 511.1,366.2 511.2,366.2 511.3,368.0 511.4,367.2 511.5,366.5 511.7,365.3 511.8,363.2 511.9,363.7 512.0,367.9 512.1,362.2 512.3,366.8 512.4,362.8 512.5,364.0 512.6,363.4 512.7,364.5 512.9,365.6 513.0,360.5 513.1,368.3 513.2,365.3 513.3,360.8 513.5,363.1 513.6,362.6 513.7,363.8 513.8,363.8 513.9,359.9 514.1,360.8 514.2,359.3 514.3,358.1 514.4,362.7 514.5,361.3 514.7,360.6 514.8,359.1 514.9,358.4 515.0,362.2 515.1,361.0 515.3,361.3 515.4,361.8 515.5,359.0 515.6,363.9 515.7,362.6 515.9,367.8 516.0,363.9 516.1,363.8 516.2,362.9 516.3,365.5 516.5,365.8 516.6,367.1 516.7,365.7 516.8,360.0 516.9,367.8 517.1,367.5 517.2,363.8 517.3,365.5 517.4,361.0 517.5,366.1 517.7,359.8 517.8,363.7 517.9,365.9 518.0,367.0 518.1,364.4 518.3,363.9 518.4,362.0 518.5,365.3 518.6,356.9 518.7,361.3 518.9,363.4 519.0,364.2 519.1,358.0 519.2,364.9 519.3,362.1 519.5,360.9 519.6,365.8 519.7,363.0 519.8,365.3 519.9,361.8 520.1,361.8 520.2,363.6 520.3,364.4 520.4,367.1 520.5,359.8 520.7,361.6 520.8,363.1 520.9,361.6 521.0,364.5 521.1,366.7 521.3,362.7 521.4,366.4 521.5,365.5 521.6,363.0 521.7,367.5 521.9,364.3 522.0,364.8 522.1,366.5 522.2,366.5 522.3,364.5 522.5,364.6 522.6,363.7 522.7,366.8 522.8,363.6 522.9,366.0 523.1,364.9 523.2,361.1 523.3,364.1 523.4,363.3 523.5,363.6 523.7,361.6 523.8,359.6 523.9,361.5 524.0,359.1 524.1,362.5 524.3,358.6 524.4,359.3 524.5,358.5 524.6,360.1 524.7,359.2 524.9,357.2 525.0,360.0 525.1,356.1 525.2,358.6 525.3,357.1 525.5,360.5 525.6,361.8 525.7,357.7 525.8,358.1 525.9,359.9 526.1,358.8 526.2,360.4 526.3,359.3 526.4,360.4 526.5,362.7 526.7,358.7 526.8,362.8 526.9,356.5 527.0,361.2 527.1,362.8 527.3,361.5 527.4,361.0 527.5,360.9 527.6,360.1 527.7,362.4 527.9,365.2 528.0,362.8 528.1,360.2 528.2,358.7 528.3,364.8 528.5,360.6 528.6,358.6 528.7,363.5 528.8,357.4 528.9,362.3 529.1,361.1 529.2,361.9 529.3,357.4 529.4,359.2 529.5,360.7 529.7,361.7 529.8,364.3 529.9,361.6 530.0,362.3 530.1,361.4 530.3,365.0 530.4,358.8 530.5,359.5 530.6,358.1 530.7,362.4 530.9,361.2 531.0,363.4 531.1,359.0 531.2,361.0 531.3,357.1 531.5,358.9 531.6,358.8 531.7,359.3 531.8,363.4 531.9,359.3 532.1,364.1 532.2,360.6 532.3,360.2 532.4,363.9 532.5,363.0 532.7,362.2 532.8,361.4 532.9,361.4 533.0,361.9 533.1,363.7 533.3,361.5 533.4,357.1 533.5,363.3 533.6,359.1 533.7,364.7 533.9,363.8 534.0,360.0 534.1,361.1 534.2,359.6 534.3,361.5 534.5,363.8 534.6,362.3 534.7,363.0 534.8,359.8 534.9,360.3 535.1,358.8 535.2,362.4 535.3,361.4 535.4,361.7 535.5,361.6 535.7,361.3 535.8,358.6 535.9,361.0 536.0,359.1 536.1,361.2 536.3,365.2 536.4,364.6 536.5,362.2 536.6,359.6 536.7,361.9 536.9,364.7 537.0,361.5 537.1,362.2 537.2,360.5 537.3,360.0 537.5,361.1 537.6,362.9 537.7,363.6 537.8,362.2 537.9,361.6 538.1,360.6 538.2,362.1 538.3,362.3 538.4,360.0 538.5,359.3 538.7,360.4 538.8,363.1 538.9,361.8 539.0,357.1 539.1,363.8 539.3,362.6 539.4,360.4 539.5,364.3 539.6,363.2 539.7,360.1 539.9,360.8 540.0,366.2 540.1,361.5 540.2,363.3 540.3,365.4 540.5,360.6 540.6,363.8 540.7,362.9 540.8,364.6 540.9,361.4 541.1,361.3 541.2,361.5 541.3,358.2 541.4,361.7 541.5,363.4 541.7,361.6 541.8,361.8 541.9,361.0 542.0,367.0 542.1,360.6 542.3,358.2 542.4,360.4 542.5,363.2 542.6,357.6 542.7,360.2 542.9,357.5 543.0,359.6 543.1,362.0 543.2,364.7 543.3,361.2 543.5,360.4 543.6,362.3 543.7,364.2 543.8,360.0 543.9,363.2 544.1,359.0 544.2,362.9 544.3,361.1 544.4,362.6 544.5,361.2 544.7,361.1 544.8,366.4 544.9,363.6 545.0,363.4 545.1,363.4 545.3,362.4 545.4,359.9 545.5,364.1 545.6,361.1 545.7,362.9 545.9,363.6 546.0,365.2 546.1,364.0 546.2,364.7 546.3,361.8 546.5,359.8 546.6,361.8 546.7,361.4 546.8,364.3 546.9,361.2 547.1,364.1 547.2,364.1 547.3,361.6 547.4,363.2 547.5,360.6 547.7,361.5 547.8,362.3 547.9,362.9 548.0,361.4 548.1,361.2 548.3,361.6 548.4,359.5 548.5,362.8 548.6,364.3 548.7,364.2 548.9,363.5 549.0,363.4 549.1,362.0 549.2,358.6 549.3,363.9 549.5,363.7 549.6,363.2 549.7,364.1 549.8,363.6 549.9,360.5 550.1,359.1 550.2,362.6 550.3,360.9 550.4,358.5 550.5,359.1 550.7,359.7 550.8,358.2 550.9,358.8 551.0,359.8 551.1,357.5 551.3,359.9 551.4,359.9 551.5,358.7 551.6,362.0 551.7,358.8 551.9,362.0 552.0,362.9 552.1,360.3 552.2,360.3 552.3,360.0 552.5,359.3 552.6,363.9 552.7,362.5 552.8,364.2 552.9,363.6 553.1,360.5 553.2,361.7 553.3,361.9 553.4,361.8 553.5,363.6 553.7,360.5 553.8,365.0 553.9,361.9 554.0,364.4 554.1,364.9 554.3,359.1 554.4,363.5 554.5,361.1 554.6,363.5 554.7,362.9 554.9,358.6 555.0,359.5 555.1,359.6 555.2,358.3 555.3,357.5 555.5,356.6 555.6,357.0 555.7,356.4 555.8,357.0 555.9,357.3 556.1,355.5 556.2,362.0 556.3,356.4 556.4,358.1 556.5,358.0 556.7,359.0 556.8,360.1 556.9,357.7 557.0,361.3 557.1,361.0 557.3,361.2 557.4,356.3 557.5,359.7 557.6,360.0 557.7,363.0 557.9,360.5 558.0,359.4 558.1,363.5 558.2,361.7 558.3,361.7 558.5,361.1 558.6,360.5 558.7,358.7 558.8,362.5 558.9,362.4 559.1,363.6 559.2,360.5 559.3,362.3 559.4,361.2 559.5,360.7 559.7,362.2 559.8,362.1 559.9,361.3 560.0,361.1 560.1,361.0 560.3,361.1 560.4,360.6 560.5,357.9 560.6,361.2 560.7,359.7 560.9,359.8 561.0,357.8 561.1,361.0 561.2,360.7 561.3,361.5 561.5,359.2 561.6,359.7 561.7,360.3 561.8,360.9 561.9,356.8 562.1,360.5 562.2,364.7 562.3,363.5 562.4,363.1 562.5,360.9 562.7,362.7 562.8,359.3 562.9,361.8 563.0,358.5 563.1,359.1 563.3,356.1 563.4,356.0 563.5,357.2 563.6,351.0 563.7,351.5 563.9,349.8 564.0,348.8 564.1,346.0 564.2,344.4 564.3,343.4 564.5,343.0 564.6,339.6 564.7,337.3 564.8,337.0 564.9,334.5 565.1,332.3 565.2,330.7 565.3,329.2 565.4,326.1 565.5,323.6 565.7,319.7 565.8,317.2 565.9,311.3 566.0,305.1 566.1,299.5 566.3,293.9 566.4,288.2 566.5,283.2 566.6,278.9 566.7,273.0 566.9,269.4 567.0,264.3 567.1,256.5 567.2,248.1 567.3,238.7 567.5,224.9 567.6,213.3 567.7,199.9 567.8,185.4 567.9,174.9 568.1,165.5 568.2,157.3 568.3,150.5 568.4,147.5 568.5,142.8 568.7,138.8 568.8,134.9 568.9,132.6 569.0,129.7 569.1,129.0 569.3,126.4 569.4,124.0 569.5,124.5 569.6,121.5 569.7,121.4 569.9,119.7 570.0,119.6 570.1,118.0 570.2,118.1 570.3,119.5 570.5,119.4 570.6,122.1 570.7,122.3 570.8,125.0 570.9,125.3 571.1,127.0 571.2,129.6 571.3,130.3 571.4,133.3 571.5,136.5 571.7,138.5 571.8,140.9 571.9,145.3 572.0,149.7 572.1,156.7 572.3,164.8 572.4,172.9 572.5,180.9 572.6,188.5 572.7,195.4 572.9,204.0 573.0,210.8 573.1,217.1 573.2,224.6 573.3,229.6 573.5,235.9 573.6,241.1 573.7,246.7 573.8,251.1 573.9,254.5 574.1,259.6 574.2,261.8 574.3,264.9 574.4,268.5 574.5,272.4 574.7,274.6 574.8,276.2 574.9,278.2 575.0,281.8 575.1,282.8 575.3,284.9 575.4,287.7 575.5,288.6 575.6,290.8 575.7,292.9 575.9,292.6 576.0,295.6 576.1,297.5 576.2,299.0 576.3,298.6 576.5,300.6 576.6,302.3 576.7,304.5 576.8,305.3 576.9,306.9 577.1,307.9 577.2,310.4 577.3,310.4 577.4,311.5 577.5,313.8 577.7,315.0 577.8,315.7 577.9,317.5 578.0,318.0 578.1,319.1 578.3,319.2 578.4,321.7 578.5,322.4 578.6,322.5 578.7,325.4 578.9,325.0 579.0,327.0 579.1,327.5 579.2,329.0 579.3,329.9 579.5,333.3 579.6,333.0 579.7,335.0 579.8,335.0 579.9,336.3 580.1,337.0 580.2,337.1 580.3,338.8 580.4,339.9 580.5,340.8 580.7,342.2 580.8,342.2 580.9,343.6 581.0,344.8 581.1,344.9 581.3,346.7 581.4,347.5 581.5,348.4 581.6,349.4 581.7,350.0 581.9,349.2 582.0,350.7 582.1,351.0 582.2,351.0 582.3,352.0 582.5,352.9 582.6,353.2 582.7,353.4 582.8,352.8 582.9,354.7 583.1,354.7 583.2,352.4 583.3,353.4 583.4,353.4 583.5,353.2 583.7,350.5 583.8,355.2 583.9,356.1 584.0,352.2 584.1,358.6 584.3,361.2 584.4,356.7 584.5,360.2 584.6,359.9 584.7,360.3 584.9,363.2 585.0,360.1 585.1,363.7 585.2,359.7 585.3,359.1 585.5,362.8 585.6,359.2 585.7,360.9 585.8,357.5 585.9,361.1 586.1,364.6 586.2,364.6 586.3,359.1 586.4,361.8 586.5,360.0 586.7,363.0 586.8,361.9 586.9,365.1 587.0,360.0 587.1,359.3 587.3,362.5 587.4,360.1 587.5,362.7 587.6,360.8 587.7,362.6 587.9,363.6 588.0,361.1 588.1,365.8 588.2,358.6 588.3,365.2 588.5,365.9 588.6,361.4 588.7,363.8 588.8,360.4 588.9,364.2 589.1,358.4 589.2,358.7 589.3,363.1 589.4,357.2 589.5,361.8 589.7,360.9 589.8,362.1 589.9,360.2 590.0,359.9 590.1,360.9 590.3,360.0 590.4,360.3 590.5,359.7 590.6,363.2 590.7,361.6 590.9,363.2 591.0,361.3 591.1,361.5 591.2,362.0 591.3,363.1 591.5,358.5 591.6,364.0 591.7,361.3 591.8,363.2 591.9,359.6 592.1,360.1 592.2,361.7 592.3,361.3 592.4,364.3 592.5,364.8 592.7,361.5 592.8,363.2 592.9,366.4 593.0,363.9 593.1,366.2 593.3,366.6 593.4,364.0 593.5,363.7 593.6,364.4 593.7,364.7 593.9,365.7 594.0,364.0 594.1,363.8 594.2,364.4 594.3,359.0 594.5,364.1 594.6,363.4 594.7,365.2 594.8,364.2 594.9,363.8 595.1,362.9 595.2,369.7 595.3,361.9 595.4,362.8 595.5,363.3 595.7,365.6 595.8,367.0 595.9,365.7 596.0,362.2 596.1,362.2 596.3,363.4 596.4,362.0 596.5,365.2 596.6,365.5 596.7,361.1 596.9,361.5 597.0,362.3 597.1,361.8 597.2,364.1 597.3,368.6 597.5,364.9 597.6,362.4 597.7,365.1 597.8,363.3 597.9,363.5 598.1,366.3 598.2,363.5 598.3,364.2 598.4,367.0 598.5,362.1 598.7,366.1 598.8,363.0 598.9,362.9 599.0,365.3 599.1,365.5 599.3,362.9 599.4,363.2 599.5,361.2 599.6,363.1 599.7,362.3 599.9,362.7 600.0,361.1 600.1,364.6 600.2,366.1 600.3,361.4 600.5,362.6 600.6,363.3 600.7,358.9 600.8,364.7 600.9,362.5 601.1,360.2 601.2,362.3 601.3,362.8 601.4,361.5 601.5,363.0 601.7,365.8 601.8,365.4 601.9,361.9 602.0,362.3 602.1,366.2 602.3,363.7 602.4,363.3 602.5,363.4 602.6,362.1 602.7,363.0 602.9,365.0 603.0,365.3 603.1,363.4 603.2,366.8 603.3,367.7 603.5,363.0 603.6,362.4 603.7,363.4 603.8,363.9 603.9,367.4 604.1,367.1 604.2,365.6 604.3,361.3 604.4,364.9 604.5,364.0 604.7,365.8 604.8,361.7 604.9,367.8 605.0,361.1 605.1,364.3 605.3,369.5 605.4,364.6 605.5,363.9 605.6,364.2 605.7,364.8 605.9,366.6 606.0,366.9 606.1,366.4 606.2,367.9 606.3,363.5 606.5,369.0 606.6,366.4 606.7,366.9 606.8,368.8 606.9,363.0 607.1,364.8 607.2,366.1 607.3,366.1 607.4,364.5 607.5,360.7 607.7,363.0 607.8,365.0 607.9,362.9 608.0,364.5 608.1,362.3 608.3,362.5 608.4,362.0 608.5,362.9 608.6,363.3 608.7,365.9 608.9,362.9 609.0,361.0 609.1,365.7 609.2,361.1 609.3,363.8 609.5,363.8 609.6,363.9 609.7,361.5 609.8,363.0 609.9,363.0 610.1,365.7 610.2,361.2 610.3,366.3 610.4,362.4 610.5,362.7 610.7,363.9 610.8,367.7 610.9,365.3 611.0,366.8 611.1,362.3 611.3,364.6 611.4,364.1 611.5,364.4 611.6,364.1 611.7,362.5 611.9,360.4 612.0,362.9 612.1,361.9 612.2,363.0 612.3,363.5 612.5,366.5 612.6,365.0 612.7,365.5 612.8,363.2 612.9,369.9 613.1,368.5 613.2,365.3 613.3,363.6 613.4,365.1 613.5,364.7 613.7,363.2 613.8,361.9 613.9,361.5 614.0,363.6 614.1,362.5 614.3,365.2 614.4,366.0 614.5,363.0 614.6,361.0 614.7,362.8 614.9,367.4 615.0,361.7 615.1,360.2 615.2,362.4 615.3,364.4 615.5,365.6 615.6,366.2 615.7,361.4 615.8,364.8 615.9,364.7 616.1,364.6 616.2,364.5 616.3,363.4 616.4,364.7 616.5,363.1 616.7,364.5 616.8,364.6 616.9,366.2 617.0,362.5 617.1,360.0 617.3,361.1 617.4,360.1 617.5,362.8 617.6,363.6 617.7,363.7 617.9,364.4 618.0,360.9 618.1,360.2 618.2,364.0 618.3,362.0 618.5,365.5 618.6,362.3 618.7,361.4 618.8,364.4 618.9,360.4 619.1,363.5 619.2,362.0 619.3,359.3 619.4,365.2 619.5,361.2 619.7,362.5 619.8,359.2 619.9,362.0 620.0,362.2 620.1,361.0 620.3,358.6 620.4,363.0 620.5,363.7 620.6,363.4 620.7,360.0 620.9,365.1 621.0,363.9 621.1,362.8 621.2,363.2 621.3,361.8 621.5,362.8 621.6,365.3 621.7,357.3 621.8,359.7 621.9,362.2 622.1,363.1 622.2,363.6 622.3,366.0 622.4,364.8 622.5,362.5 622.7,362.5 622.8,360.4 622.9,363.3 623.0,364.7 623.1,362.0 623.3,362.9 623.4,366.8 623.5,366.0 623.6,363.2 623.7,366.4 623.9,364.9 624.0,366.9 624.1,362.9 624.2,360.8 624.3,368.4 624.5,366.1 624.6,362.5 624.7,362.9 624.8,363.3 624.9,365.4 625.1,366.0 625.2,363.1 625.3,360.2 625.4,359.9 625.5,356.9 625.7,364.5 625.8,360.4 625.9,359.9 626.0,356.5 626.1,361.3 626.3,357.2 626.4,362.9 626.5,357.8 626.6,361.9 626.7,362.4 626.9,360.0 627.0,362.0 627.1,361.1 627.2,362.3 627.3,364.0 627.5,361.2 627.6,363.6 627.7,364.6 627.8,364.7 627.9,367.0 628.1,365.7 628.2,362.1 628.3,361.9 628.4,362.0 628.5,358.5 628.7,360.5 628.8,359.9 628.9,358.2 629.0,358.1 629.1,356.0 629.3,359.2 629.4,357.8 629.5,358.0 629.6,358.8 629.7,358.5 629.9,356.8 630.0,356.1 630.1,359.5 630.2,360.0 630.3,359.9 630.5,358.4 630.6,359.7 630.7,357.6 630.8,357.1 630.9,358.4 631.1,361.6 631.2,360.8 631.3,360.4 631.4,360.1 631.5,356.6 631.7,359.5 631.8,356.7 631.9,358.2 632.0,358.9 632.1,354.5 632.3,359.9 632.4,354.3 632.5,360.1 632.6,356.5 632.7,357.3 632.9,357.7 633.0,358.8 633.1,360.5 633.2,360.1 633.3,357.4 633.5,358.7 633.6,356.7 633.7,359.5 633.8,361.1 633.9,362.4 634.1,363.6 634.2,361.0 634.3,364.8 634.4,365.0 634.5,365.9 634.7,363.7 634.8,358.5 634.9,365.4 635.0,368.0 635.1,366.0 635.3,362.7 635.4,364.9 635.5,364.9 635.6,362.3 635.7,363.6 635.9,364.9 636.0,362.0 636.1,364.6 636.2,362.7 636.3,358.7 636.5,366.5 636.6,359.1 636.7,365.8 636.8,361.8 636.9,366.5 637.1,363.1 637.2,364.1 637.3,364.0 637.4,364.4 637.5,359.9 637.7,360.9 637.8,365.6 637.9,365.9 638.0,362.7 638.1,364.9 638.3,358.2 638.4,359.1 638.5,360.5 638.6,365.0 638.7,363.0 638.9,359.7 639.0,363.5 639.1,360.4 639.2,361.9 639.3,360.3 639.5,362.4 639.6,362.5 639.7,365.1 639.8,362.9 639.9,364.4 640.1,361.4 640.2,365.4 640.3,361.0 640.4,360.5 640.5,361.0 640.7,364.9 640.8,364.1 640.9,361.0 641.0,360.9 641.1,361.5 641.3,361.0 641.4,362.5 641.5,362.3 641.6,362.5 641.7,361.6 641.9,361.0 642.0,361.7 642.1,363.1 642.2,359.7 642.3,361.7 642.5,364.3 642.6,357.6 642.7,368.0 642.8,362.1 642.9,362.9 643.1,364.8 643.2,365.8 643.3,364.1 643.4,361.9 643.5,362.2 643.7,362.9 643.8,363.3 643.9,363.4 644.0,361.6 644.1,362.9 644.3,362.5 644.4,360.1 644.5,363.5 644.6,361.7 644.7,362.3 644.9,363.7 645.0,359.2 645.1,363.8 645.2,362.7 645.3,363.7 645.5,361.3 645.6,361.2 645.7,359.4 645.8,359.6 645.9,359.8 646.1,362.0 646.2,361.2 646.3,363.7 646.4,365.1 646.5,360.8 646.7,364.5 646.8,361.5 646.9,359.7 647.0,362.4 647.1,359.4 647.3,361.7 647.4,361.8 647.5,360.2 647.6,357.9 647.7,363.8 647.9,360.9 648.0,362.9 648.1,361.1 648.2,360.8 648.3,364.7 648.5,364.1 648.6,360.5 648.7,361.6 648.8,363.7 648.9,362.5 649.1,360.9 649.2,361.0 649.3,366.8 649.4,363.9 649.5,359.8 649.7,363.9 649.8,364.1 649.9,363.1 650.0,362.9 650.1,363.2 650.3,363.0 650.4,365.3 650.5,363.1 650.6,362.4 650.7,363.8 650.9,364.5 651.0,365.7 651.1,364.4 651.2,367.4 651.3,366.3 651.5,366.2 651.6,370.5 651.7,365.9 651.8,369.4 651.9,368.1 652.1,367.9 652.2,366.7 652.3,366.0 652.4,364.1 652.5,366.8 652.7,365.1 652.8,363.3 652.9,364.8 653.0,364.9 653.1,363.0 653.3,362.1 653.4,362.4 653.5,365.8 653.6,363.1 653.7,363.3 653.9,360.0 654.0,363.2 654.1,363.6 654.2,360.5 654.3,364.7 654.5,361.1 654.6,361.4 654.7,364.2 654.8,363.8 654.9,363.4 655.1,360.7 655.2,364.5 655.3,365.7 655.4,363.5 655.5,364.3 655.7,365.7 655.8,363.8 655.9,362.7 656.0,360.8 656.1,361.7 656.3,361.5 656.4,363.4 656.5,360.4 656.6,363.7 656.7,363.9 656.9,363.6 657.0,364.6 657.1,363.2 657.2,362.5 657.3,364.1 657.5,365.4 657.6,364.7 657.7,366.5 657.8,364.0 657.9,363.3 658.1,366.7 658.2,366.9 658.3,364.4 658.4,361.9 658.5,366.4 658.7,363.3 658.8,364.7 658.9,367.2 659.0,365.4 659.1,364.5 659.3,365.8 659.4,361.1 659.5,368.9 659.6,365.1 659.7,364.8 659.9,364.8 660.0,364.1 660.1,362.3 660.2,360.9 660.3,361.2 660.5,359.7 660.6,360.8 660.7,362.1 660.8,361.2 660.9,357.4 661.1,360.7 661.2,360.5 661.3,359.2 661.4,359.1 661.5,360.7 661.7,359.6 661.8,359.0 661.9,359.2 662.0,362.5 662.1,365.9 662.3,365.9 662.4,366.3 662.5,364.1 662.6,362.6 662.7,364.1 662.9,363.2 663.0,359.0 663.1,366.8 663.2,361.8 663.3,364.1 663.5,365.0 663.6,364.4 663.7,364.1 663.8,359.8 663.9,362.6 664.1,360.7 664.2,365.8 664.3,360.4 664.4,362.4 664.5,361.5 664.7,365.0 664.8,362.2 664.9,363.0 665.0,363.7 665.1,363.2 665.3,362.9 665.4,362.6 665.5,364.9 665.6,361.8 665.7,365.7 665.9,365.2 666.0,366.5 666.1,368.5 666.2,360.0 666.3,360.1 666.5,364.4 666.6,364.4 666.7,365.4 666.8,363.6 666.9,363.7 667.1,365.7 667.2,363.5 667.3,365.7 667.4,363.1 667.5,360.1 667.7,360.5 667.8,361.0 667.9,361.6 668.0,357.1 668.1,361.2 668.3,364.9 668.4,361.5 668.5,365.5 668.6,361.5 668.7,362.2 668.9,359.4 669.0,360.0 669.1,363.6 669.2,363.8 669.3,362.4 669.5,366.0 669.6,365.7 669.7,361.5 669.8,366.2 669.9,363.7 670.1,359.2 670.2,364.4 670.3,359.6 670.4,365.5 670.5,364.3 670.7,359.7 670.8,360.7 670.9,361.8 671.0,361.9 671.1,359.7 671.3,358.2 671.4,364.2 671.5,362.8 671.6,360.4 671.7,362.9 671.9,360.7 672.0,364.5 672.1,360.1 672.2,361.4 672.3,362.4 672.5,362.3 672.6,360.0 672.7,365.4 672.8,362.7 672.9,365.1 673.1,365.2 673.2,361.0 673.3,363.1 673.4,363.7 673.5,362.9 673.7,365.4 673.8,362.2 673.9,365.5 674.0,363.5 674.1,364.6 674.3,363.0 674.4,366.5 674.5,363.2 674.6,363.0 674.7,364.2 674.9,365.2 675.0,366.1 675.1,364.8 675.2,363.1 675.3,364.6 675.5,366.8 675.6,362.4 675.7,362.7 675.8,364.6 675.9,366.4 676.1,365.2 676.2,365.1 676.3,365.4 676.4,363.8 676.5,367.9 676.7,363.9 676.8,364.5 676.9,362.0 677.0,365.2 677.1,363.5 677.3,363.7 677.4,366.7 677.5,358.1 677.6,362.6 677.7,360.8 677.9,361.0 678.0,361.1 678.1,360.6 678.2,364.0 678.3,359.4 678.5,361.3 678.6,360.9 678.7,358.6 678.8,361.2 678.9,358.0 679.1,360.0 679.2,361.7 679.3,362.6 679.4,365.6 679.5,359.7 679.7,360.8 679.8,364.3 679.9,363.8 680.0,366.6 680.1,361.1 680.3,362.6 680.4,362.2 680.5,363.1 680.6,362.5 680.7,362.6 680.9,362.7 681.0,362.7 681.1,363.0 681.2,358.5 681.3,357.7 681.5,366.2 681.6,362.7 681.7,364.0 681.8,364.2 681.9,361.6 682.1,369.3 682.2,361.3 682.3,366.5 682.4,362.2 682.5,363.1 682.7,363.3 682.8,361.9 682.9,363.7 683.0,358.0 683.1,364.7 683.3,364.6 683.4,361.9 683.5,361.8 683.6,359.5 683.7,362.6 683.9,364.9 684.0,364.0 684.1,364.7 684.2,364.1 684.3,362.5 684.5,364.1 684.6,364.8 684.7,362.3 684.8,365.4 684.9,363.7 685.1,363.0 685.2,365.0 685.3,361.7 685.4,364.2 685.5,360.4 685.7,364.3 685.8,364.7 685.9,365.9 686.0,363.3 686.1,362.1 686.3,366.2 686.4,366.8 686.5,365.6" fill="none" stroke="#ff7f0e" stroke-width="2.5" stroke-linejoin="round" stroke-linecap="butt"/></g><rect x="52.6" y="39.1" width="631.0" height="350.29999999999995" fill="none" stroke="#000" stroke-width="1.3"/><line x1="99.70" y1="389.4" x2="99.70" y2="394.26" stroke="#000" stroke-width="1.3"/><line x1="178.66" y1="389.4" x2="178.66" y2="394.26" stroke="#000" stroke-width="1.3"/><line x1="257.61" y1="389.4" x2="257.61" y2="394.26" stroke="#000" stroke-width="1.3"/><line x1="336.57" y1="389.4" x2="336.57" y2="394.26" stroke="#000" stroke-width="1.3"/><line x1="415.53" y1="389.4" x2="415.53" y2="394.26" stroke="#000" stroke-width="1.3"/><line x1="494.49" y1="389.4" x2="494.49" y2="394.26" stroke="#000" stroke-width="1.3"/><line x1="573.44" y1="389.4" x2="573.44" y2="394.26" stroke="#000" stroke-width="1.3"/><line x1="652.40" y1="389.4" x2="652.40" y2="394.26" stroke="#000" stroke-width="1.3"/><line x1="60.06" y1="39.1" x2="60.06" y2="34.24" stroke="#000" stroke-width="1.3"/><line x1="141.64" y1="39.1" x2="141.64" y2="34.24" stroke="#000" stroke-width="1.3"/><line x1="234.87" y1="39.1" x2="234.87" y2="34.24" stroke="#000" stroke-width="1.3"/><line x1="342.45" y1="39.1" x2="342.45" y2="34.24" stroke="#000" stroke-width="1.3"/><line x1="467.96" y1="39.1" x2="467.96" y2="34.24" stroke="#000" stroke-width="1.3"/><line x1="616.28" y1="39.1" x2="616.28" y2="34.24" stroke="#000" stroke-width="1.3"/><line x1="52.6" y1="364.10" x2="47.74" y2="364.10" stroke="#000" stroke-width="1.3"/><line x1="52.6" y1="315.88" x2="47.74" y2="315.88" stroke="#000" stroke-width="1.3"/><line x1="52.6" y1="267.67" x2="47.74" y2="267.67" stroke="#000" stroke-width="1.3"/><line x1="52.6" y1="219.45" x2="47.74" y2="219.45" stroke="#000" stroke-width="1.3"/><line x1="52.6" y1="171.23" x2="47.74" y2="171.23" stroke="#000" stroke-width="1.3"/><line x1="52.6" y1="123.02" x2="47.74" y2="123.02" stroke="#000" stroke-width="1.3"/><line x1="52.6" y1="74.80" x2="47.74" y2="74.80" stroke="#000" stroke-width="1.3"/><g stroke="#000" stroke-width="2.08" fill="none"><line x1="132.4" y1="375.4" x2="382.1" y2="375.4"/><line x1="132.4" y1="370.0" x2="132.4" y2="380.9"/><line x1="382.1" y1="370.0" x2="382.1" y2="380.9"/></g><line x1="535.20" y1="83.60" x2="553.03" y2="125.00" stroke="#000" stroke-width="1.9"/><polygon points="557.90,136.30 546.40,122.74 552.84,124.54 555.95,118.63" fill="#000" stroke="#000" stroke-width="0.6" stroke-linejoin="miter"/><line x1="535.10" y1="247.80" x2="535.10" y2="293.30" stroke="#000" stroke-width="1.9"/><polygon points="535.10,305.60 529.90,288.60 535.10,292.80 540.30,288.60" fill="#000" stroke="#000" stroke-width="0.6" stroke-linejoin="miter"/><line x1="468.30" y1="213.90" x2="468.39" y2="297.30" stroke="#000" stroke-width="1.9"/><polygon points="468.40,309.60 463.18,292.61 468.39,296.80 473.58,292.59" fill="#000" stroke="#000" stroke-width="0.6" stroke-linejoin="miter"/><line x1="390.60" y1="219.60" x2="434.29" y2="277.48" stroke="#000" stroke-width="1.9"/><polygon points="441.70,287.30 427.31,276.86 433.99,277.08 435.61,270.60" fill="#000" stroke="#000" stroke-width="0.6" stroke-linejoin="miter"/><line x1="291.50" y1="305.10" x2="291.50" y2="226.10" stroke="#000" stroke-width="1.9"/><polygon points="291.50,213.80 296.70,230.80 291.50,226.60 286.30,230.80" fill="#000" stroke="#000" stroke-width="0.6" stroke-linejoin="miter"/><line x1="219.60" y1="329.40" x2="219.60" y2="298.60" stroke="#000" stroke-width="1.9"/><polygon points="219.60,286.30 224.80,303.30 219.60,299.10 214.40,303.30" fill="#000" stroke="#000" stroke-width="0.6" stroke-linejoin="miter"/><line x1="630.10" y1="283.60" x2="630.10" y2="329.60" stroke="#000" stroke-width="1.9"/><polygon points="630.10,341.90 624.90,324.90 630.10,329.10 635.30,324.90" fill="#000" stroke="#000" stroke-width="0.6" stroke-linejoin="miter"/><line x1="63.2" y1="56.9" x2="93.2" y2="56.9" stroke="#1f77b4" stroke-width="2.4"/><line x1="63.2" y1="76.7" x2="93.2" y2="76.7" stroke="#ff7f0e" stroke-width="2.4"/><path d="M173.4,58.7 C175.5,57.6 176.8,56.2 178.2,55.2 C179.6,54.4 182.2,54.4 183.6,55.2 C185,56.2 186.3,57.6 188.4,58.7 Z" fill="#1f77b4"/><path d="M173.0,77.7 C175.2,76.6 176.6,75.0 178.0,74.2 C179.6,73.5 182.4,73.5 184.0,74.2 C185.4,75.0 186.8,76.6 189.0,77.7 C187.6,78.4 187.2,79.3 186.4,79.9 L175.6,79.9 C174.8,79.3 174.4,78.4 173.0,77.7 Z" fill="#ff7f0e"/><line x1="174" y1="77.6" x2="188" y2="77.6" stroke="#fff" stroke-opacity="0.3" stroke-width="0.6"/><line x1="175" y1="78.9" x2="187" y2="78.9" stroke="#fff" stroke-opacity="0.25" stroke-width="0.5"/>
<g transform="translate(309.04,10.90) scale(1,1.04)"><text x="0" y="0">Wavelength (µm)</text></g><g transform="translate(329.18,428.10) scale(1,1.04)"><text x="0" y="0">Energy (eV)</text></g><g transform="translate(50.14,27.00) scale(1,1.04)"><text x="0" y="0"> .6</text><path transform="translate(0.00,0) scale(0.006660,-0.006660)" d="M763 0L583 0L583 1147C540 1106 483 1064 413 1023C343 982 280 951 223 930L223 1104C324 1151 412 1208 487 1275C562 1342 615 1406 646 1467L763 1467Z" fill="#000"/></g><g transform="translate(131.71,27.00) scale(1,1.04)"><text x="0" y="0"> .5</text><path transform="translate(0.00,0) scale(0.006660,-0.006660)" d="M763 0L583 0L583 1147C540 1106 483 1064 413 1023C343 982 280 951 223 930L223 1104C324 1151 412 1208 487 1275C562 1342 615 1406 646 1467L763 1467Z" fill="#000"/></g><g transform="translate(224.85,27.00) scale(1,1.04)"><text x="0" y="0"> .4</text><path transform="translate(0.00,0) scale(0.006660,-0.006660)" d="M763 0L583 0L583 1147C540 1106 483 1064 413 1023C343 982 280 951 223 930L223 1104C324 1151 412 1208 487 1275C562 1342 615 1406 646 1467L763 1467Z" fill="#000"/></g><g transform="translate(332.53,27.00) scale(1,1.04)"><text x="0" y="0"> .3</text><path transform="translate(0.00,0) scale(0.006660,-0.006660)" d="M763 0L583 0L583 1147C540 1106 483 1064 413 1023C343 982 280 951 223 930L223 1104C324 1151 412 1208 487 1275C562 1342 615 1406 646 1467L763 1467Z" fill="#000"/></g><g transform="translate(458.08,27.00) scale(1,1.04)"><text x="0" y="0"> .2</text><path transform="translate(0.00,0) scale(0.006660,-0.006660)" d="M763 0L583 0L583 1147C540 1106 483 1064 413 1023C343 982 280 951 223 930L223 1104C324 1151 412 1208 487 1275C562 1342 615 1406 646 1467L763 1467Z" fill="#000"/></g><g transform="translate(607.31,27.00) scale(1,1.04)"><text x="0" y="0"> . </text><path transform="translate(0.00,0) scale(0.006660,-0.006660)" d="M763 0L583 0L583 1147C540 1106 483 1064 413 1023C343 982 280 951 223 930L223 1104C324 1151 412 1208 487 1275C562 1342 615 1406 646 1467L763 1467Z" fill="#000"/><path transform="translate(11.38,0) scale(0.006660,-0.006660)" d="M763 0L583 0L583 1147C540 1106 483 1064 413 1023C343 982 280 951 223 930L223 1104C324 1151 412 1208 487 1275C562 1342 615 1406 646 1467L763 1467Z" fill="#000"/></g><g transform="translate(86.43,409.60) scale(1,1.04)"><text x="0" y="0">0.80</text></g><g transform="translate(165.40,409.60) scale(1,1.04)"><text x="0" y="0">0.85</text></g><g transform="translate(244.34,409.60) scale(1,1.04)"><text x="0" y="0">0.90</text></g><g transform="translate(323.32,409.60) scale(1,1.04)"><text x="0" y="0">0.95</text></g><g transform="translate(401.78,409.60) scale(1,1.04)"><text x="0" y="0"> .00</text><path transform="translate(0.00,0) scale(0.006660,-0.006660)" d="M763 0L583 0L583 1147C540 1106 483 1064 413 1023C343 982 280 951 223 930L223 1104C324 1151 412 1208 487 1275C562 1342 615 1406 646 1467L763 1467Z" fill="#000"/></g><g transform="translate(480.76,409.60) scale(1,1.04)"><text x="0" y="0"> .05</text><path transform="translate(0.00,0) scale(0.006660,-0.006660)" d="M763 0L583 0L583 1147C540 1106 483 1064 413 1023C343 982 280 951 223 930L223 1104C324 1151 412 1208 487 1275C562 1342 615 1406 646 1467L763 1467Z" fill="#000"/></g><g transform="translate(559.69,409.60) scale(1,1.04)"><text x="0" y="0"> . 0</text><path transform="translate(0.00,0) scale(0.006660,-0.006660)" d="M763 0L583 0L583 1147C540 1106 483 1064 413 1023C343 982 280 951 223 930L223 1104C324 1151 412 1208 487 1275C562 1342 615 1406 646 1467L763 1467Z" fill="#000"/><path transform="translate(11.38,0) scale(0.006660,-0.006660)" d="M763 0L583 0L583 1147C540 1106 483 1064 413 1023C343 982 280 951 223 930L223 1104C324 1151 412 1208 487 1275C562 1342 615 1406 646 1467L763 1467Z" fill="#000"/></g><g transform="translate(638.67,409.60) scale(1,1.04)"><text x="0" y="0"> . 5</text><path transform="translate(0.00,0) scale(0.006660,-0.006660)" d="M763 0L583 0L583 1147C540 1106 483 1064 413 1023C343 982 280 951 223 930L223 1104C324 1151 412 1208 487 1275C562 1342 615 1406 646 1467L763 1467Z" fill="#000"/><path transform="translate(11.38,0) scale(0.006660,-0.006660)" d="M763 0L583 0L583 1147C540 1106 483 1064 413 1023C343 982 280 951 223 930L223 1104C324 1151 412 1208 487 1275C562 1342 615 1406 646 1467L763 1467Z" fill="#000"/></g><g transform="translate(35.55,369.40) scale(1,1.04)"><text x="0" y="0">0</text></g><g transform="translate(26.96,321.18) scale(1,1.04)"><text x="0" y="0">20</text></g><g transform="translate(26.96,272.97) scale(1,1.04)"><text x="0" y="0">40</text></g><g transform="translate(26.96,224.75) scale(1,1.04)"><text x="0" y="0">60</text></g><g transform="translate(26.96,176.53) scale(1,1.04)"><text x="0" y="0">80</text></g><g transform="translate(18.08,128.32) scale(1,1.04)"><text x="0" y="0"> 00</text><path transform="translate(0.00,0) scale(0.006660,-0.006660)" d="M763 0L583 0L583 1147C540 1106 483 1064 413 1023C343 982 280 951 223 930L223 1104C324 1151 412 1208 487 1275C562 1342 615 1406 646 1467L763 1467Z" fill="#000"/></g><g transform="translate(18.08,80.10) scale(1,1.04)"><text x="0" y="0"> 20</text><path transform="translate(0.00,0) scale(0.006660,-0.006660)" d="M763 0L583 0L583 1147C540 1106 483 1064 413 1023C343 982 280 951 223 930L223 1104C324 1151 412 1208 487 1275C562 1342 615 1406 646 1467L763 1467Z" fill="#000"/></g><g transform="translate(102.38,61.80) scale(1,1.04)"><text x="0" y="0">Sample A</text></g><g transform="translate(102.38,81.40) scale(1,1.04)"><text x="0" y="0">Sample B</text></g><g transform="translate(620.79,63.00) scale(1,1.04)"><text x="0" y="0">T =  0 K</text><path transform="translate(23.88,0) scale(0.006660,-0.006660)" d="M763 0L583 0L583 1147C540 1106 483 1064 413 1023C343 982 280 951 223 930L223 1104C324 1151 412 1208 487 1275C562 1342 615 1406 646 1467L763 1467Z" fill="#000"/></g><g transform="translate(503.68,54.00) scale(1,1.04)"><text x="0" y="0">FE</text></g><g transform="translate(520.89,56.90) scale(1,1.04)"><text x="0" y="0">TO/LO</text></g><g transform="translate(498.21,70.80) scale(1,1.04)"><text x="0" y="0"> .098 eV</text><path transform="translate(0.00,0) scale(0.006660,-0.006660)" d="M763 0L583 0L583 1147C540 1106 483 1064 413 1023C343 982 280 951 223 930L223 1104C324 1151 412 1208 487 1275C562 1342 615 1406 646 1467L763 1467Z" fill="#000"/></g><g transform="translate(510.74,218.10) scale(1,1.04)"><text x="0" y="0">WL</text></g><g transform="translate(529.78,221.00) scale(1,1.04)"><text x="0" y="0">NP</text></g><g transform="translate(498.41,235.60) scale(1,1.04)"><text x="0" y="0"> .080 eV</text><path transform="translate(0.00,0) scale(0.006660,-0.006660)" d="M763 0L583 0L583 1147C540 1106 483 1064 413 1023C343 982 280 951 223 930L223 1104C324 1151 412 1208 487 1275C562 1342 615 1406 646 1467L763 1467Z" fill="#000"/></g><g transform="translate(448.39,183.40) scale(1,1.04)"><text x="0" y="0">TO+O</text></g><g transform="translate(485.58,177.50) scale(1,1.04)"><text x="0" y="0">Γ</text></g><g transform="translate(441.11,198.80) scale(1,1.04)"><text x="0" y="0"> .034 eV</text><path transform="translate(0.00,0) scale(0.006660,-0.006660)" d="M763 0L583 0L583 1147C540 1106 483 1064 413 1023C343 982 280 951 223 930L223 1104C324 1151 412 1208 487 1275C562 1342 615 1406 646 1467L763 1467Z" fill="#000"/></g><g transform="translate(353.34,189.90) scale(1,1.04)"><text x="0" y="0">WL</text></g><g transform="translate(374.69,192.80) scale(1,1.04)"><text x="0" y="0">TO</text></g><g transform="translate(340.81,207.60) scale(1,1.04)"><text x="0" y="0"> .020 eV</text><path transform="translate(0.00,0) scale(0.006660,-0.006660)" d="M763 0L583 0L583 1147C540 1106 483 1064 413 1023C343 982 280 951 223 930L223 1104C324 1151 412 1208 487 1275C562 1342 615 1406 646 1467L763 1467Z" fill="#000"/></g><g transform="translate(274.75,324.00) scale(1,1.04)"><text x="0" y="0">QD</text></g><g transform="translate(294.18,327.00) scale(1,1.04)"><text x="0" y="0">NP</text></g><g transform="translate(267.27,341.20) scale(1,1.04)"><text x="0" y="0">0.92 eV</text></g><g transform="translate(202.85,343.40) scale(1,1.04)"><text x="0" y="0">QD</text></g><g transform="translate(223.29,346.00) scale(1,1.04)"><text x="0" y="0">TO</text></g><g transform="translate(195.17,360.90) scale(1,1.04)"><text x="0" y="0">0.88 eV</text></g><g transform="translate(612.58,254.80) scale(1,1.04)"><text x="0" y="0">FE</text></g><g transform="translate(630.09,257.60) scale(1,1.04)"><text x="0" y="0">TA</text></g><g transform="translate(602.01,272.20) scale(1,1.04)"><text x="0" y="0"> . 37 eV</text><path transform="translate(0.00,0) scale(0.006660,-0.006660)" d="M763 0L583 0L583 1147C540 1106 483 1064 413 1023C343 982 280 951 223 930L223 1104C324 1151 412 1208 487 1275C562 1342 615 1406 646 1467L763 1467Z" fill="#000"/><path transform="translate(11.38,0) scale(0.006660,-0.006660)" d="M763 0L583 0L583 1147C540 1106 483 1064 413 1023C343 982 280 951 223 930L223 1104C324 1151 412 1208 487 1275C562 1342 615 1406 646 1467L763 1467Z" fill="#000"/></g><g transform="translate(11.0,274.7) rotate(-90) translate(-1.12,0) scale(1,1.04)"><text x="0" y="0">PL intensity (a. u.)</text></g>

</svg>
</body></html>
